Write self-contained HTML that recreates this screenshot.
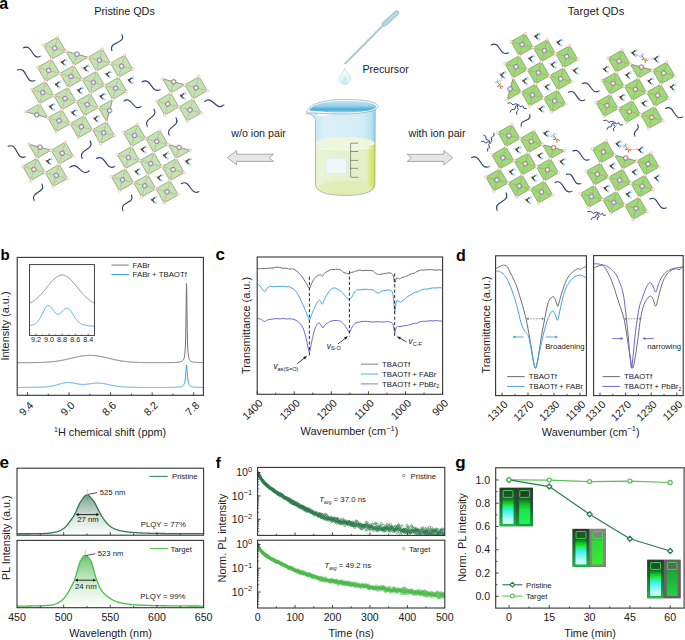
<!DOCTYPE html>
<html><head><meta charset="utf-8"><title>Figure</title><style>html,body{margin:0;padding:0;background:#fff;width:685px;height:640px;overflow:hidden}svg{display:block}text{font-family:"Liberation Sans",sans-serif}</style></head><body>
<svg width="685" height="640" viewBox="0 0 685 640">
<rect width="685" height="640" fill="#fff"/>
<g id="panel-a">
<path d="M23.4,47.8 C32.65,43.38 31.35,60.72 40.6,56.3" fill="none" stroke="#2d3f70" stroke-width="1.15" stroke-linecap="round"/>
<circle cx="40.6" cy="56.3" r="0.8" fill="#8fb8e8"/>
<path d="M111.9,50.6 C108.62,41.03 125.48,44.27 122.2,34.7" fill="none" stroke="#2d3f70" stroke-width="1.15" stroke-linecap="round"/>
<circle cx="122.2" cy="34.7" r="0.8" fill="#8fb8e8"/>
<path d="M17.5,70 C27.68,66.12 24.82,84.38 35,80.5" fill="none" stroke="#2d3f70" stroke-width="1.15" stroke-linecap="round"/>
<circle cx="35" cy="80.5" r="0.8" fill="#8fb8e8"/>
<path d="M124,101 C131.92,95.67 133.08,111.83 141,106.5" fill="none" stroke="#2d3f70" stroke-width="1.15" stroke-linecap="round"/>
<circle cx="141" cy="106.5" r="0.8" fill="#8fb8e8"/>
<path d="M142.1,81.8 C151.37,76.65 151.13,94.65 160.4,89.5" fill="none" stroke="#2d3f70" stroke-width="1.15" stroke-linecap="round"/>
<circle cx="160.4" cy="89.5" r="0.8" fill="#8fb8e8"/>
<path d="M204.7,101.5 C212.44,94.67 215.96,111.83 223.7,105" fill="none" stroke="#2d3f70" stroke-width="1.15" stroke-linecap="round"/>
<circle cx="223.7" cy="105" r="0.8" fill="#8fb8e8"/>
<path d="M154,109.2 C159.16,117.67 142.34,118.13 147.5,126.6" fill="none" stroke="#2d3f70" stroke-width="1.15" stroke-linecap="round"/>
<circle cx="147.5" cy="126.6" r="0.8" fill="#8fb8e8"/>
<path d="M176,117.8 C181.29,126.37 164.21,126.93 169.5,135.5" fill="none" stroke="#2d3f70" stroke-width="1.15" stroke-linecap="round"/>
<circle cx="169.5" cy="135.5" r="0.8" fill="#8fb8e8"/>
<path d="M8.2,146.3 C18.29,142.54 15.31,160.56 25.4,156.8" fill="none" stroke="#2d3f70" stroke-width="1.15" stroke-linecap="round"/>
<circle cx="25.4" cy="156.8" r="0.8" fill="#8fb8e8"/>
<path d="M89.3,170.8 C81.46,177.75 77.84,160.35 70,167.3" fill="none" stroke="#2d3f70" stroke-width="1.15" stroke-linecap="round"/>
<circle cx="70" cy="167.3" r="0.8" fill="#8fb8e8"/>
<path d="M90.2,141 C94.94,150.09 77.56,149.41 82.3,158.5" fill="none" stroke="#2d3f70" stroke-width="1.15" stroke-linecap="round"/>
<circle cx="82.3" cy="158.5" r="0.8" fill="#8fb8e8"/>
<path d="M42,184 C46.4,192.75 29.8,191.85 34.2,200.6" fill="none" stroke="#2d3f70" stroke-width="1.15" stroke-linecap="round"/>
<circle cx="34.2" cy="200.6" r="0.8" fill="#8fb8e8"/>
<path d="M96.4,158.5 C105.79,153.38 105.41,171.52 114.8,166.4" fill="none" stroke="#2d3f70" stroke-width="1.15" stroke-linecap="round"/>
<circle cx="114.8" cy="166.4" r="0.8" fill="#8fb8e8"/>
<path d="M181.5,183.6 C190.59,178.86 189.91,196.24 199,191.5" fill="none" stroke="#2d3f70" stroke-width="1.15" stroke-linecap="round"/>
<circle cx="199" cy="191.5" r="0.8" fill="#8fb8e8"/>
<path d="M131.5,195 C135.22,203.83 119.08,201.87 122.8,210.7" fill="none" stroke="#2d3f70" stroke-width="1.15" stroke-linecap="round"/>
<circle cx="122.8" cy="210.7" r="0.8" fill="#8fb8e8"/>
<path d="M491.2,44.9 C500.15,40.25 499.45,57.35 508.4,52.7" fill="none" stroke="#2d3f70" stroke-width="1.15" stroke-linecap="round"/>
<circle cx="508.4" cy="52.7" r="0.8" fill="#8fb8e8"/>
<path d="M582.3,83.6 C590.92,79.03 590.38,95.57 599,91" fill="none" stroke="#2d3f70" stroke-width="1.15" stroke-linecap="round"/>
<circle cx="599" cy="91" r="0.8" fill="#8fb8e8"/>
<path d="M568.5,92.2 C577.15,87.93 576.14,104.27 584.8,100" fill="none" stroke="#2d3f70" stroke-width="1.15" stroke-linecap="round"/>
<circle cx="584.8" cy="100" r="0.8" fill="#8fb8e8"/>
<path d="M529.8,114.5 C532.08,122.06 519.02,119.04 521.3,126.6" fill="none" stroke="#2d3f70" stroke-width="1.15" stroke-linecap="round"/>
<circle cx="521.3" cy="126.6" r="0.8" fill="#8fb8e8"/>
<path d="M665.5,108.4 C674.79,104.01 673.41,121.39 682.7,117" fill="none" stroke="#2d3f70" stroke-width="1.15" stroke-linecap="round"/>
<circle cx="682.7" cy="117" r="0.8" fill="#8fb8e8"/>
<path d="M637.6,124.8 C641.45,129.59 631.15,131.21 635,136" fill="none" stroke="#2d3f70" stroke-width="1.15" stroke-linecap="round"/>
<circle cx="635" cy="136" r="0.8" fill="#8fb8e8"/>
<path d="M471.6,157.6 C481.14,153.07 479.76,170.93 489.3,166.4" fill="none" stroke="#2d3f70" stroke-width="1.15" stroke-linecap="round"/>
<circle cx="489.3" cy="166.4" r="0.8" fill="#8fb8e8"/>
<path d="M572.8,151 C581.88,146.79 580.42,163.71 589.5,159.5" fill="none" stroke="#2d3f70" stroke-width="1.15" stroke-linecap="round"/>
<circle cx="589.5" cy="159.5" r="0.8" fill="#8fb8e8"/>
<path d="M566.4,174.4 C575.04,171.27 572.36,186.63 581,183.5" fill="none" stroke="#2d3f70" stroke-width="1.15" stroke-linecap="round"/>
<circle cx="581" cy="183.5" r="0.8" fill="#8fb8e8"/>
<path d="M555.1,182.4 C564.42,178.24 562.68,195.46 572,191.3" fill="none" stroke="#2d3f70" stroke-width="1.15" stroke-linecap="round"/>
<circle cx="572" cy="191.3" r="0.8" fill="#8fb8e8"/>
<path d="M506.1,192.9 C510.63,202.44 492.77,201.06 497.3,210.6" fill="none" stroke="#2d3f70" stroke-width="1.15" stroke-linecap="round"/>
<circle cx="497.3" cy="210.6" r="0.8" fill="#8fb8e8"/>
<path d="M649.7,198.9 C658.94,194.75 657.26,211.85 666.5,207.7" fill="none" stroke="#2d3f70" stroke-width="1.15" stroke-linecap="round"/>
<circle cx="666.5" cy="207.7" r="0.8" fill="#8fb8e8"/>
<polyline points="518.4,105 515.93,103.66 513,104.99 510.68,102.76 507.9,103.2" fill="none" stroke="#2d3f70" stroke-width="0.95" stroke-linejoin="round" stroke-linecap="round"/>
<polyline points="518.4,105 515.76,106.09 514.89,109.23 511.66,109.64 510.2,112.1" fill="none" stroke="#2d3f70" stroke-width="0.95" stroke-linejoin="round" stroke-linecap="round"/>
<polyline points="518.4,105 517.14,107.21 518.54,109.84 516.39,111.91 516.9,114.4" fill="none" stroke="#2d3f70" stroke-width="0.95" stroke-linejoin="round" stroke-linecap="round"/>
<polyline points="518.4,105 520.01,106.7 522.71,105.93 523.96,108.45 526.3,108.5" fill="none" stroke="#2d3f70" stroke-width="0.95" stroke-linejoin="round" stroke-linecap="round"/>
<circle cx="518.4" cy="105" r="0.9" fill="#7d8fd0"/>
<polyline points="614.7,122.5 612.1,121.14 609.05,122.44 606.6,120.19 603.7,120.6" fill="none" stroke="#2d3f70" stroke-width="0.95" stroke-linejoin="round" stroke-linecap="round"/>
<polyline points="614.7,122.5 612.15,123.58 611.4,126.67 608.25,127.08 606.9,129.5" fill="none" stroke="#2d3f70" stroke-width="0.95" stroke-linejoin="round" stroke-linecap="round"/>
<polyline points="614.7,122.5 613.6,124.54 615.2,126.83 613.2,128.79 613.9,131" fill="none" stroke="#2d3f70" stroke-width="0.95" stroke-linejoin="round" stroke-linecap="round"/>
<polyline points="614.7,122.5 616.4,123.94 618.85,122.79 620.3,125.09 622.5,124.8" fill="none" stroke="#2d3f70" stroke-width="0.95" stroke-linejoin="round" stroke-linecap="round"/>
<circle cx="614.7" cy="122.5" r="0.9" fill="#7d8fd0"/>
<polyline points="490,143 489.1,140.44 486.1,139.56 485.9,136.44 483.6,135" fill="none" stroke="#2d3f70" stroke-width="0.95" stroke-linejoin="round" stroke-linecap="round"/>
<polyline points="490,143 491.84,140.83 491.16,137.67 493.84,135.83 494,133" fill="none" stroke="#2d3f70" stroke-width="0.95" stroke-linejoin="round" stroke-linecap="round"/>
<polyline points="490,143 487.95,141.74 485.45,143.14 483.55,140.99 481.2,141.5" fill="none" stroke="#2d3f70" stroke-width="0.95" stroke-linejoin="round" stroke-linecap="round"/>
<polyline points="490,143 488.56,144.75 489.71,147.25 487.41,148.75 487.7,151" fill="none" stroke="#2d3f70" stroke-width="0.95" stroke-linejoin="round" stroke-linecap="round"/>
<circle cx="490" cy="143" r="0.9" fill="#7d8fd0"/>
<polyline points="599,213.3 596.33,212.01 593.27,213.39 590.73,211.21 587.8,211.7" fill="none" stroke="#2d3f70" stroke-width="0.95" stroke-linejoin="round" stroke-linecap="round"/>
<polyline points="599,213.3 596.44,214.2 595.56,217.2 592.44,217.4 591,219.7" fill="none" stroke="#2d3f70" stroke-width="0.95" stroke-linejoin="round" stroke-linecap="round"/>
<polyline points="599,213.3 597.75,214.69 599.13,216.71 597,217.89 597.5,219.7" fill="none" stroke="#2d3f70" stroke-width="0.95" stroke-linejoin="round" stroke-linecap="round"/>
<polyline points="599,213.3 600.4,214.6 602.48,213.28 603.65,215.45 605.5,215" fill="none" stroke="#2d3f70" stroke-width="0.95" stroke-linejoin="round" stroke-linecap="round"/>
<circle cx="599" cy="213.3" r="0.9" fill="#7d8fd0"/>
<polygon points="57.7,37.1 65.85,51.2 51.7,59.3 43.55,45.2" fill="#c6e2b0" stroke="#5a6a50" stroke-width="0.5" stroke-linejoin="round"/>
<path d="M54.7,48.2L57.7,37.1M54.7,48.2L65.85,51.2M54.7,48.2L51.7,59.3M54.7,48.2L43.55,45.2" stroke="#55654a" stroke-width="0.4" stroke-dasharray="0.9,0.8" fill="none"/>
<polygon points="88.15,57.2 74,65.3 65.85,51.2" fill="#c6e2b0" stroke="#5a6a50" stroke-width="0.5" stroke-linejoin="round"/>
<path d="M77,54.2L88.15,57.2M77,54.2L74,65.3M77,54.2L65.85,51.2" stroke="#55654a" stroke-width="0.4" stroke-dasharray="0.9,0.8" fill="none"/>
<polygon points="102.3,49.1 110.45,63.2 96.3,71.3 88.15,57.2" fill="#c6e2b0" stroke="#5a6a50" stroke-width="0.5" stroke-linejoin="round"/>
<path d="M99.3,60.2L102.3,49.1M99.3,60.2L110.45,63.2M99.3,60.2L96.3,71.3M99.3,60.2L88.15,57.2" stroke="#55654a" stroke-width="0.4" stroke-dasharray="0.9,0.8" fill="none"/>
<polygon points="124.6,55.1 132.75,69.2 118.6,77.3 110.45,63.2" fill="#c6e2b0" stroke="#5a6a50" stroke-width="0.5" stroke-linejoin="round"/>
<path d="M121.6,66.2L124.6,55.1M121.6,66.2L132.75,69.2M121.6,66.2L118.6,77.3M121.6,66.2L110.45,63.2" stroke="#55654a" stroke-width="0.4" stroke-dasharray="0.9,0.8" fill="none"/>
<polygon points="51.7,59.3 59.85,73.4 45.7,81.5 37.55,67.4" fill="#c6e2b0" stroke="#5a6a50" stroke-width="0.5" stroke-linejoin="round"/>
<path d="M48.7,70.4L51.7,59.3M48.7,70.4L59.85,73.4M48.7,70.4L45.7,81.5M48.7,70.4L37.55,67.4" stroke="#55654a" stroke-width="0.4" stroke-dasharray="0.9,0.8" fill="none"/>
<polygon points="74,65.3 82.15,79.4 68,87.5 59.85,73.4" fill="#c6e2b0" stroke="#5a6a50" stroke-width="0.5" stroke-linejoin="round"/>
<path d="M71,76.4L74,65.3M71,76.4L82.15,79.4M71,76.4L68,87.5M71,76.4L59.85,73.4" stroke="#55654a" stroke-width="0.4" stroke-dasharray="0.9,0.8" fill="none"/>
<polygon points="96.3,71.3 104.45,85.4 90.3,93.5 82.15,79.4" fill="#c6e2b0" stroke="#5a6a50" stroke-width="0.5" stroke-linejoin="round"/>
<path d="M93.3,82.4L96.3,71.3M93.3,82.4L104.45,85.4M93.3,82.4L90.3,93.5M93.3,82.4L82.15,79.4" stroke="#55654a" stroke-width="0.4" stroke-dasharray="0.9,0.8" fill="none"/>
<polygon points="118.6,77.3 126.75,91.4 112.6,99.5 104.45,85.4" fill="#c6e2b0" stroke="#5a6a50" stroke-width="0.5" stroke-linejoin="round"/>
<path d="M115.6,88.4L118.6,77.3M115.6,88.4L126.75,91.4M115.6,88.4L112.6,99.5M115.6,88.4L104.45,85.4" stroke="#55654a" stroke-width="0.4" stroke-dasharray="0.9,0.8" fill="none"/>
<polygon points="45.7,81.5 53.85,95.6 39.7,103.7 31.55,89.6" fill="#c6e2b0" stroke="#5a6a50" stroke-width="0.5" stroke-linejoin="round"/>
<path d="M42.7,92.6L45.7,81.5M42.7,92.6L53.85,95.6M42.7,92.6L39.7,103.7M42.7,92.6L31.55,89.6" stroke="#55654a" stroke-width="0.4" stroke-dasharray="0.9,0.8" fill="none"/>
<polygon points="68,87.5 76.15,101.6 62,109.7 53.85,95.6" fill="#c6e2b0" stroke="#5a6a50" stroke-width="0.5" stroke-linejoin="round"/>
<path d="M65,98.6L68,87.5M65,98.6L76.15,101.6M65,98.6L62,109.7M65,98.6L53.85,95.6" stroke="#55654a" stroke-width="0.4" stroke-dasharray="0.9,0.8" fill="none"/>
<polygon points="90.3,93.5 98.45,107.6 84.3,115.7 76.15,101.6" fill="#c6e2b0" stroke="#5a6a50" stroke-width="0.5" stroke-linejoin="round"/>
<path d="M87.3,104.6L90.3,93.5M87.3,104.6L98.45,107.6M87.3,104.6L84.3,115.7M87.3,104.6L76.15,101.6" stroke="#55654a" stroke-width="0.4" stroke-dasharray="0.9,0.8" fill="none"/>
<polygon points="112.6,99.5 106.6,121.7 98.45,107.6" fill="#c6e2b0" stroke="#5a6a50" stroke-width="0.5" stroke-linejoin="round"/>
<path d="M109.6,110.6L112.6,99.5M109.6,110.6L106.6,121.7M109.6,110.6L98.45,107.6" stroke="#55654a" stroke-width="0.4" stroke-dasharray="0.9,0.8" fill="none"/>
<polygon points="39.7,103.7 47.85,117.8 25.55,111.8" fill="#c6e2b0" stroke="#5a6a50" stroke-width="0.5" stroke-linejoin="round"/>
<path d="M36.7,114.8L39.7,103.7M36.7,114.8L47.85,117.8M36.7,114.8L25.55,111.8" stroke="#55654a" stroke-width="0.4" stroke-dasharray="0.9,0.8" fill="none"/>
<polygon points="62,109.7 70.15,123.8 56,131.9 47.85,117.8" fill="#c6e2b0" stroke="#5a6a50" stroke-width="0.5" stroke-linejoin="round"/>
<path d="M59,120.8L62,109.7M59,120.8L70.15,123.8M59,120.8L56,131.9M59,120.8L47.85,117.8" stroke="#55654a" stroke-width="0.4" stroke-dasharray="0.9,0.8" fill="none"/>
<polygon points="84.3,115.7 92.45,129.8 78.3,137.9 70.15,123.8" fill="#c6e2b0" stroke="#5a6a50" stroke-width="0.5" stroke-linejoin="round"/>
<path d="M81.3,126.8L84.3,115.7M81.3,126.8L92.45,129.8M81.3,126.8L78.3,137.9M81.3,126.8L70.15,123.8" stroke="#55654a" stroke-width="0.4" stroke-dasharray="0.9,0.8" fill="none"/>
<polygon points="106.6,121.7 114.75,135.8 100.6,143.9 92.45,129.8" fill="#c6e2b0" stroke="#5a6a50" stroke-width="0.5" stroke-linejoin="round"/>
<path d="M103.6,132.8L106.6,121.7M103.6,132.8L114.75,135.8M103.6,132.8L100.6,143.9M103.6,132.8L92.45,129.8" stroke="#55654a" stroke-width="0.4" stroke-dasharray="0.9,0.8" fill="none"/>
<polygon points="184.9,84.8 170.75,92.9 162.6,78.8" fill="#c6e2b0" stroke="#5a6a50" stroke-width="0.5" stroke-linejoin="round"/>
<path d="M173.75,81.8L184.9,84.8M173.75,81.8L170.75,92.9M173.75,81.8L162.6,78.8" stroke="#55654a" stroke-width="0.4" stroke-dasharray="0.9,0.8" fill="none"/>
<polygon points="199.05,76.7 207.2,90.8 193.05,98.9 184.9,84.8" fill="#c6e2b0" stroke="#5a6a50" stroke-width="0.5" stroke-linejoin="round"/>
<path d="M196.05,87.8L199.05,76.7M196.05,87.8L207.2,90.8M196.05,87.8L193.05,98.9M196.05,87.8L184.9,84.8" stroke="#55654a" stroke-width="0.4" stroke-dasharray="0.9,0.8" fill="none"/>
<polygon points="170.75,92.9 178.9,107 164.75,115.1 156.6,101" fill="#c6e2b0" stroke="#5a6a50" stroke-width="0.5" stroke-linejoin="round"/>
<path d="M167.75,104L170.75,92.9M167.75,104L178.9,107M167.75,104L164.75,115.1M167.75,104L156.6,101" stroke="#55654a" stroke-width="0.4" stroke-dasharray="0.9,0.8" fill="none"/>
<polygon points="193.05,98.9 201.2,113 187.05,121.1 178.9,107" fill="#c6e2b0" stroke="#5a6a50" stroke-width="0.5" stroke-linejoin="round"/>
<path d="M190.05,110L193.05,98.9M190.05,110L201.2,113M190.05,110L187.05,121.1M190.05,110L178.9,107" stroke="#55654a" stroke-width="0.4" stroke-dasharray="0.9,0.8" fill="none"/>
<polygon points="51.05,150.2 36.9,158.3 28.75,144.2" fill="#c6e2b0" stroke="#5a6a50" stroke-width="0.5" stroke-linejoin="round"/>
<path d="M39.9,147.2L51.05,150.2M39.9,147.2L36.9,158.3M39.9,147.2L28.75,144.2" stroke="#55654a" stroke-width="0.4" stroke-dasharray="0.9,0.8" fill="none"/>
<polygon points="65.2,142.1 73.35,156.2 59.2,164.3 51.05,150.2" fill="#c6e2b0" stroke="#5a6a50" stroke-width="0.5" stroke-linejoin="round"/>
<path d="M62.2,153.2L65.2,142.1M62.2,153.2L73.35,156.2M62.2,153.2L59.2,164.3M62.2,153.2L51.05,150.2" stroke="#55654a" stroke-width="0.4" stroke-dasharray="0.9,0.8" fill="none"/>
<polygon points="36.9,158.3 45.05,172.4 30.9,180.5 22.75,166.4" fill="#c6e2b0" stroke="#5a6a50" stroke-width="0.5" stroke-linejoin="round"/>
<path d="M33.9,169.4L36.9,158.3M33.9,169.4L45.05,172.4M33.9,169.4L30.9,180.5M33.9,169.4L22.75,166.4" stroke="#55654a" stroke-width="0.4" stroke-dasharray="0.9,0.8" fill="none"/>
<polygon points="59.2,164.3 67.35,178.4 53.2,186.5 45.05,172.4" fill="#c6e2b0" stroke="#5a6a50" stroke-width="0.5" stroke-linejoin="round"/>
<path d="M56.2,175.4L59.2,164.3M56.2,175.4L67.35,178.4M56.2,175.4L53.2,186.5M56.2,175.4L45.05,172.4" stroke="#55654a" stroke-width="0.4" stroke-dasharray="0.9,0.8" fill="none"/>
<polygon points="137.5,124.3 145.65,138.4 131.5,146.5 123.35,132.4" fill="#c6e2b0" stroke="#5a6a50" stroke-width="0.5" stroke-linejoin="round"/>
<path d="M134.5,135.4L137.5,124.3M134.5,135.4L145.65,138.4M134.5,135.4L131.5,146.5M134.5,135.4L123.35,132.4" stroke="#55654a" stroke-width="0.4" stroke-dasharray="0.9,0.8" fill="none"/>
<polygon points="159.8,130.3 167.95,144.4 153.8,152.5 145.65,138.4" fill="#c6e2b0" stroke="#5a6a50" stroke-width="0.5" stroke-linejoin="round"/>
<path d="M156.8,141.4L159.8,130.3M156.8,141.4L167.95,144.4M156.8,141.4L153.8,152.5M156.8,141.4L145.65,138.4" stroke="#55654a" stroke-width="0.4" stroke-dasharray="0.9,0.8" fill="none"/>
<polygon points="190.25,150.4 176.1,158.5 167.95,144.4" fill="#c6e2b0" stroke="#5a6a50" stroke-width="0.5" stroke-linejoin="round"/>
<path d="M179.1,147.4L190.25,150.4M179.1,147.4L176.1,158.5M179.1,147.4L167.95,144.4" stroke="#55654a" stroke-width="0.4" stroke-dasharray="0.9,0.8" fill="none"/>
<polygon points="131.5,146.5 139.65,160.6 125.5,168.7 117.35,154.6" fill="#c6e2b0" stroke="#5a6a50" stroke-width="0.5" stroke-linejoin="round"/>
<path d="M128.5,157.6L131.5,146.5M128.5,157.6L139.65,160.6M128.5,157.6L125.5,168.7M128.5,157.6L117.35,154.6" stroke="#55654a" stroke-width="0.4" stroke-dasharray="0.9,0.8" fill="none"/>
<polygon points="153.8,152.5 161.95,166.6 147.8,174.7 139.65,160.6" fill="#c6e2b0" stroke="#5a6a50" stroke-width="0.5" stroke-linejoin="round"/>
<path d="M150.8,163.6L153.8,152.5M150.8,163.6L161.95,166.6M150.8,163.6L147.8,174.7M150.8,163.6L139.65,160.6" stroke="#55654a" stroke-width="0.4" stroke-dasharray="0.9,0.8" fill="none"/>
<polygon points="176.1,158.5 184.25,172.6 170.1,180.7 161.95,166.6" fill="#c6e2b0" stroke="#5a6a50" stroke-width="0.5" stroke-linejoin="round"/>
<path d="M173.1,169.6L176.1,158.5M173.1,169.6L184.25,172.6M173.1,169.6L170.1,180.7M173.1,169.6L161.95,166.6" stroke="#55654a" stroke-width="0.4" stroke-dasharray="0.9,0.8" fill="none"/>
<polygon points="125.5,168.7 133.65,182.8 119.5,190.9 111.35,176.8" fill="#c6e2b0" stroke="#5a6a50" stroke-width="0.5" stroke-linejoin="round"/>
<path d="M122.5,179.8L125.5,168.7M122.5,179.8L133.65,182.8M122.5,179.8L119.5,190.9M122.5,179.8L111.35,176.8" stroke="#55654a" stroke-width="0.4" stroke-dasharray="0.9,0.8" fill="none"/>
<polygon points="147.8,174.7 155.95,188.8 141.8,196.9 133.65,182.8" fill="#c6e2b0" stroke="#5a6a50" stroke-width="0.5" stroke-linejoin="round"/>
<path d="M144.8,185.8L147.8,174.7M144.8,185.8L155.95,188.8M144.8,185.8L141.8,196.9M144.8,185.8L133.65,182.8" stroke="#55654a" stroke-width="0.4" stroke-dasharray="0.9,0.8" fill="none"/>
<polygon points="170.1,180.7 178.25,194.8 164.1,202.9 155.95,188.8" fill="#c6e2b0" stroke="#5a6a50" stroke-width="0.5" stroke-linejoin="round"/>
<path d="M167.1,191.8L170.1,180.7M167.1,191.8L178.25,194.8M167.1,191.8L164.1,202.9M167.1,191.8L155.95,188.8" stroke="#55654a" stroke-width="0.4" stroke-dasharray="0.9,0.8" fill="none"/>
<polygon points="525.1,33.5 533.25,47.6 519.1,55.7 510.95,41.6" fill="#a2d878" stroke="#5a6a50" stroke-width="0.5" stroke-linejoin="round"/>
<path d="M522.1,44.6L525.1,33.5M522.1,44.6L533.25,47.6M522.1,44.6L519.1,55.7M522.1,44.6L510.95,41.6" stroke="#55654a" stroke-width="0.4" stroke-dasharray="0.9,0.8" fill="none"/>
<polygon points="547.4,39.5 555.55,53.6 541.4,61.7 533.25,47.6" fill="#a2d878" stroke="#5a6a50" stroke-width="0.5" stroke-linejoin="round"/>
<path d="M544.4,50.6L547.4,39.5M544.4,50.6L555.55,53.6M544.4,50.6L541.4,61.7M544.4,50.6L533.25,47.6" stroke="#55654a" stroke-width="0.4" stroke-dasharray="0.9,0.8" fill="none"/>
<polygon points="569.7,45.5 577.85,59.6 563.7,67.7 555.55,53.6" fill="#a2d878" stroke="#5a6a50" stroke-width="0.5" stroke-linejoin="round"/>
<path d="M566.7,56.6L569.7,45.5M566.7,56.6L577.85,59.6M566.7,56.6L563.7,67.7M566.7,56.6L555.55,53.6" stroke="#55654a" stroke-width="0.4" stroke-dasharray="0.9,0.8" fill="none"/>
<polygon points="519.1,55.7 527.25,69.8 513.1,77.9 504.95,63.8" fill="#a2d878" stroke="#5a6a50" stroke-width="0.5" stroke-linejoin="round"/>
<path d="M516.1,66.8L519.1,55.7M516.1,66.8L527.25,69.8M516.1,66.8L513.1,77.9M516.1,66.8L504.95,63.8" stroke="#55654a" stroke-width="0.4" stroke-dasharray="0.9,0.8" fill="none"/>
<polygon points="541.4,61.7 549.55,75.8 535.4,83.9 527.25,69.8" fill="#a2d878" stroke="#5a6a50" stroke-width="0.5" stroke-linejoin="round"/>
<path d="M538.4,72.8L541.4,61.7M538.4,72.8L549.55,75.8M538.4,72.8L535.4,83.9M538.4,72.8L527.25,69.8" stroke="#55654a" stroke-width="0.4" stroke-dasharray="0.9,0.8" fill="none"/>
<polygon points="563.7,67.7 571.85,81.8 557.7,89.9 549.55,75.8" fill="#a2d878" stroke="#5a6a50" stroke-width="0.5" stroke-linejoin="round"/>
<path d="M560.7,78.8L563.7,67.7M560.7,78.8L571.85,81.8M560.7,78.8L557.7,89.9M560.7,78.8L549.55,75.8" stroke="#55654a" stroke-width="0.4" stroke-dasharray="0.9,0.8" fill="none"/>
<polygon points="513.1,77.9 521.25,92 507.1,100.1" fill="#a2d878" stroke="#5a6a50" stroke-width="0.5" stroke-linejoin="round"/>
<path d="M510.1,89L513.1,77.9M510.1,89L521.25,92M510.1,89L507.1,100.1" stroke="#55654a" stroke-width="0.4" stroke-dasharray="0.9,0.8" fill="none"/>
<polygon points="535.4,83.9 543.55,98 529.4,106.1 521.25,92" fill="#a2d878" stroke="#5a6a50" stroke-width="0.5" stroke-linejoin="round"/>
<path d="M532.4,95L535.4,83.9M532.4,95L543.55,98M532.4,95L529.4,106.1M532.4,95L521.25,92" stroke="#55654a" stroke-width="0.4" stroke-dasharray="0.9,0.8" fill="none"/>
<polygon points="557.7,89.9 565.85,104 551.7,112.1 543.55,98" fill="#a2d878" stroke="#5a6a50" stroke-width="0.5" stroke-linejoin="round"/>
<path d="M554.7,101L557.7,89.9M554.7,101L565.85,104M554.7,101L551.7,112.1M554.7,101L543.55,98" stroke="#55654a" stroke-width="0.4" stroke-dasharray="0.9,0.8" fill="none"/>
<polygon points="622.1,50 630.25,64.1 616.1,72.2 607.95,58.1" fill="#a2d878" stroke="#5a6a50" stroke-width="0.5" stroke-linejoin="round"/>
<path d="M619.1,61.1L622.1,50M619.1,61.1L630.25,64.1M619.1,61.1L616.1,72.2M619.1,61.1L607.95,58.1" stroke="#55654a" stroke-width="0.4" stroke-dasharray="0.9,0.8" fill="none"/>
<polygon points="652.55,70.1 638.4,78.2 630.25,64.1" fill="#a2d878" stroke="#5a6a50" stroke-width="0.5" stroke-linejoin="round"/>
<path d="M641.4,67.1L652.55,70.1M641.4,67.1L638.4,78.2M641.4,67.1L630.25,64.1" stroke="#55654a" stroke-width="0.4" stroke-dasharray="0.9,0.8" fill="none"/>
<polygon points="666.7,62 674.85,76.1 660.7,84.2 652.55,70.1" fill="#a2d878" stroke="#5a6a50" stroke-width="0.5" stroke-linejoin="round"/>
<path d="M663.7,73.1L666.7,62M663.7,73.1L674.85,76.1M663.7,73.1L660.7,84.2M663.7,73.1L652.55,70.1" stroke="#55654a" stroke-width="0.4" stroke-dasharray="0.9,0.8" fill="none"/>
<polygon points="616.1,72.2 624.25,86.3 610.1,94.4 601.95,80.3" fill="#a2d878" stroke="#5a6a50" stroke-width="0.5" stroke-linejoin="round"/>
<path d="M613.1,83.3L616.1,72.2M613.1,83.3L624.25,86.3M613.1,83.3L610.1,94.4M613.1,83.3L601.95,80.3" stroke="#55654a" stroke-width="0.4" stroke-dasharray="0.9,0.8" fill="none"/>
<polygon points="638.4,78.2 646.55,92.3 632.4,100.4 624.25,86.3" fill="#a2d878" stroke="#5a6a50" stroke-width="0.5" stroke-linejoin="round"/>
<path d="M635.4,89.3L638.4,78.2M635.4,89.3L646.55,92.3M635.4,89.3L632.4,100.4M635.4,89.3L624.25,86.3" stroke="#55654a" stroke-width="0.4" stroke-dasharray="0.9,0.8" fill="none"/>
<polygon points="660.7,84.2 668.85,98.3 654.7,106.4 646.55,92.3" fill="#a2d878" stroke="#5a6a50" stroke-width="0.5" stroke-linejoin="round"/>
<path d="M657.7,95.3L660.7,84.2M657.7,95.3L668.85,98.3M657.7,95.3L654.7,106.4M657.7,95.3L646.55,92.3" stroke="#55654a" stroke-width="0.4" stroke-dasharray="0.9,0.8" fill="none"/>
<polygon points="610.1,94.4 618.25,108.5 604.1,116.6 595.95,102.5" fill="#a2d878" stroke="#5a6a50" stroke-width="0.5" stroke-linejoin="round"/>
<path d="M607.1,105.5L610.1,94.4M607.1,105.5L618.25,108.5M607.1,105.5L604.1,116.6M607.1,105.5L595.95,102.5" stroke="#55654a" stroke-width="0.4" stroke-dasharray="0.9,0.8" fill="none"/>
<polygon points="632.4,100.4 640.55,114.5 626.4,122.6 618.25,108.5" fill="#a2d878" stroke="#5a6a50" stroke-width="0.5" stroke-linejoin="round"/>
<path d="M629.4,111.5L632.4,100.4M629.4,111.5L640.55,114.5M629.4,111.5L626.4,122.6M629.4,111.5L618.25,108.5" stroke="#55654a" stroke-width="0.4" stroke-dasharray="0.9,0.8" fill="none"/>
<polygon points="654.7,106.4 662.85,120.5 648.7,128.6 640.55,114.5" fill="#a2d878" stroke="#5a6a50" stroke-width="0.5" stroke-linejoin="round"/>
<path d="M651.7,117.5L654.7,106.4M651.7,117.5L662.85,120.5M651.7,117.5L648.7,128.6M651.7,117.5L640.55,114.5" stroke="#55654a" stroke-width="0.4" stroke-dasharray="0.9,0.8" fill="none"/>
<polygon points="511.9,124.5 520.05,138.6 505.9,146.7 497.75,132.6" fill="#a2d878" stroke="#5a6a50" stroke-width="0.5" stroke-linejoin="round"/>
<path d="M508.9,135.6L511.9,124.5M508.9,135.6L520.05,138.6M508.9,135.6L505.9,146.7M508.9,135.6L497.75,132.6" stroke="#55654a" stroke-width="0.4" stroke-dasharray="0.9,0.8" fill="none"/>
<polygon points="534.2,130.5 542.35,144.6 528.2,152.7 520.05,138.6" fill="#a2d878" stroke="#5a6a50" stroke-width="0.5" stroke-linejoin="round"/>
<path d="M531.2,141.6L534.2,130.5M531.2,141.6L542.35,144.6M531.2,141.6L528.2,152.7M531.2,141.6L520.05,138.6" stroke="#55654a" stroke-width="0.4" stroke-dasharray="0.9,0.8" fill="none"/>
<polygon points="564.65,150.6 550.5,158.7 542.35,144.6" fill="#a2d878" stroke="#5a6a50" stroke-width="0.5" stroke-linejoin="round"/>
<path d="M553.5,147.6L564.65,150.6M553.5,147.6L550.5,158.7M553.5,147.6L542.35,144.6" stroke="#55654a" stroke-width="0.4" stroke-dasharray="0.9,0.8" fill="none"/>
<polygon points="505.9,146.7 514.05,160.8 499.9,168.9 491.75,154.8" fill="#a2d878" stroke="#5a6a50" stroke-width="0.5" stroke-linejoin="round"/>
<path d="M502.9,157.8L505.9,146.7M502.9,157.8L514.05,160.8M502.9,157.8L499.9,168.9M502.9,157.8L491.75,154.8" stroke="#55654a" stroke-width="0.4" stroke-dasharray="0.9,0.8" fill="none"/>
<polygon points="528.2,152.7 536.35,166.8 522.2,174.9 514.05,160.8" fill="#a2d878" stroke="#5a6a50" stroke-width="0.5" stroke-linejoin="round"/>
<path d="M525.2,163.8L528.2,152.7M525.2,163.8L536.35,166.8M525.2,163.8L522.2,174.9M525.2,163.8L514.05,160.8" stroke="#55654a" stroke-width="0.4" stroke-dasharray="0.9,0.8" fill="none"/>
<polygon points="550.5,158.7 558.65,172.8 544.5,180.9 536.35,166.8" fill="#a2d878" stroke="#5a6a50" stroke-width="0.5" stroke-linejoin="round"/>
<path d="M547.5,169.8L550.5,158.7M547.5,169.8L558.65,172.8M547.5,169.8L544.5,180.9M547.5,169.8L536.35,166.8" stroke="#55654a" stroke-width="0.4" stroke-dasharray="0.9,0.8" fill="none"/>
<polygon points="499.9,168.9 508.05,183 493.9,191.1 485.75,177" fill="#a2d878" stroke="#5a6a50" stroke-width="0.5" stroke-linejoin="round"/>
<path d="M496.9,180L499.9,168.9M496.9,180L508.05,183M496.9,180L493.9,191.1M496.9,180L485.75,177" stroke="#55654a" stroke-width="0.4" stroke-dasharray="0.9,0.8" fill="none"/>
<polygon points="522.2,174.9 530.35,189 516.2,197.1 508.05,183" fill="#a2d878" stroke="#5a6a50" stroke-width="0.5" stroke-linejoin="round"/>
<path d="M519.2,186L522.2,174.9M519.2,186L530.35,189M519.2,186L516.2,197.1M519.2,186L508.05,183" stroke="#55654a" stroke-width="0.4" stroke-dasharray="0.9,0.8" fill="none"/>
<polygon points="544.5,180.9 552.65,195 538.5,203.1 530.35,189" fill="#a2d878" stroke="#5a6a50" stroke-width="0.5" stroke-linejoin="round"/>
<path d="M541.5,192L544.5,180.9M541.5,192L552.65,195M541.5,192L538.5,203.1M541.5,192L530.35,189" stroke="#55654a" stroke-width="0.4" stroke-dasharray="0.9,0.8" fill="none"/>
<polygon points="606.4,140.9 614.55,155 600.4,163.1 592.25,149" fill="#a2d878" stroke="#5a6a50" stroke-width="0.5" stroke-linejoin="round"/>
<path d="M603.4,152L606.4,140.9M603.4,152L614.55,155M603.4,152L600.4,163.1M603.4,152L592.25,149" stroke="#55654a" stroke-width="0.4" stroke-dasharray="0.9,0.8" fill="none"/>
<polygon points="636.85,161 622.7,169.1 614.55,155" fill="#a2d878" stroke="#5a6a50" stroke-width="0.5" stroke-linejoin="round"/>
<path d="M625.7,158L636.85,161M625.7,158L622.7,169.1M625.7,158L614.55,155" stroke="#55654a" stroke-width="0.4" stroke-dasharray="0.9,0.8" fill="none"/>
<polygon points="651,152.9 659.15,167 645,175.1 636.85,161" fill="#a2d878" stroke="#5a6a50" stroke-width="0.5" stroke-linejoin="round"/>
<path d="M648,164L651,152.9M648,164L659.15,167M648,164L645,175.1M648,164L636.85,161" stroke="#55654a" stroke-width="0.4" stroke-dasharray="0.9,0.8" fill="none"/>
<polygon points="600.4,163.1 608.55,177.2 594.4,185.3 586.25,171.2" fill="#a2d878" stroke="#5a6a50" stroke-width="0.5" stroke-linejoin="round"/>
<path d="M597.4,174.2L600.4,163.1M597.4,174.2L608.55,177.2M597.4,174.2L594.4,185.3M597.4,174.2L586.25,171.2" stroke="#55654a" stroke-width="0.4" stroke-dasharray="0.9,0.8" fill="none"/>
<polygon points="622.7,169.1 630.85,183.2 616.7,191.3 608.55,177.2" fill="#a2d878" stroke="#5a6a50" stroke-width="0.5" stroke-linejoin="round"/>
<path d="M619.7,180.2L622.7,169.1M619.7,180.2L630.85,183.2M619.7,180.2L616.7,191.3M619.7,180.2L608.55,177.2" stroke="#55654a" stroke-width="0.4" stroke-dasharray="0.9,0.8" fill="none"/>
<polygon points="645,175.1 653.15,189.2 639,197.3 630.85,183.2" fill="#a2d878" stroke="#5a6a50" stroke-width="0.5" stroke-linejoin="round"/>
<path d="M642,186.2L645,175.1M642,186.2L653.15,189.2M642,186.2L639,197.3M642,186.2L630.85,183.2" stroke="#55654a" stroke-width="0.4" stroke-dasharray="0.9,0.8" fill="none"/>
<polygon points="594.4,185.3 602.55,199.4 588.4,207.5 580.25,193.4" fill="#a2d878" stroke="#5a6a50" stroke-width="0.5" stroke-linejoin="round"/>
<path d="M591.4,196.4L594.4,185.3M591.4,196.4L602.55,199.4M591.4,196.4L588.4,207.5M591.4,196.4L580.25,193.4" stroke="#55654a" stroke-width="0.4" stroke-dasharray="0.9,0.8" fill="none"/>
<polygon points="616.7,191.3 624.85,205.4 610.7,213.5 602.55,199.4" fill="#a2d878" stroke="#5a6a50" stroke-width="0.5" stroke-linejoin="round"/>
<path d="M613.7,202.4L616.7,191.3M613.7,202.4L624.85,205.4M613.7,202.4L610.7,213.5M613.7,202.4L602.55,199.4" stroke="#55654a" stroke-width="0.4" stroke-dasharray="0.9,0.8" fill="none"/>
<polygon points="639,197.3 647.15,211.4 633,219.5 624.85,205.4" fill="#a2d878" stroke="#5a6a50" stroke-width="0.5" stroke-linejoin="round"/>
<path d="M636,208.4L639,197.3M636,208.4L647.15,211.4M636,208.4L633,219.5M636,208.4L624.85,205.4" stroke="#55654a" stroke-width="0.4" stroke-dasharray="0.9,0.8" fill="none"/>
<circle cx="57.7" cy="37.1" r="1.25" fill="#fff" stroke="#eab398" stroke-width="0.7"/>
<circle cx="65.85" cy="51.2" r="1.25" fill="#fff" stroke="#eab398" stroke-width="0.7"/>
<circle cx="51.7" cy="59.3" r="1.25" fill="#fff" stroke="#eab398" stroke-width="0.7"/>
<circle cx="43.55" cy="45.2" r="1.25" fill="#fff" stroke="#eab398" stroke-width="0.7"/>
<circle cx="88.15" cy="57.2" r="1.25" fill="#fff" stroke="#eab398" stroke-width="0.7"/>
<circle cx="74" cy="65.3" r="1.25" fill="#fff" stroke="#eab398" stroke-width="0.7"/>
<circle cx="65.85" cy="51.2" r="1.25" fill="#fff" stroke="#eab398" stroke-width="0.7"/>
<circle cx="102.3" cy="49.1" r="1.25" fill="#fff" stroke="#eab398" stroke-width="0.7"/>
<circle cx="110.45" cy="63.2" r="1.25" fill="#fff" stroke="#eab398" stroke-width="0.7"/>
<circle cx="96.3" cy="71.3" r="1.25" fill="#fff" stroke="#eab398" stroke-width="0.7"/>
<circle cx="124.6" cy="55.1" r="1.25" fill="#fff" stroke="#eab398" stroke-width="0.7"/>
<circle cx="132.75" cy="69.2" r="1.25" fill="#fff" stroke="#eab398" stroke-width="0.7"/>
<circle cx="118.6" cy="77.3" r="1.25" fill="#fff" stroke="#eab398" stroke-width="0.7"/>
<circle cx="59.85" cy="73.4" r="1.25" fill="#fff" stroke="#eab398" stroke-width="0.7"/>
<circle cx="45.7" cy="81.5" r="1.25" fill="#fff" stroke="#eab398" stroke-width="0.7"/>
<circle cx="37.55" cy="67.4" r="1.25" fill="#fff" stroke="#eab398" stroke-width="0.7"/>
<circle cx="82.15" cy="79.4" r="1.25" fill="#fff" stroke="#eab398" stroke-width="0.7"/>
<circle cx="68" cy="87.5" r="1.25" fill="#fff" stroke="#eab398" stroke-width="0.7"/>
<circle cx="104.45" cy="85.4" r="1.25" fill="#fff" stroke="#eab398" stroke-width="0.7"/>
<circle cx="90.3" cy="93.5" r="1.25" fill="#fff" stroke="#eab398" stroke-width="0.7"/>
<circle cx="126.75" cy="91.4" r="1.25" fill="#fff" stroke="#eab398" stroke-width="0.7"/>
<circle cx="112.6" cy="99.5" r="1.25" fill="#fff" stroke="#eab398" stroke-width="0.7"/>
<circle cx="53.85" cy="95.6" r="1.25" fill="#fff" stroke="#eab398" stroke-width="0.7"/>
<circle cx="39.7" cy="103.7" r="1.25" fill="#fff" stroke="#eab398" stroke-width="0.7"/>
<circle cx="31.55" cy="89.6" r="1.25" fill="#fff" stroke="#eab398" stroke-width="0.7"/>
<circle cx="76.15" cy="101.6" r="1.25" fill="#fff" stroke="#eab398" stroke-width="0.7"/>
<circle cx="62" cy="109.7" r="1.25" fill="#fff" stroke="#eab398" stroke-width="0.7"/>
<circle cx="98.45" cy="107.6" r="1.25" fill="#fff" stroke="#eab398" stroke-width="0.7"/>
<circle cx="84.3" cy="115.7" r="1.25" fill="#fff" stroke="#eab398" stroke-width="0.7"/>
<circle cx="106.6" cy="121.7" r="1.25" fill="#fff" stroke="#eab398" stroke-width="0.7"/>
<circle cx="47.85" cy="117.8" r="1.25" fill="#fff" stroke="#eab398" stroke-width="0.7"/>
<circle cx="25.55" cy="111.8" r="1.25" fill="#fff" stroke="#eab398" stroke-width="0.7"/>
<circle cx="70.15" cy="123.8" r="1.25" fill="#fff" stroke="#eab398" stroke-width="0.7"/>
<circle cx="56" cy="131.9" r="1.25" fill="#fff" stroke="#eab398" stroke-width="0.7"/>
<circle cx="92.45" cy="129.8" r="1.25" fill="#fff" stroke="#eab398" stroke-width="0.7"/>
<circle cx="78.3" cy="137.9" r="1.25" fill="#fff" stroke="#eab398" stroke-width="0.7"/>
<circle cx="114.75" cy="135.8" r="1.25" fill="#fff" stroke="#eab398" stroke-width="0.7"/>
<circle cx="100.6" cy="143.9" r="1.25" fill="#fff" stroke="#eab398" stroke-width="0.7"/>
<circle cx="184.9" cy="84.8" r="1.25" fill="#fff" stroke="#eab398" stroke-width="0.7"/>
<circle cx="170.75" cy="92.9" r="1.25" fill="#fff" stroke="#eab398" stroke-width="0.7"/>
<circle cx="162.6" cy="78.8" r="1.25" fill="#fff" stroke="#eab398" stroke-width="0.7"/>
<circle cx="199.05" cy="76.7" r="1.25" fill="#fff" stroke="#eab398" stroke-width="0.7"/>
<circle cx="207.2" cy="90.8" r="1.25" fill="#fff" stroke="#eab398" stroke-width="0.7"/>
<circle cx="193.05" cy="98.9" r="1.25" fill="#fff" stroke="#eab398" stroke-width="0.7"/>
<circle cx="178.9" cy="107" r="1.25" fill="#fff" stroke="#eab398" stroke-width="0.7"/>
<circle cx="164.75" cy="115.1" r="1.25" fill="#fff" stroke="#eab398" stroke-width="0.7"/>
<circle cx="156.6" cy="101" r="1.25" fill="#fff" stroke="#eab398" stroke-width="0.7"/>
<circle cx="201.2" cy="113" r="1.25" fill="#fff" stroke="#eab398" stroke-width="0.7"/>
<circle cx="187.05" cy="121.1" r="1.25" fill="#fff" stroke="#eab398" stroke-width="0.7"/>
<circle cx="51.05" cy="150.2" r="1.25" fill="#fff" stroke="#eab398" stroke-width="0.7"/>
<circle cx="36.9" cy="158.3" r="1.25" fill="#fff" stroke="#eab398" stroke-width="0.7"/>
<circle cx="28.75" cy="144.2" r="1.25" fill="#fff" stroke="#eab398" stroke-width="0.7"/>
<circle cx="65.2" cy="142.1" r="1.25" fill="#fff" stroke="#eab398" stroke-width="0.7"/>
<circle cx="73.35" cy="156.2" r="1.25" fill="#fff" stroke="#eab398" stroke-width="0.7"/>
<circle cx="59.2" cy="164.3" r="1.25" fill="#fff" stroke="#eab398" stroke-width="0.7"/>
<circle cx="51.05" cy="150.2" r="1.25" fill="#fff" stroke="#eab398" stroke-width="0.7"/>
<circle cx="45.05" cy="172.4" r="1.25" fill="#fff" stroke="#eab398" stroke-width="0.7"/>
<circle cx="30.9" cy="180.5" r="1.25" fill="#fff" stroke="#eab398" stroke-width="0.7"/>
<circle cx="22.75" cy="166.4" r="1.25" fill="#fff" stroke="#eab398" stroke-width="0.7"/>
<circle cx="67.35" cy="178.4" r="1.25" fill="#fff" stroke="#eab398" stroke-width="0.7"/>
<circle cx="53.2" cy="186.5" r="1.25" fill="#fff" stroke="#eab398" stroke-width="0.7"/>
<circle cx="45.05" cy="172.4" r="1.25" fill="#fff" stroke="#eab398" stroke-width="0.7"/>
<circle cx="137.5" cy="124.3" r="1.25" fill="#fff" stroke="#eab398" stroke-width="0.7"/>
<circle cx="145.65" cy="138.4" r="1.25" fill="#fff" stroke="#eab398" stroke-width="0.7"/>
<circle cx="131.5" cy="146.5" r="1.25" fill="#fff" stroke="#eab398" stroke-width="0.7"/>
<circle cx="123.35" cy="132.4" r="1.25" fill="#fff" stroke="#eab398" stroke-width="0.7"/>
<circle cx="159.8" cy="130.3" r="1.25" fill="#fff" stroke="#eab398" stroke-width="0.7"/>
<circle cx="167.95" cy="144.4" r="1.25" fill="#fff" stroke="#eab398" stroke-width="0.7"/>
<circle cx="153.8" cy="152.5" r="1.25" fill="#fff" stroke="#eab398" stroke-width="0.7"/>
<circle cx="190.25" cy="150.4" r="1.25" fill="#fff" stroke="#eab398" stroke-width="0.7"/>
<circle cx="176.1" cy="158.5" r="1.25" fill="#fff" stroke="#eab398" stroke-width="0.7"/>
<circle cx="167.95" cy="144.4" r="1.25" fill="#fff" stroke="#eab398" stroke-width="0.7"/>
<circle cx="139.65" cy="160.6" r="1.25" fill="#fff" stroke="#eab398" stroke-width="0.7"/>
<circle cx="125.5" cy="168.7" r="1.25" fill="#fff" stroke="#eab398" stroke-width="0.7"/>
<circle cx="117.35" cy="154.6" r="1.25" fill="#fff" stroke="#eab398" stroke-width="0.7"/>
<circle cx="161.95" cy="166.6" r="1.25" fill="#fff" stroke="#eab398" stroke-width="0.7"/>
<circle cx="147.8" cy="174.7" r="1.25" fill="#fff" stroke="#eab398" stroke-width="0.7"/>
<circle cx="184.25" cy="172.6" r="1.25" fill="#fff" stroke="#eab398" stroke-width="0.7"/>
<circle cx="170.1" cy="180.7" r="1.25" fill="#fff" stroke="#eab398" stroke-width="0.7"/>
<circle cx="161.95" cy="166.6" r="1.25" fill="#fff" stroke="#eab398" stroke-width="0.7"/>
<circle cx="133.65" cy="182.8" r="1.25" fill="#fff" stroke="#eab398" stroke-width="0.7"/>
<circle cx="119.5" cy="190.9" r="1.25" fill="#fff" stroke="#eab398" stroke-width="0.7"/>
<circle cx="111.35" cy="176.8" r="1.25" fill="#fff" stroke="#eab398" stroke-width="0.7"/>
<circle cx="155.95" cy="188.8" r="1.25" fill="#fff" stroke="#eab398" stroke-width="0.7"/>
<circle cx="141.8" cy="196.9" r="1.25" fill="#fff" stroke="#eab398" stroke-width="0.7"/>
<circle cx="178.25" cy="194.8" r="1.25" fill="#fff" stroke="#eab398" stroke-width="0.7"/>
<circle cx="164.1" cy="202.9" r="1.25" fill="#fff" stroke="#eab398" stroke-width="0.7"/>
<circle cx="155.95" cy="188.8" r="1.25" fill="#fff" stroke="#eab398" stroke-width="0.7"/>
<circle cx="525.1" cy="33.5" r="1.25" fill="#fff" stroke="#eab398" stroke-width="0.7"/>
<circle cx="533.25" cy="47.6" r="1.25" fill="#fff" stroke="#eab398" stroke-width="0.7"/>
<circle cx="519.1" cy="55.7" r="1.25" fill="#fff" stroke="#eab398" stroke-width="0.7"/>
<circle cx="510.95" cy="41.6" r="1.25" fill="#fff" stroke="#eab398" stroke-width="0.7"/>
<circle cx="547.4" cy="39.5" r="1.25" fill="#fff" stroke="#eab398" stroke-width="0.7"/>
<circle cx="555.55" cy="53.6" r="1.25" fill="#fff" stroke="#eab398" stroke-width="0.7"/>
<circle cx="541.4" cy="61.7" r="1.25" fill="#fff" stroke="#eab398" stroke-width="0.7"/>
<circle cx="569.7" cy="45.5" r="1.25" fill="#fff" stroke="#eab398" stroke-width="0.7"/>
<circle cx="577.85" cy="59.6" r="1.25" fill="#fff" stroke="#eab398" stroke-width="0.7"/>
<circle cx="563.7" cy="67.7" r="1.25" fill="#fff" stroke="#eab398" stroke-width="0.7"/>
<circle cx="555.55" cy="53.6" r="1.25" fill="#fff" stroke="#eab398" stroke-width="0.7"/>
<circle cx="527.25" cy="69.8" r="1.25" fill="#fff" stroke="#eab398" stroke-width="0.7"/>
<circle cx="513.1" cy="77.9" r="1.25" fill="#fff" stroke="#eab398" stroke-width="0.7"/>
<circle cx="504.95" cy="63.8" r="1.25" fill="#fff" stroke="#eab398" stroke-width="0.7"/>
<circle cx="549.55" cy="75.8" r="1.25" fill="#fff" stroke="#eab398" stroke-width="0.7"/>
<circle cx="535.4" cy="83.9" r="1.25" fill="#fff" stroke="#eab398" stroke-width="0.7"/>
<circle cx="571.85" cy="81.8" r="1.25" fill="#fff" stroke="#eab398" stroke-width="0.7"/>
<circle cx="557.7" cy="89.9" r="1.25" fill="#fff" stroke="#eab398" stroke-width="0.7"/>
<circle cx="549.55" cy="75.8" r="1.25" fill="#fff" stroke="#eab398" stroke-width="0.7"/>
<circle cx="521.25" cy="92" r="1.25" fill="#fff" stroke="#eab398" stroke-width="0.7"/>
<circle cx="507.1" cy="100.1" r="1.25" fill="#fff" stroke="#eab398" stroke-width="0.7"/>
<circle cx="543.55" cy="98" r="1.25" fill="#fff" stroke="#eab398" stroke-width="0.7"/>
<circle cx="529.4" cy="106.1" r="1.25" fill="#fff" stroke="#eab398" stroke-width="0.7"/>
<circle cx="565.85" cy="104" r="1.25" fill="#fff" stroke="#eab398" stroke-width="0.7"/>
<circle cx="551.7" cy="112.1" r="1.25" fill="#fff" stroke="#eab398" stroke-width="0.7"/>
<circle cx="543.55" cy="98" r="1.25" fill="#fff" stroke="#eab398" stroke-width="0.7"/>
<circle cx="622.1" cy="50" r="1.25" fill="#fff" stroke="#eab398" stroke-width="0.7"/>
<circle cx="630.25" cy="64.1" r="1.25" fill="#fff" stroke="#eab398" stroke-width="0.7"/>
<circle cx="616.1" cy="72.2" r="1.25" fill="#fff" stroke="#eab398" stroke-width="0.7"/>
<circle cx="607.95" cy="58.1" r="1.25" fill="#fff" stroke="#eab398" stroke-width="0.7"/>
<circle cx="652.55" cy="70.1" r="1.25" fill="#fff" stroke="#eab398" stroke-width="0.7"/>
<circle cx="638.4" cy="78.2" r="1.25" fill="#fff" stroke="#eab398" stroke-width="0.7"/>
<circle cx="666.7" cy="62" r="1.25" fill="#fff" stroke="#eab398" stroke-width="0.7"/>
<circle cx="674.85" cy="76.1" r="1.25" fill="#fff" stroke="#eab398" stroke-width="0.7"/>
<circle cx="660.7" cy="84.2" r="1.25" fill="#fff" stroke="#eab398" stroke-width="0.7"/>
<circle cx="652.55" cy="70.1" r="1.25" fill="#fff" stroke="#eab398" stroke-width="0.7"/>
<circle cx="624.25" cy="86.3" r="1.25" fill="#fff" stroke="#eab398" stroke-width="0.7"/>
<circle cx="610.1" cy="94.4" r="1.25" fill="#fff" stroke="#eab398" stroke-width="0.7"/>
<circle cx="601.95" cy="80.3" r="1.25" fill="#fff" stroke="#eab398" stroke-width="0.7"/>
<circle cx="646.55" cy="92.3" r="1.25" fill="#fff" stroke="#eab398" stroke-width="0.7"/>
<circle cx="632.4" cy="100.4" r="1.25" fill="#fff" stroke="#eab398" stroke-width="0.7"/>
<circle cx="668.85" cy="98.3" r="1.25" fill="#fff" stroke="#eab398" stroke-width="0.7"/>
<circle cx="654.7" cy="106.4" r="1.25" fill="#fff" stroke="#eab398" stroke-width="0.7"/>
<circle cx="646.55" cy="92.3" r="1.25" fill="#fff" stroke="#eab398" stroke-width="0.7"/>
<circle cx="618.25" cy="108.5" r="1.25" fill="#fff" stroke="#eab398" stroke-width="0.7"/>
<circle cx="604.1" cy="116.6" r="1.25" fill="#fff" stroke="#eab398" stroke-width="0.7"/>
<circle cx="595.95" cy="102.5" r="1.25" fill="#fff" stroke="#eab398" stroke-width="0.7"/>
<circle cx="640.55" cy="114.5" r="1.25" fill="#fff" stroke="#eab398" stroke-width="0.7"/>
<circle cx="626.4" cy="122.6" r="1.25" fill="#fff" stroke="#eab398" stroke-width="0.7"/>
<circle cx="662.85" cy="120.5" r="1.25" fill="#fff" stroke="#eab398" stroke-width="0.7"/>
<circle cx="648.7" cy="128.6" r="1.25" fill="#fff" stroke="#eab398" stroke-width="0.7"/>
<circle cx="640.55" cy="114.5" r="1.25" fill="#fff" stroke="#eab398" stroke-width="0.7"/>
<circle cx="511.9" cy="124.5" r="1.25" fill="#fff" stroke="#eab398" stroke-width="0.7"/>
<circle cx="520.05" cy="138.6" r="1.25" fill="#fff" stroke="#eab398" stroke-width="0.7"/>
<circle cx="505.9" cy="146.7" r="1.25" fill="#fff" stroke="#eab398" stroke-width="0.7"/>
<circle cx="497.75" cy="132.6" r="1.25" fill="#fff" stroke="#eab398" stroke-width="0.7"/>
<circle cx="534.2" cy="130.5" r="1.25" fill="#fff" stroke="#eab398" stroke-width="0.7"/>
<circle cx="542.35" cy="144.6" r="1.25" fill="#fff" stroke="#eab398" stroke-width="0.7"/>
<circle cx="528.2" cy="152.7" r="1.25" fill="#fff" stroke="#eab398" stroke-width="0.7"/>
<circle cx="564.65" cy="150.6" r="1.25" fill="#fff" stroke="#eab398" stroke-width="0.7"/>
<circle cx="550.5" cy="158.7" r="1.25" fill="#fff" stroke="#eab398" stroke-width="0.7"/>
<circle cx="542.35" cy="144.6" r="1.25" fill="#fff" stroke="#eab398" stroke-width="0.7"/>
<circle cx="514.05" cy="160.8" r="1.25" fill="#fff" stroke="#eab398" stroke-width="0.7"/>
<circle cx="499.9" cy="168.9" r="1.25" fill="#fff" stroke="#eab398" stroke-width="0.7"/>
<circle cx="491.75" cy="154.8" r="1.25" fill="#fff" stroke="#eab398" stroke-width="0.7"/>
<circle cx="536.35" cy="166.8" r="1.25" fill="#fff" stroke="#eab398" stroke-width="0.7"/>
<circle cx="522.2" cy="174.9" r="1.25" fill="#fff" stroke="#eab398" stroke-width="0.7"/>
<circle cx="558.65" cy="172.8" r="1.25" fill="#fff" stroke="#eab398" stroke-width="0.7"/>
<circle cx="544.5" cy="180.9" r="1.25" fill="#fff" stroke="#eab398" stroke-width="0.7"/>
<circle cx="536.35" cy="166.8" r="1.25" fill="#fff" stroke="#eab398" stroke-width="0.7"/>
<circle cx="508.05" cy="183" r="1.25" fill="#fff" stroke="#eab398" stroke-width="0.7"/>
<circle cx="493.9" cy="191.1" r="1.25" fill="#fff" stroke="#eab398" stroke-width="0.7"/>
<circle cx="485.75" cy="177" r="1.25" fill="#fff" stroke="#eab398" stroke-width="0.7"/>
<circle cx="530.35" cy="189" r="1.25" fill="#fff" stroke="#eab398" stroke-width="0.7"/>
<circle cx="516.2" cy="197.1" r="1.25" fill="#fff" stroke="#eab398" stroke-width="0.7"/>
<circle cx="552.65" cy="195" r="1.25" fill="#fff" stroke="#eab398" stroke-width="0.7"/>
<circle cx="538.5" cy="203.1" r="1.25" fill="#fff" stroke="#eab398" stroke-width="0.7"/>
<circle cx="530.35" cy="189" r="1.25" fill="#fff" stroke="#eab398" stroke-width="0.7"/>
<circle cx="606.4" cy="140.9" r="1.25" fill="#fff" stroke="#eab398" stroke-width="0.7"/>
<circle cx="614.55" cy="155" r="1.25" fill="#fff" stroke="#eab398" stroke-width="0.7"/>
<circle cx="600.4" cy="163.1" r="1.25" fill="#fff" stroke="#eab398" stroke-width="0.7"/>
<circle cx="592.25" cy="149" r="1.25" fill="#fff" stroke="#eab398" stroke-width="0.7"/>
<circle cx="636.85" cy="161" r="1.25" fill="#fff" stroke="#eab398" stroke-width="0.7"/>
<circle cx="622.7" cy="169.1" r="1.25" fill="#fff" stroke="#eab398" stroke-width="0.7"/>
<circle cx="651" cy="152.9" r="1.25" fill="#fff" stroke="#eab398" stroke-width="0.7"/>
<circle cx="659.15" cy="167" r="1.25" fill="#fff" stroke="#eab398" stroke-width="0.7"/>
<circle cx="645" cy="175.1" r="1.25" fill="#fff" stroke="#eab398" stroke-width="0.7"/>
<circle cx="636.85" cy="161" r="1.25" fill="#fff" stroke="#eab398" stroke-width="0.7"/>
<circle cx="608.55" cy="177.2" r="1.25" fill="#fff" stroke="#eab398" stroke-width="0.7"/>
<circle cx="594.4" cy="185.3" r="1.25" fill="#fff" stroke="#eab398" stroke-width="0.7"/>
<circle cx="586.25" cy="171.2" r="1.25" fill="#fff" stroke="#eab398" stroke-width="0.7"/>
<circle cx="630.85" cy="183.2" r="1.25" fill="#fff" stroke="#eab398" stroke-width="0.7"/>
<circle cx="616.7" cy="191.3" r="1.25" fill="#fff" stroke="#eab398" stroke-width="0.7"/>
<circle cx="653.15" cy="189.2" r="1.25" fill="#fff" stroke="#eab398" stroke-width="0.7"/>
<circle cx="639" cy="197.3" r="1.25" fill="#fff" stroke="#eab398" stroke-width="0.7"/>
<circle cx="630.85" cy="183.2" r="1.25" fill="#fff" stroke="#eab398" stroke-width="0.7"/>
<circle cx="602.55" cy="199.4" r="1.25" fill="#fff" stroke="#eab398" stroke-width="0.7"/>
<circle cx="588.4" cy="207.5" r="1.25" fill="#fff" stroke="#eab398" stroke-width="0.7"/>
<circle cx="580.25" cy="193.4" r="1.25" fill="#fff" stroke="#eab398" stroke-width="0.7"/>
<circle cx="624.85" cy="205.4" r="1.25" fill="#fff" stroke="#eab398" stroke-width="0.7"/>
<circle cx="610.7" cy="213.5" r="1.25" fill="#fff" stroke="#eab398" stroke-width="0.7"/>
<circle cx="647.15" cy="211.4" r="1.25" fill="#fff" stroke="#eab398" stroke-width="0.7"/>
<circle cx="633" cy="219.5" r="1.25" fill="#fff" stroke="#eab398" stroke-width="0.7"/>
<circle cx="624.85" cy="205.4" r="1.25" fill="#fff" stroke="#eab398" stroke-width="0.7"/>
<circle cx="54.7" cy="48.2" r="2.35" fill="#f1c6ad" stroke="#7f7cc9" stroke-width="0.9"/>
<circle cx="54.7" cy="48.2" r="1.0" fill="#fff"/>
<circle cx="77" cy="54.2" r="2.35" fill="#f1c6ad" stroke="#7f7cc9" stroke-width="0.9"/>
<circle cx="77" cy="54.2" r="1.0" fill="#fff"/>
<circle cx="99.3" cy="60.2" r="2.35" fill="#f1c6ad" stroke="#7f7cc9" stroke-width="0.9"/>
<circle cx="99.3" cy="60.2" r="1.0" fill="#fff"/>
<circle cx="121.6" cy="66.2" r="2.35" fill="#f1c6ad" stroke="#7f7cc9" stroke-width="0.9"/>
<circle cx="121.6" cy="66.2" r="1.0" fill="#fff"/>
<circle cx="48.7" cy="70.4" r="2.35" fill="#f1c6ad" stroke="#7f7cc9" stroke-width="0.9"/>
<circle cx="48.7" cy="70.4" r="1.0" fill="#fff"/>
<circle cx="71" cy="76.4" r="2.35" fill="#f1c6ad" stroke="#7f7cc9" stroke-width="0.9"/>
<circle cx="71" cy="76.4" r="1.0" fill="#fff"/>
<circle cx="93.3" cy="82.4" r="2.35" fill="#f1c6ad" stroke="#7f7cc9" stroke-width="0.9"/>
<circle cx="93.3" cy="82.4" r="1.0" fill="#fff"/>
<circle cx="115.6" cy="88.4" r="2.35" fill="#f1c6ad" stroke="#7f7cc9" stroke-width="0.9"/>
<circle cx="115.6" cy="88.4" r="1.0" fill="#fff"/>
<circle cx="42.7" cy="92.6" r="2.35" fill="#f1c6ad" stroke="#7f7cc9" stroke-width="0.9"/>
<circle cx="42.7" cy="92.6" r="1.0" fill="#fff"/>
<circle cx="65" cy="98.6" r="2.35" fill="#f1c6ad" stroke="#7f7cc9" stroke-width="0.9"/>
<circle cx="65" cy="98.6" r="1.0" fill="#fff"/>
<circle cx="87.3" cy="104.6" r="2.35" fill="#f1c6ad" stroke="#7f7cc9" stroke-width="0.9"/>
<circle cx="87.3" cy="104.6" r="1.0" fill="#fff"/>
<circle cx="109.6" cy="110.6" r="2.35" fill="#f1c6ad" stroke="#7f7cc9" stroke-width="0.9"/>
<circle cx="109.6" cy="110.6" r="1.0" fill="#fff"/>
<circle cx="36.7" cy="114.8" r="2.35" fill="#f1c6ad" stroke="#7f7cc9" stroke-width="0.9"/>
<circle cx="36.7" cy="114.8" r="1.0" fill="#fff"/>
<circle cx="59" cy="120.8" r="2.35" fill="#f1c6ad" stroke="#7f7cc9" stroke-width="0.9"/>
<circle cx="59" cy="120.8" r="1.0" fill="#fff"/>
<circle cx="81.3" cy="126.8" r="2.35" fill="#f1c6ad" stroke="#7f7cc9" stroke-width="0.9"/>
<circle cx="81.3" cy="126.8" r="1.0" fill="#fff"/>
<circle cx="103.6" cy="132.8" r="2.35" fill="#f1c6ad" stroke="#7f7cc9" stroke-width="0.9"/>
<circle cx="103.6" cy="132.8" r="1.0" fill="#fff"/>
<circle cx="173.75" cy="81.8" r="2.35" fill="#f1c6ad" stroke="#7f7cc9" stroke-width="0.9"/>
<circle cx="173.75" cy="81.8" r="1.0" fill="#fff"/>
<circle cx="196.05" cy="87.8" r="2.35" fill="#f1c6ad" stroke="#7f7cc9" stroke-width="0.9"/>
<circle cx="196.05" cy="87.8" r="1.0" fill="#fff"/>
<circle cx="167.75" cy="104" r="2.35" fill="#f1c6ad" stroke="#7f7cc9" stroke-width="0.9"/>
<circle cx="167.75" cy="104" r="1.0" fill="#fff"/>
<circle cx="190.05" cy="110" r="2.35" fill="#f1c6ad" stroke="#7f7cc9" stroke-width="0.9"/>
<circle cx="190.05" cy="110" r="1.0" fill="#fff"/>
<circle cx="39.9" cy="147.2" r="2.35" fill="#f1c6ad" stroke="#7f7cc9" stroke-width="0.9"/>
<circle cx="39.9" cy="147.2" r="1.0" fill="#fff"/>
<circle cx="62.2" cy="153.2" r="2.35" fill="#f1c6ad" stroke="#7f7cc9" stroke-width="0.9"/>
<circle cx="62.2" cy="153.2" r="1.0" fill="#fff"/>
<circle cx="33.9" cy="169.4" r="2.35" fill="#f1c6ad" stroke="#7f7cc9" stroke-width="0.9"/>
<circle cx="33.9" cy="169.4" r="1.0" fill="#fff"/>
<circle cx="56.2" cy="175.4" r="2.35" fill="#f1c6ad" stroke="#7f7cc9" stroke-width="0.9"/>
<circle cx="56.2" cy="175.4" r="1.0" fill="#fff"/>
<circle cx="134.5" cy="135.4" r="2.35" fill="#f1c6ad" stroke="#7f7cc9" stroke-width="0.9"/>
<circle cx="134.5" cy="135.4" r="1.0" fill="#fff"/>
<circle cx="156.8" cy="141.4" r="2.35" fill="#f1c6ad" stroke="#7f7cc9" stroke-width="0.9"/>
<circle cx="156.8" cy="141.4" r="1.0" fill="#fff"/>
<circle cx="179.1" cy="147.4" r="2.35" fill="#f1c6ad" stroke="#7f7cc9" stroke-width="0.9"/>
<circle cx="179.1" cy="147.4" r="1.0" fill="#fff"/>
<circle cx="128.5" cy="157.6" r="2.35" fill="#f1c6ad" stroke="#7f7cc9" stroke-width="0.9"/>
<circle cx="128.5" cy="157.6" r="1.0" fill="#fff"/>
<circle cx="150.8" cy="163.6" r="2.35" fill="#f1c6ad" stroke="#7f7cc9" stroke-width="0.9"/>
<circle cx="150.8" cy="163.6" r="1.0" fill="#fff"/>
<circle cx="173.1" cy="169.6" r="2.35" fill="#f1c6ad" stroke="#7f7cc9" stroke-width="0.9"/>
<circle cx="173.1" cy="169.6" r="1.0" fill="#fff"/>
<circle cx="122.5" cy="179.8" r="2.35" fill="#f1c6ad" stroke="#7f7cc9" stroke-width="0.9"/>
<circle cx="122.5" cy="179.8" r="1.0" fill="#fff"/>
<circle cx="144.8" cy="185.8" r="2.35" fill="#f1c6ad" stroke="#7f7cc9" stroke-width="0.9"/>
<circle cx="144.8" cy="185.8" r="1.0" fill="#fff"/>
<circle cx="167.1" cy="191.8" r="2.35" fill="#f1c6ad" stroke="#7f7cc9" stroke-width="0.9"/>
<circle cx="167.1" cy="191.8" r="1.0" fill="#fff"/>
<circle cx="522.1" cy="44.6" r="2.35" fill="#f1c6ad" stroke="#7f7cc9" stroke-width="0.9"/>
<circle cx="522.1" cy="44.6" r="1.0" fill="#fff"/>
<circle cx="544.4" cy="50.6" r="2.35" fill="#f1c6ad" stroke="#7f7cc9" stroke-width="0.9"/>
<circle cx="544.4" cy="50.6" r="1.0" fill="#fff"/>
<circle cx="566.7" cy="56.6" r="2.35" fill="#f1c6ad" stroke="#7f7cc9" stroke-width="0.9"/>
<circle cx="566.7" cy="56.6" r="1.0" fill="#fff"/>
<circle cx="516.1" cy="66.8" r="2.35" fill="#f1c6ad" stroke="#7f7cc9" stroke-width="0.9"/>
<circle cx="516.1" cy="66.8" r="1.0" fill="#fff"/>
<circle cx="538.4" cy="72.8" r="2.35" fill="#f1c6ad" stroke="#7f7cc9" stroke-width="0.9"/>
<circle cx="538.4" cy="72.8" r="1.0" fill="#fff"/>
<circle cx="560.7" cy="78.8" r="2.35" fill="#f1c6ad" stroke="#7f7cc9" stroke-width="0.9"/>
<circle cx="560.7" cy="78.8" r="1.0" fill="#fff"/>
<circle cx="510.1" cy="89" r="2.35" fill="#f1c6ad" stroke="#7f7cc9" stroke-width="0.9"/>
<circle cx="510.1" cy="89" r="1.0" fill="#fff"/>
<circle cx="532.4" cy="95" r="2.35" fill="#f1c6ad" stroke="#7f7cc9" stroke-width="0.9"/>
<circle cx="532.4" cy="95" r="1.0" fill="#fff"/>
<circle cx="554.7" cy="101" r="2.35" fill="#f1c6ad" stroke="#7f7cc9" stroke-width="0.9"/>
<circle cx="554.7" cy="101" r="1.0" fill="#fff"/>
<circle cx="619.1" cy="61.1" r="2.35" fill="#f1c6ad" stroke="#7f7cc9" stroke-width="0.9"/>
<circle cx="619.1" cy="61.1" r="1.0" fill="#fff"/>
<circle cx="641.4" cy="67.1" r="2.35" fill="#f1c6ad" stroke="#7f7cc9" stroke-width="0.9"/>
<circle cx="641.4" cy="67.1" r="1.0" fill="#fff"/>
<circle cx="663.7" cy="73.1" r="2.35" fill="#f1c6ad" stroke="#7f7cc9" stroke-width="0.9"/>
<circle cx="663.7" cy="73.1" r="1.0" fill="#fff"/>
<circle cx="613.1" cy="83.3" r="2.35" fill="#f1c6ad" stroke="#7f7cc9" stroke-width="0.9"/>
<circle cx="613.1" cy="83.3" r="1.0" fill="#fff"/>
<circle cx="635.4" cy="89.3" r="2.35" fill="#f1c6ad" stroke="#7f7cc9" stroke-width="0.9"/>
<circle cx="635.4" cy="89.3" r="1.0" fill="#fff"/>
<circle cx="657.7" cy="95.3" r="2.35" fill="#f1c6ad" stroke="#7f7cc9" stroke-width="0.9"/>
<circle cx="657.7" cy="95.3" r="1.0" fill="#fff"/>
<circle cx="607.1" cy="105.5" r="2.35" fill="#f1c6ad" stroke="#7f7cc9" stroke-width="0.9"/>
<circle cx="607.1" cy="105.5" r="1.0" fill="#fff"/>
<circle cx="629.4" cy="111.5" r="2.35" fill="#f1c6ad" stroke="#7f7cc9" stroke-width="0.9"/>
<circle cx="629.4" cy="111.5" r="1.0" fill="#fff"/>
<circle cx="651.7" cy="117.5" r="2.35" fill="#f1c6ad" stroke="#7f7cc9" stroke-width="0.9"/>
<circle cx="651.7" cy="117.5" r="1.0" fill="#fff"/>
<circle cx="508.9" cy="135.6" r="2.35" fill="#f1c6ad" stroke="#7f7cc9" stroke-width="0.9"/>
<circle cx="508.9" cy="135.6" r="1.0" fill="#fff"/>
<circle cx="531.2" cy="141.6" r="2.35" fill="#f1c6ad" stroke="#7f7cc9" stroke-width="0.9"/>
<circle cx="531.2" cy="141.6" r="1.0" fill="#fff"/>
<circle cx="553.5" cy="147.6" r="2.35" fill="#f1c6ad" stroke="#7f7cc9" stroke-width="0.9"/>
<circle cx="553.5" cy="147.6" r="1.0" fill="#fff"/>
<circle cx="502.9" cy="157.8" r="2.35" fill="#f1c6ad" stroke="#7f7cc9" stroke-width="0.9"/>
<circle cx="502.9" cy="157.8" r="1.0" fill="#fff"/>
<circle cx="525.2" cy="163.8" r="2.35" fill="#f1c6ad" stroke="#7f7cc9" stroke-width="0.9"/>
<circle cx="525.2" cy="163.8" r="1.0" fill="#fff"/>
<circle cx="547.5" cy="169.8" r="2.35" fill="#f1c6ad" stroke="#7f7cc9" stroke-width="0.9"/>
<circle cx="547.5" cy="169.8" r="1.0" fill="#fff"/>
<circle cx="496.9" cy="180" r="2.35" fill="#f1c6ad" stroke="#7f7cc9" stroke-width="0.9"/>
<circle cx="496.9" cy="180" r="1.0" fill="#fff"/>
<circle cx="519.2" cy="186" r="2.35" fill="#f1c6ad" stroke="#7f7cc9" stroke-width="0.9"/>
<circle cx="519.2" cy="186" r="1.0" fill="#fff"/>
<circle cx="541.5" cy="192" r="2.35" fill="#f1c6ad" stroke="#7f7cc9" stroke-width="0.9"/>
<circle cx="541.5" cy="192" r="1.0" fill="#fff"/>
<circle cx="603.4" cy="152" r="2.35" fill="#f1c6ad" stroke="#7f7cc9" stroke-width="0.9"/>
<circle cx="603.4" cy="152" r="1.0" fill="#fff"/>
<circle cx="625.7" cy="158" r="2.35" fill="#f1c6ad" stroke="#7f7cc9" stroke-width="0.9"/>
<circle cx="625.7" cy="158" r="1.0" fill="#fff"/>
<circle cx="648" cy="164" r="2.35" fill="#f1c6ad" stroke="#7f7cc9" stroke-width="0.9"/>
<circle cx="648" cy="164" r="1.0" fill="#fff"/>
<circle cx="597.4" cy="174.2" r="2.35" fill="#f1c6ad" stroke="#7f7cc9" stroke-width="0.9"/>
<circle cx="597.4" cy="174.2" r="1.0" fill="#fff"/>
<circle cx="619.7" cy="180.2" r="2.35" fill="#f1c6ad" stroke="#7f7cc9" stroke-width="0.9"/>
<circle cx="619.7" cy="180.2" r="1.0" fill="#fff"/>
<circle cx="642" cy="186.2" r="2.35" fill="#f1c6ad" stroke="#7f7cc9" stroke-width="0.9"/>
<circle cx="642" cy="186.2" r="1.0" fill="#fff"/>
<circle cx="591.4" cy="196.4" r="2.35" fill="#f1c6ad" stroke="#7f7cc9" stroke-width="0.9"/>
<circle cx="591.4" cy="196.4" r="1.0" fill="#fff"/>
<circle cx="613.7" cy="202.4" r="2.35" fill="#f1c6ad" stroke="#7f7cc9" stroke-width="0.9"/>
<circle cx="613.7" cy="202.4" r="1.0" fill="#fff"/>
<circle cx="636" cy="208.4" r="2.35" fill="#f1c6ad" stroke="#7f7cc9" stroke-width="0.9"/>
<circle cx="636" cy="208.4" r="1.0" fill="#fff"/>
<g stroke-linecap="round" fill="none"><path d="M63.98,60.55 L66.48,58.68 M63.98,60.55 L67.1,60.3 M63.48,63.8 L65.35,66.18 M63.48,63.8 L66.48,65.18" stroke="#7fb9d2" stroke-width="0.8"/><path d="M62.23,62.3 L64.48,60.05 M62.23,62.3 L63.85,64.43" stroke="#2a4e5e" stroke-width="1.2"/><path d="M62.1,61.93 L59.48,61.05" stroke="#efc0a8" stroke-width="0.8"/><circle cx="62.1" cy="62.18" r="1.15" fill="#5e3c28" stroke="none"/></g>
<g stroke-linecap="round" fill="none"><path d="M86.28,66.55 L88.78,64.67 M86.28,66.55 L89.4,66.3 M85.78,69.8 L87.65,72.17 M85.78,69.8 L88.78,71.17" stroke="#7fb9d2" stroke-width="0.8"/><path d="M84.53,68.3 L86.78,66.05 M84.53,68.3 L86.15,70.42" stroke="#2a4e5e" stroke-width="1.2"/><path d="M84.4,67.92 L81.78,67.05" stroke="#efc0a8" stroke-width="0.8"/><circle cx="84.4" cy="68.17" r="1.15" fill="#5e3c28" stroke="none"/></g>
<g stroke-linecap="round" fill="none"><path d="M108.58,72.55 L111.08,70.67 M108.58,72.55 L111.7,72.3 M108.08,75.8 L109.95,78.17 M108.08,75.8 L111.08,77.17" stroke="#7fb9d2" stroke-width="0.8"/><path d="M106.83,74.3 L109.08,72.05 M106.83,74.3 L108.45,76.42" stroke="#2a4e5e" stroke-width="1.2"/><path d="M106.7,73.92 L104.08,73.05" stroke="#efc0a8" stroke-width="0.8"/><circle cx="106.7" cy="74.17" r="1.15" fill="#5e3c28" stroke="none"/></g>
<g stroke-linecap="round" fill="none"><path d="M130.88,78.55 L133.38,76.67 M130.88,78.55 L134,78.3 M130.38,81.8 L132.25,84.17 M130.38,81.8 L133.38,83.17" stroke="#7fb9d2" stroke-width="0.8"/><path d="M129.12,80.3 L131.38,78.05 M129.12,80.3 L130.75,82.42" stroke="#2a4e5e" stroke-width="1.2"/><path d="M129,79.92 L126.38,79.05" stroke="#efc0a8" stroke-width="0.8"/><circle cx="129" cy="80.17" r="1.15" fill="#5e3c28" stroke="none"/></g>
<g stroke-linecap="round" fill="none"><path d="M57.98,82.75 L60.48,80.88 M57.98,82.75 L61.1,82.5 M57.48,86 L59.35,88.38 M57.48,86 L60.48,87.38" stroke="#7fb9d2" stroke-width="0.8"/><path d="M56.23,84.5 L58.48,82.25 M56.23,84.5 L57.85,86.62" stroke="#2a4e5e" stroke-width="1.2"/><path d="M56.1,84.12 L53.48,83.25" stroke="#efc0a8" stroke-width="0.8"/><circle cx="56.1" cy="84.38" r="1.15" fill="#5e3c28" stroke="none"/></g>
<g stroke-linecap="round" fill="none"><path d="M80.28,88.75 L82.78,86.88 M80.28,88.75 L83.4,88.5 M79.78,92 L81.65,94.38 M79.78,92 L82.78,93.38" stroke="#7fb9d2" stroke-width="0.8"/><path d="M78.53,90.5 L80.78,88.25 M78.53,90.5 L80.15,92.62" stroke="#2a4e5e" stroke-width="1.2"/><path d="M78.4,90.12 L75.78,89.25" stroke="#efc0a8" stroke-width="0.8"/><circle cx="78.4" cy="90.38" r="1.15" fill="#5e3c28" stroke="none"/></g>
<g stroke-linecap="round" fill="none"><path d="M102.58,94.75 L105.08,92.88 M102.58,94.75 L105.7,94.5 M102.08,98 L103.95,100.38 M102.08,98 L105.08,99.38" stroke="#7fb9d2" stroke-width="0.8"/><path d="M100.83,96.5 L103.08,94.25 M100.83,96.5 L102.45,98.62" stroke="#2a4e5e" stroke-width="1.2"/><path d="M100.7,96.12 L98.08,95.25" stroke="#efc0a8" stroke-width="0.8"/><circle cx="100.7" cy="96.38" r="1.15" fill="#5e3c28" stroke="none"/></g>
<g stroke-linecap="round" fill="none"><path d="M51.98,104.95 L54.48,103.08 M51.98,104.95 L55.1,104.7 M51.48,108.2 L53.35,110.58 M51.48,108.2 L54.48,109.58" stroke="#7fb9d2" stroke-width="0.8"/><path d="M50.23,106.7 L52.48,104.45 M50.23,106.7 L51.85,108.83" stroke="#2a4e5e" stroke-width="1.2"/><path d="M50.1,106.33 L47.48,105.45" stroke="#efc0a8" stroke-width="0.8"/><circle cx="50.1" cy="106.58" r="1.15" fill="#5e3c28" stroke="none"/></g>
<g stroke-linecap="round" fill="none"><path d="M74.28,110.95 L76.78,109.08 M74.28,110.95 L77.4,110.7 M73.78,114.2 L75.65,116.58 M73.78,114.2 L76.78,115.58" stroke="#7fb9d2" stroke-width="0.8"/><path d="M72.53,112.7 L74.78,110.45 M72.53,112.7 L74.15,114.83" stroke="#2a4e5e" stroke-width="1.2"/><path d="M72.4,112.33 L69.78,111.45" stroke="#efc0a8" stroke-width="0.8"/><circle cx="72.4" cy="112.58" r="1.15" fill="#5e3c28" stroke="none"/></g>
<g stroke-linecap="round" fill="none"><path d="M96.58,116.95 L99.08,115.08 M96.58,116.95 L99.7,116.7 M96.08,120.2 L97.95,122.58 M96.08,120.2 L99.08,121.58" stroke="#7fb9d2" stroke-width="0.8"/><path d="M94.83,118.7 L97.08,116.45 M94.83,118.7 L96.45,120.83" stroke="#2a4e5e" stroke-width="1.2"/><path d="M94.7,118.33 L92.08,117.45" stroke="#efc0a8" stroke-width="0.8"/><circle cx="94.7" cy="118.58" r="1.15" fill="#5e3c28" stroke="none"/></g>
<g stroke-linecap="round" fill="none"><path d="M183.03,94.15 L185.53,92.27 M183.03,94.15 L186.15,93.9 M182.53,97.4 L184.4,99.77 M182.53,97.4 L185.53,98.77" stroke="#7fb9d2" stroke-width="0.8"/><path d="M181.28,95.9 L183.53,93.65 M181.28,95.9 L182.9,98.02" stroke="#2a4e5e" stroke-width="1.2"/><path d="M181.15,95.52 L178.53,94.65" stroke="#efc0a8" stroke-width="0.8"/><circle cx="181.15" cy="95.77" r="1.15" fill="#5e3c28" stroke="none"/></g>
<g stroke-linecap="round" fill="none"><path d="M49.17,159.55 L51.67,157.67 M49.17,159.55 L52.3,159.3 M48.67,162.8 L50.55,165.17 M48.67,162.8 L51.67,164.17" stroke="#7fb9d2" stroke-width="0.8"/><path d="M47.42,161.3 L49.67,159.05 M47.42,161.3 L49.05,163.42" stroke="#2a4e5e" stroke-width="1.2"/><path d="M47.3,160.92 L44.67,160.05" stroke="#efc0a8" stroke-width="0.8"/><circle cx="47.3" cy="161.17" r="1.15" fill="#5e3c28" stroke="none"/></g>
<g stroke-linecap="round" fill="none"><path d="M143.78,147.75 L146.28,145.88 M143.78,147.75 L146.9,147.5 M143.28,151 L145.15,153.38 M143.28,151 L146.28,152.38" stroke="#7fb9d2" stroke-width="0.8"/><path d="M142.03,149.5 L144.28,147.25 M142.03,149.5 L143.65,151.62" stroke="#2a4e5e" stroke-width="1.2"/><path d="M141.9,149.12 L139.28,148.25" stroke="#efc0a8" stroke-width="0.8"/><circle cx="141.9" cy="149.38" r="1.15" fill="#5e3c28" stroke="none"/></g>
<g stroke-linecap="round" fill="none"><path d="M166.07,153.75 L168.57,151.88 M166.07,153.75 L169.2,153.5 M165.57,157 L167.45,159.38 M165.57,157 L168.57,158.38" stroke="#7fb9d2" stroke-width="0.8"/><path d="M164.32,155.5 L166.57,153.25 M164.32,155.5 L165.95,157.62" stroke="#2a4e5e" stroke-width="1.2"/><path d="M164.2,155.12 L161.57,154.25" stroke="#efc0a8" stroke-width="0.8"/><circle cx="164.2" cy="155.38" r="1.15" fill="#5e3c28" stroke="none"/></g>
<g stroke-linecap="round" fill="none"><path d="M188.38,159.75 L190.88,157.88 M188.38,159.75 L191.5,159.5 M187.88,163 L189.75,165.38 M187.88,163 L190.88,164.38" stroke="#7fb9d2" stroke-width="0.8"/><path d="M186.62,161.5 L188.88,159.25 M186.62,161.5 L188.25,163.62" stroke="#2a4e5e" stroke-width="1.2"/><path d="M186.5,161.12 L183.88,160.25" stroke="#efc0a8" stroke-width="0.8"/><circle cx="186.5" cy="161.38" r="1.15" fill="#5e3c28" stroke="none"/></g>
<g stroke-linecap="round" fill="none"><path d="M137.78,169.95 L140.28,168.07 M137.78,169.95 L140.9,169.7 M137.28,173.2 L139.15,175.57 M137.28,173.2 L140.28,174.57" stroke="#7fb9d2" stroke-width="0.8"/><path d="M136.03,171.7 L138.28,169.45 M136.03,171.7 L137.65,173.82" stroke="#2a4e5e" stroke-width="1.2"/><path d="M135.9,171.32 L133.28,170.45" stroke="#efc0a8" stroke-width="0.8"/><circle cx="135.9" cy="171.57" r="1.15" fill="#5e3c28" stroke="none"/></g>
<g stroke-linecap="round" fill="none"><path d="M160.07,175.95 L162.57,174.07 M160.07,175.95 L163.2,175.7 M159.57,179.2 L161.45,181.57 M159.57,179.2 L162.57,180.57" stroke="#7fb9d2" stroke-width="0.8"/><path d="M158.32,177.7 L160.57,175.45 M158.32,177.7 L159.95,179.82" stroke="#2a4e5e" stroke-width="1.2"/><path d="M158.2,177.32 L155.57,176.45" stroke="#efc0a8" stroke-width="0.8"/><circle cx="158.2" cy="177.57" r="1.15" fill="#5e3c28" stroke="none"/></g>
<g stroke-linecap="round" fill="none"><path d="M154.07,198.15 L156.57,196.28 M154.07,198.15 L157.2,197.9 M153.57,201.4 L155.45,203.78 M153.57,201.4 L156.57,202.78" stroke="#7fb9d2" stroke-width="0.8"/><path d="M152.32,199.9 L154.57,197.65 M152.32,199.9 L153.95,202.03" stroke="#2a4e5e" stroke-width="1.2"/><path d="M152.2,199.53 L149.57,198.65" stroke="#efc0a8" stroke-width="0.8"/><circle cx="152.2" cy="199.78" r="1.15" fill="#5e3c28" stroke="none"/></g>
<g stroke-linecap="round" fill="none"><path d="M537.38,34.75 L539.88,32.88 M537.38,34.75 L540.5,34.5 M536.88,38 L538.75,40.38 M536.88,38 L539.88,39.38" stroke="#7fb9d2" stroke-width="0.8"/><path d="M535.62,36.5 L537.88,34.25 M535.62,36.5 L537.25,38.62" stroke="#2a4e5e" stroke-width="1.2"/><path d="M535.5,36.12 L532.88,35.25" stroke="#efc0a8" stroke-width="0.8"/><circle cx="535.5" cy="36.38" r="1.15" fill="#5e3c28" stroke="none"/></g>
<g stroke-linecap="round" fill="none"><path d="M559.68,40.75 L562.18,38.88 M559.68,40.75 L562.8,40.5 M559.18,44 L561.05,46.38 M559.18,44 L562.18,45.38" stroke="#7fb9d2" stroke-width="0.8"/><path d="M557.93,42.5 L560.18,40.25 M557.93,42.5 L559.55,44.62" stroke="#2a4e5e" stroke-width="1.2"/><path d="M557.8,42.12 L555.18,41.25" stroke="#efc0a8" stroke-width="0.8"/><circle cx="557.8" cy="42.38" r="1.15" fill="#5e3c28" stroke="none"/></g>
<g stroke-linecap="round" fill="none"><path d="M531.38,56.95 L533.88,55.08 M531.38,56.95 L534.5,56.7 M530.88,60.2 L532.75,62.58 M530.88,60.2 L533.88,61.58" stroke="#7fb9d2" stroke-width="0.8"/><path d="M529.62,58.7 L531.88,56.45 M529.62,58.7 L531.25,60.83" stroke="#2a4e5e" stroke-width="1.2"/><path d="M529.5,58.33 L526.88,57.45" stroke="#efc0a8" stroke-width="0.8"/><circle cx="529.5" cy="58.58" r="1.15" fill="#5e3c28" stroke="none"/></g>
<g stroke-linecap="round" fill="none"><path d="M553.68,62.95 L556.18,61.08 M553.68,62.95 L556.8,62.7 M553.18,66.2 L555.05,68.58 M553.18,66.2 L556.18,67.58" stroke="#7fb9d2" stroke-width="0.8"/><path d="M551.93,64.7 L554.18,62.45 M551.93,64.7 L553.55,66.83" stroke="#2a4e5e" stroke-width="1.2"/><path d="M551.8,64.33 L549.18,63.45" stroke="#efc0a8" stroke-width="0.8"/><circle cx="551.8" cy="64.58" r="1.15" fill="#5e3c28" stroke="none"/></g>
<g stroke-linecap="round" fill="none"><path d="M575.98,68.95 L578.48,67.08 M575.98,68.95 L579.1,68.7 M575.48,72.2 L577.35,74.58 M575.48,72.2 L578.48,73.58" stroke="#7fb9d2" stroke-width="0.8"/><path d="M574.23,70.7 L576.48,68.45 M574.23,70.7 L575.85,72.83" stroke="#2a4e5e" stroke-width="1.2"/><path d="M574.1,70.33 L571.48,69.45" stroke="#efc0a8" stroke-width="0.8"/><circle cx="574.1" cy="70.58" r="1.15" fill="#5e3c28" stroke="none"/></g>
<g stroke-linecap="round" fill="none"><path d="M525.38,79.15 L527.88,77.28 M525.38,79.15 L528.5,78.9 M524.88,82.4 L526.75,84.78 M524.88,82.4 L527.88,83.78" stroke="#7fb9d2" stroke-width="0.8"/><path d="M523.62,80.9 L525.88,78.65 M523.62,80.9 L525.25,83.03" stroke="#2a4e5e" stroke-width="1.2"/><path d="M523.5,80.53 L520.88,79.65" stroke="#efc0a8" stroke-width="0.8"/><circle cx="523.5" cy="80.78" r="1.15" fill="#5e3c28" stroke="none"/></g>
<g stroke-linecap="round" fill="none"><path d="M547.68,85.15 L550.18,83.28 M547.68,85.15 L550.8,84.9 M547.18,88.4 L549.05,90.78 M547.18,88.4 L550.18,89.78" stroke="#7fb9d2" stroke-width="0.8"/><path d="M545.93,86.9 L548.18,84.65 M545.93,86.9 L547.55,89.03" stroke="#2a4e5e" stroke-width="1.2"/><path d="M545.8,86.53 L543.18,85.65" stroke="#efc0a8" stroke-width="0.8"/><circle cx="545.8" cy="86.78" r="1.15" fill="#5e3c28" stroke="none"/></g>
<g stroke-linecap="round" fill="none"><path d="M541.68,107.35 L544.18,105.47 M541.68,107.35 L544.8,107.1 M541.18,110.6 L543.05,112.97 M541.18,110.6 L544.18,111.97" stroke="#7fb9d2" stroke-width="0.8"/><path d="M539.93,109.1 L542.18,106.85 M539.93,109.1 L541.55,111.22" stroke="#2a4e5e" stroke-width="1.2"/><path d="M539.8,108.72 L537.18,107.85" stroke="#efc0a8" stroke-width="0.8"/><circle cx="539.8" cy="108.97" r="1.15" fill="#5e3c28" stroke="none"/></g>
<g stroke-linecap="round" fill="none"><path d="M503.08,73.15 L505.58,71.28 M503.08,73.15 L506.2,72.9 M502.58,76.4 L504.45,78.78 M502.58,76.4 L505.58,77.78" stroke="#7fb9d2" stroke-width="0.8"/><path d="M501.33,74.9 L503.58,72.65 M501.33,74.9 L502.95,77.03" stroke="#2a4e5e" stroke-width="1.2"/><path d="M501.2,74.53 L498.58,73.65" stroke="#efc0a8" stroke-width="0.8"/><circle cx="501.2" cy="74.78" r="1.15" fill="#5e3c28" stroke="none"/></g>
<line x1="500.25" y1="85.63" x2="501.95" y2="74.9" stroke="#4a7ad0" stroke-width="0.7" stroke-dasharray="0.8,0.8"/>
<g stroke-linecap="round"><line x1="500.25" y1="85.63" x2="497.25" y2="82.13" stroke="#555" stroke-width="0.8"/><line x1="497.25" y1="82.13" x2="495.25" y2="82.63" stroke="#8fb8d8" stroke-width="0.8"/><line x1="497.25" y1="82.13" x2="497.75" y2="79.63" stroke="#8fb8d8" stroke-width="0.8"/><line x1="497.25" y1="82.13" x2="499.75" y2="80.63" stroke="#8fb8d8" stroke-width="0.8"/><line x1="500.25" y1="85.63" x2="497.45" y2="86.23" stroke="#d04040" stroke-width="0.9"/><line x1="500.25" y1="85.63" x2="502.85" y2="86.83" stroke="#d04040" stroke-width="0.9"/><line x1="500.25" y1="85.63" x2="500.85" y2="88.63" stroke="#d04040" stroke-width="0.9"/><circle cx="500.25" cy="85.63" r="1.1" fill="#e8c830"/></g>
<g stroke-linecap="round" fill="none"><path d="M634.38,51.25 L636.88,49.37 M634.38,51.25 L637.5,51 M633.88,54.5 L635.75,56.87 M633.88,54.5 L636.88,55.87" stroke="#7fb9d2" stroke-width="0.8"/><path d="M632.62,53 L634.88,50.75 M632.62,53 L634.25,55.12" stroke="#2a4e5e" stroke-width="1.2"/><path d="M632.5,52.62 L629.88,51.75" stroke="#efc0a8" stroke-width="0.8"/><circle cx="632.5" cy="52.87" r="1.15" fill="#5e3c28" stroke="none"/></g>
<g stroke-linecap="round" fill="none"><path d="M606.08,67.45 L608.58,65.58 M606.08,67.45 L609.2,67.2 M605.58,70.7 L607.45,73.08 M605.58,70.7 L608.58,72.08" stroke="#7fb9d2" stroke-width="0.8"/><path d="M604.33,69.2 L606.58,66.95 M604.33,69.2 L605.95,71.33" stroke="#2a4e5e" stroke-width="1.2"/><path d="M604.2,68.83 L601.58,67.95" stroke="#efc0a8" stroke-width="0.8"/><circle cx="604.2" cy="69.08" r="1.15" fill="#5e3c28" stroke="none"/></g>
<g stroke-linecap="round" fill="none"><path d="M628.38,73.45 L630.88,71.57 M628.38,73.45 L631.5,73.2 M627.88,76.7 L629.75,79.07 M627.88,76.7 L630.88,78.07" stroke="#7fb9d2" stroke-width="0.8"/><path d="M626.62,75.2 L628.88,72.95 M626.62,75.2 L628.25,77.32" stroke="#2a4e5e" stroke-width="1.2"/><path d="M626.5,74.82 L623.88,73.95" stroke="#efc0a8" stroke-width="0.8"/><circle cx="626.5" cy="75.07" r="1.15" fill="#5e3c28" stroke="none"/></g>
<g stroke-linecap="round" fill="none"><path d="M650.68,79.45 L653.18,77.57 M650.68,79.45 L653.8,79.2 M650.18,82.7 L652.05,85.07 M650.18,82.7 L653.18,84.07" stroke="#7fb9d2" stroke-width="0.8"/><path d="M648.93,81.2 L651.18,78.95 M648.93,81.2 L650.55,83.32" stroke="#2a4e5e" stroke-width="1.2"/><path d="M648.8,80.82 L646.18,79.95" stroke="#efc0a8" stroke-width="0.8"/><circle cx="648.8" cy="81.07" r="1.15" fill="#5e3c28" stroke="none"/></g>
<g stroke-linecap="round" fill="none"><path d="M672.98,85.45 L675.48,83.57 M672.98,85.45 L676.1,85.2 M672.48,88.7 L674.35,91.07 M672.48,88.7 L675.48,90.07" stroke="#7fb9d2" stroke-width="0.8"/><path d="M671.23,87.2 L673.48,84.95 M671.23,87.2 L672.85,89.32" stroke="#2a4e5e" stroke-width="1.2"/><path d="M671.1,86.82 L668.48,85.95" stroke="#efc0a8" stroke-width="0.8"/><circle cx="671.1" cy="87.07" r="1.15" fill="#5e3c28" stroke="none"/></g>
<g stroke-linecap="round" fill="none"><path d="M622.38,95.65 L624.88,93.77 M622.38,95.65 L625.5,95.4 M621.88,98.9 L623.75,101.27 M621.88,98.9 L624.88,100.27" stroke="#7fb9d2" stroke-width="0.8"/><path d="M620.62,97.4 L622.88,95.15 M620.62,97.4 L622.25,99.52" stroke="#2a4e5e" stroke-width="1.2"/><path d="M620.5,97.02 L617.88,96.15" stroke="#efc0a8" stroke-width="0.8"/><circle cx="620.5" cy="97.27" r="1.15" fill="#5e3c28" stroke="none"/></g>
<g stroke-linecap="round" fill="none"><path d="M644.68,101.65 L647.18,99.77 M644.68,101.65 L647.8,101.4 M644.18,104.9 L646.05,107.27 M644.18,104.9 L647.18,106.27" stroke="#7fb9d2" stroke-width="0.8"/><path d="M642.93,103.4 L645.18,101.15 M642.93,103.4 L644.55,105.52" stroke="#2a4e5e" stroke-width="1.2"/><path d="M642.8,103.02 L640.18,102.15" stroke="#efc0a8" stroke-width="0.8"/><circle cx="642.8" cy="103.27" r="1.15" fill="#5e3c28" stroke="none"/></g>
<g stroke-linecap="round" fill="none"><path d="M656.68,57.25 L659.18,55.37 M656.68,57.25 L659.8,57 M656.18,60.5 L658.05,62.87 M656.18,60.5 L659.18,61.87" stroke="#7fb9d2" stroke-width="0.8"/><path d="M654.93,59 L657.18,56.75 M654.93,59 L656.55,61.12" stroke="#2a4e5e" stroke-width="1.2"/><path d="M654.8,58.62 L652.18,57.75" stroke="#efc0a8" stroke-width="0.8"/><circle cx="654.8" cy="58.87" r="1.15" fill="#5e3c28" stroke="none"/></g>
<line x1="644.74" y1="59.19" x2="633.25" y2="53" stroke="#4a7ad0" stroke-width="0.7" stroke-dasharray="0.8,0.8"/>
<line x1="644.74" y1="59.19" x2="655.55" y2="59" stroke="#4a7ad0" stroke-width="0.7" stroke-dasharray="0.8,0.8"/>
<g stroke-linecap="round"><line x1="644.74" y1="59.19" x2="641.74" y2="55.69" stroke="#555" stroke-width="0.8"/><line x1="641.74" y1="55.69" x2="639.74" y2="56.19" stroke="#8fb8d8" stroke-width="0.8"/><line x1="641.74" y1="55.69" x2="642.24" y2="53.19" stroke="#8fb8d8" stroke-width="0.8"/><line x1="641.74" y1="55.69" x2="644.24" y2="54.19" stroke="#8fb8d8" stroke-width="0.8"/><line x1="644.74" y1="59.19" x2="641.94" y2="59.79" stroke="#d04040" stroke-width="0.9"/><line x1="644.74" y1="59.19" x2="647.34" y2="60.39" stroke="#d04040" stroke-width="0.9"/><line x1="644.74" y1="59.19" x2="645.34" y2="62.19" stroke="#d04040" stroke-width="0.9"/><circle cx="644.74" cy="59.19" r="1.1" fill="#e8c830"/></g>
<g stroke-linecap="round" fill="none"><path d="M518.17,147.95 L520.67,146.07 M518.17,147.95 L521.3,147.7 M517.67,151.2 L519.55,153.57 M517.67,151.2 L520.67,152.57" stroke="#7fb9d2" stroke-width="0.8"/><path d="M516.42,149.7 L518.67,147.45 M516.42,149.7 L518.05,151.82" stroke="#2a4e5e" stroke-width="1.2"/><path d="M516.3,149.32 L513.67,148.45" stroke="#efc0a8" stroke-width="0.8"/><circle cx="516.3" cy="149.57" r="1.15" fill="#5e3c28" stroke="none"/></g>
<g stroke-linecap="round" fill="none"><path d="M540.48,153.95 L542.98,152.07 M540.48,153.95 L543.6,153.7 M539.98,157.2 L541.85,159.57 M539.98,157.2 L542.98,158.57" stroke="#7fb9d2" stroke-width="0.8"/><path d="M538.73,155.7 L540.98,153.45 M538.73,155.7 L540.35,157.82" stroke="#2a4e5e" stroke-width="1.2"/><path d="M538.6,155.32 L535.98,154.45" stroke="#efc0a8" stroke-width="0.8"/><circle cx="538.6" cy="155.57" r="1.15" fill="#5e3c28" stroke="none"/></g>
<g stroke-linecap="round" fill="none"><path d="M562.77,159.95 L565.27,158.07 M562.77,159.95 L565.9,159.7 M562.27,163.2 L564.15,165.57 M562.27,163.2 L565.27,164.57" stroke="#7fb9d2" stroke-width="0.8"/><path d="M561.02,161.7 L563.27,159.45 M561.02,161.7 L562.65,163.82" stroke="#2a4e5e" stroke-width="1.2"/><path d="M560.9,161.32 L558.27,160.45" stroke="#efc0a8" stroke-width="0.8"/><circle cx="560.9" cy="161.57" r="1.15" fill="#5e3c28" stroke="none"/></g>
<g stroke-linecap="round" fill="none"><path d="M512.17,170.15 L514.67,168.27 M512.17,170.15 L515.3,169.9 M511.67,173.4 L513.55,175.77 M511.67,173.4 L514.67,174.77" stroke="#7fb9d2" stroke-width="0.8"/><path d="M510.42,171.9 L512.67,169.65 M510.42,171.9 L512.05,174.02" stroke="#2a4e5e" stroke-width="1.2"/><path d="M510.3,171.52 L507.67,170.65" stroke="#efc0a8" stroke-width="0.8"/><circle cx="510.3" cy="171.77" r="1.15" fill="#5e3c28" stroke="none"/></g>
<g stroke-linecap="round" fill="none"><path d="M534.48,176.15 L536.98,174.27 M534.48,176.15 L537.6,175.9 M533.98,179.4 L535.85,181.77 M533.98,179.4 L536.98,180.77" stroke="#7fb9d2" stroke-width="0.8"/><path d="M532.73,177.9 L534.98,175.65 M532.73,177.9 L534.35,180.02" stroke="#2a4e5e" stroke-width="1.2"/><path d="M532.6,177.52 L529.98,176.65" stroke="#efc0a8" stroke-width="0.8"/><circle cx="532.6" cy="177.77" r="1.15" fill="#5e3c28" stroke="none"/></g>
<g stroke-linecap="round" fill="none"><path d="M528.48,198.35 L530.98,196.47 M528.48,198.35 L531.6,198.1 M527.98,201.6 L529.85,203.97 M527.98,201.6 L530.98,202.97" stroke="#7fb9d2" stroke-width="0.8"/><path d="M526.73,200.1 L528.98,197.85 M526.73,200.1 L528.35,202.22" stroke="#2a4e5e" stroke-width="1.2"/><path d="M526.6,199.72 L523.98,198.85" stroke="#efc0a8" stroke-width="0.8"/><circle cx="526.6" cy="199.97" r="1.15" fill="#5e3c28" stroke="none"/></g>
<g stroke-linecap="round" fill="none"><path d="M546.48,131.75 L548.98,129.88 M546.48,131.75 L549.6,131.5 M545.98,135 L547.85,137.38 M545.98,135 L548.98,136.38" stroke="#7fb9d2" stroke-width="0.8"/><path d="M544.73,133.5 L546.98,131.25 M544.73,133.5 L546.35,135.62" stroke="#2a4e5e" stroke-width="1.2"/><path d="M544.6,133.12 L541.98,132.25" stroke="#efc0a8" stroke-width="0.8"/><circle cx="544.6" cy="133.38" r="1.15" fill="#5e3c28" stroke="none"/></g>
<line x1="556.51" y1="139.12" x2="545.35" y2="133.5" stroke="#4a7ad0" stroke-width="0.7" stroke-dasharray="0.8,0.8"/>
<g stroke-linecap="round"><line x1="556.51" y1="139.12" x2="553.51" y2="135.62" stroke="#555" stroke-width="0.8"/><line x1="553.51" y1="135.62" x2="551.51" y2="136.12" stroke="#8fb8d8" stroke-width="0.8"/><line x1="553.51" y1="135.62" x2="554.01" y2="133.12" stroke="#8fb8d8" stroke-width="0.8"/><line x1="553.51" y1="135.62" x2="556.01" y2="134.12" stroke="#8fb8d8" stroke-width="0.8"/><line x1="556.51" y1="139.12" x2="553.71" y2="139.72" stroke="#d04040" stroke-width="0.9"/><line x1="556.51" y1="139.12" x2="559.11" y2="140.32" stroke="#d04040" stroke-width="0.9"/><line x1="556.51" y1="139.12" x2="557.11" y2="142.12" stroke="#d04040" stroke-width="0.9"/><circle cx="556.51" cy="139.12" r="1.1" fill="#e8c830"/></g>
<g stroke-linecap="round" fill="none"><path d="M618.67,142.15 L621.17,140.28 M618.67,142.15 L621.8,141.9 M618.17,145.4 L620.05,147.78 M618.17,145.4 L621.17,146.78" stroke="#7fb9d2" stroke-width="0.8"/><path d="M616.92,143.9 L619.17,141.65 M616.92,143.9 L618.55,146.03" stroke="#2a4e5e" stroke-width="1.2"/><path d="M616.8,143.53 L614.17,142.65" stroke="#efc0a8" stroke-width="0.8"/><circle cx="616.8" cy="143.78" r="1.15" fill="#5e3c28" stroke="none"/></g>
<g stroke-linecap="round" fill="none"><path d="M612.67,164.35 L615.17,162.47 M612.67,164.35 L615.8,164.1 M612.17,167.6 L614.05,169.97 M612.17,167.6 L615.17,168.97" stroke="#7fb9d2" stroke-width="0.8"/><path d="M610.92,166.1 L613.17,163.85 M610.92,166.1 L612.55,168.22" stroke="#2a4e5e" stroke-width="1.2"/><path d="M610.8,165.72 L608.17,164.85" stroke="#efc0a8" stroke-width="0.8"/><circle cx="610.8" cy="165.97" r="1.15" fill="#5e3c28" stroke="none"/></g>
<g stroke-linecap="round" fill="none"><path d="M634.98,170.35 L637.48,168.47 M634.98,170.35 L638.1,170.1 M634.48,173.6 L636.35,175.97 M634.48,173.6 L637.48,174.97" stroke="#7fb9d2" stroke-width="0.8"/><path d="M633.23,172.1 L635.48,169.85 M633.23,172.1 L634.85,174.22" stroke="#2a4e5e" stroke-width="1.2"/><path d="M633.1,171.72 L630.48,170.85" stroke="#efc0a8" stroke-width="0.8"/><circle cx="633.1" cy="171.97" r="1.15" fill="#5e3c28" stroke="none"/></g>
<g stroke-linecap="round" fill="none"><path d="M657.27,176.35 L659.77,174.47 M657.27,176.35 L660.4,176.1 M656.77,179.6 L658.65,181.97 M656.77,179.6 L659.77,180.97" stroke="#7fb9d2" stroke-width="0.8"/><path d="M655.52,178.1 L657.77,175.85 M655.52,178.1 L657.15,180.22" stroke="#2a4e5e" stroke-width="1.2"/><path d="M655.4,177.72 L652.77,176.85" stroke="#efc0a8" stroke-width="0.8"/><circle cx="655.4" cy="177.97" r="1.15" fill="#5e3c28" stroke="none"/></g>
<g stroke-linecap="round" fill="none"><path d="M606.67,186.55 L609.17,184.68 M606.67,186.55 L609.8,186.3 M606.17,189.8 L608.05,192.18 M606.17,189.8 L609.17,191.18" stroke="#7fb9d2" stroke-width="0.8"/><path d="M604.92,188.3 L607.17,186.05 M604.92,188.3 L606.55,190.43" stroke="#2a4e5e" stroke-width="1.2"/><path d="M604.8,187.93 L602.17,187.05" stroke="#efc0a8" stroke-width="0.8"/><circle cx="604.8" cy="188.18" r="1.15" fill="#5e3c28" stroke="none"/></g>
<g stroke-linecap="round" fill="none"><path d="M628.98,192.55 L631.48,190.68 M628.98,192.55 L632.1,192.3 M628.48,195.8 L630.35,198.18 M628.48,195.8 L631.48,197.18" stroke="#7fb9d2" stroke-width="0.8"/><path d="M627.23,194.3 L629.48,192.05 M627.23,194.3 L628.85,196.43" stroke="#2a4e5e" stroke-width="1.2"/><path d="M627.1,193.93 L624.48,193.05" stroke="#efc0a8" stroke-width="0.8"/><circle cx="627.1" cy="194.18" r="1.15" fill="#5e3c28" stroke="none"/></g>
<g stroke-linecap="round" fill="none"><path d="M640.98,148.15 L643.48,146.28 M640.98,148.15 L644.1,147.9 M640.48,151.4 L642.35,153.78 M640.48,151.4 L643.48,152.78" stroke="#7fb9d2" stroke-width="0.8"/><path d="M639.23,149.9 L641.48,147.65 M639.23,149.9 L640.85,152.03" stroke="#2a4e5e" stroke-width="1.2"/><path d="M639.1,149.53 L636.48,148.65" stroke="#efc0a8" stroke-width="0.8"/><circle cx="639.1" cy="149.78" r="1.15" fill="#5e3c28" stroke="none"/></g>
<line x1="628.1" y1="149.12" x2="617.55" y2="143.9" stroke="#4a7ad0" stroke-width="0.7" stroke-dasharray="0.8,0.8"/>
<line x1="628.1" y1="149.12" x2="639.85" y2="149.9" stroke="#4a7ad0" stroke-width="0.7" stroke-dasharray="0.8,0.8"/>
<g stroke-linecap="round"><line x1="628.1" y1="149.12" x2="625.1" y2="145.62" stroke="#555" stroke-width="0.8"/><line x1="625.1" y1="145.62" x2="623.1" y2="146.12" stroke="#8fb8d8" stroke-width="0.8"/><line x1="625.1" y1="145.62" x2="625.6" y2="143.12" stroke="#8fb8d8" stroke-width="0.8"/><line x1="625.1" y1="145.62" x2="627.6" y2="144.12" stroke="#8fb8d8" stroke-width="0.8"/><line x1="628.1" y1="149.12" x2="625.3" y2="149.72" stroke="#d04040" stroke-width="0.9"/><line x1="628.1" y1="149.12" x2="630.7" y2="150.32" stroke="#d04040" stroke-width="0.9"/><line x1="628.1" y1="149.12" x2="628.7" y2="152.12" stroke="#d04040" stroke-width="0.9"/><circle cx="628.1" cy="149.12" r="1.1" fill="#e8c830"/></g>
<defs>
<linearGradient id="bk_top" x1="0" y1="0" x2="1" y2="0"><stop offset="0" stop-color="#c8e8f4"/><stop offset="0.15" stop-color="#dbf0f8"/><stop offset="0.8" stop-color="#d3edf7"/><stop offset="0.93" stop-color="#b9e1f1"/><stop offset="1" stop-color="#8fd0ea"/></linearGradient>
<linearGradient id="bk_liq" x1="0" y1="0" x2="1" y2="0"><stop offset="0" stop-color="#e2efc8"/><stop offset="0.06" stop-color="#eaf4d6"/><stop offset="0.5" stop-color="#e6f1cf"/><stop offset="0.86" stop-color="#e4efc4"/><stop offset="0.92" stop-color="#dbe884"/><stop offset="1" stop-color="#d2e04c"/></linearGradient>
<linearGradient id="bk_rim" x1="0" y1="0" x2="0" y2="1"><stop offset="0" stop-color="#bfe5f2"/><stop offset="0.45" stop-color="#92d0e8"/><stop offset="0.72" stop-color="#48acd8"/><stop offset="1" stop-color="#8fcfe8"/></linearGradient>
<radialGradient id="drop" cx="0.5" cy="0.8" r="0.6"><stop offset="0" stop-color="#bfe6f4"/><stop offset="1" stop-color="#ffffff"/></radialGradient>
</defs>
<path d="M315.5,117 L315.5,184 Q315.8,195.4 345.2,195.4 Q374.7,195.4 374.9,184 L375.3,108 Z" fill="url(#bk_top)"/>
<path d="M315.5,143 Q345,149.5 374.9,143 L374.9,184 Q374.7,195.4 345.2,195.4 Q315.8,195.4 315.5,184 Z" fill="url(#bk_liq)"/>
<ellipse cx="345.2" cy="143" rx="29.7" ry="6" fill="#eef6dc"/>
<ellipse cx="345" cy="188" rx="27" ry="7.2" fill="#dfecb0" opacity="0.85"/>
<path d="M318,148.6 Q345,150.5 372,148.2" fill="none" stroke="#ffffff" stroke-width="0.7"/>
<rect x="326.2" y="158.4" width="20.4" height="15" rx="1.6" fill="#eef7fb" stroke="#d6e8f2" stroke-width="0.6"/>
<path d="M350.6,143.2 V177.3 M350.6,143.2 H358.2 M350.6,151.5 H358.2 M350.6,160.4 H358.2 M350.6,168.3 H358.2 M350.6,177.3 H358.2" stroke="#555" stroke-width="0.6" fill="none"/>
<path d="M315.5,117 L315.5,184 Q315.8,195.4 345.2,195.4 Q374.7,195.4 374.9,184 L375.3,108" fill="none" stroke="#8a979c" stroke-width="0.6"/>
<path d="M306.6,113.4 Q312.6,113.6 315.5,119 L315.5,121 L318,121 L318,112 Z" fill="#cfe9f4"/>
<path d="M306.6,113.6 Q312.6,113.8 315.5,119" fill="none" stroke="#8a979c" stroke-width="0.6"/>
<path d="M306.4,113.2 C307,106 318,100.2 342.5,99.4 C366,99.2 378.5,102.5 378,106.6 C377.5,110.5 365,113.9 342.5,114 C325,114.1 312,112.2 306.4,113.2 Z" fill="#f4fafd" stroke="#8a979c" stroke-width="0.6"/>
<path d="M309.2,110.6 C311,105.2 322,101.4 342.5,101 C364,100.8 376.2,103.6 376.2,106.6 C376.2,109.8 364,112.6 342.5,112.6 C326,112.6 315,110.8 309.2,110.6 Z" fill="url(#bk_rim)"/>
<line x1="345.3" y1="63.4" x2="384" y2="24.4" stroke="#8fb8c6" stroke-width="2" stroke-linecap="round"/>
<line x1="345.6" y1="63" x2="384" y2="24.4" stroke="#cfe7ef" stroke-width="0.8"/>
<line x1="384.5" y1="23.8" x2="396.6" y2="13" stroke="#8db9c8" stroke-width="5" stroke-linecap="round"/>
<line x1="384.5" y1="23.8" x2="396.6" y2="13" stroke="#b5d9e5" stroke-width="3.4" stroke-linecap="round"/>
<path d="M344.8,68.3 Q346,72 349.5,75.5 A5.6,5.6 0 1 1 340.1,75.5 Q343.6,72 344.8,68.3 Z" fill="url(#drop)" stroke="#9bd3ea" stroke-width="0.6"/>
<path d="M227.3,157.6 L236.6,150.5 L236.6,154.2 L273.6,154.2 L269,157.8 L273.6,161.4 L236.6,161.4 L236.6,164.8 Z" fill="#e6e6e6" stroke="#8c8c8c" stroke-width="0.7" stroke-linejoin="miter"/>
<path d="M452.9,157.7 L443.8,150.6 L443.8,154.3 L407.3,154.3 L411.7,157.8 L407.3,161.4 L443.8,161.4 L443.8,164.9 Z" fill="#e6e6e6" stroke="#8c8c8c" stroke-width="0.7" stroke-linejoin="miter"/>
<text x="-0.8" y="8.9" font-size="16" font-weight="bold" fill="#000">a</text>
<text x="94.2" y="14.6" font-size="10.8" fill="#1a1a1a">Pristine QDs</text>
<text x="567.7" y="14.6" font-size="11.2" fill="#1a1a1a">Target QDs</text>
<text x="362.4" y="72.8" font-size="10.7" fill="#1a1a1a">Precursor</text>
<text x="231.2" y="136.7" font-size="10.7" fill="#1a1a1a">w/o ion pair</text>
<text x="408.5" y="136.7" font-size="10.7" fill="#1a1a1a">with ion pair</text>
</g>
<polyline points="17.38,362.69 17.65,362.69 17.91,362.69 18.18,362.69 18.45,362.69 18.72,362.69 18.98,362.69 19.25,362.69 19.52,362.69 19.78,362.69 20.05,362.69 20.32,362.69 20.58,362.69 20.85,362.69 21.12,362.69 21.39,362.69 21.65,362.69 21.92,362.69 22.19,362.69 22.45,362.69 22.72,362.69 22.99,362.69 23.26,362.69 23.52,362.69 23.79,362.68 24.06,362.68 24.32,362.68 24.59,362.68 24.86,362.68 25.13,362.68 25.39,362.68 25.66,362.68 25.93,362.68 26.19,362.68 26.46,362.68 26.73,362.67 27,362.67 27.26,362.67 27.53,362.67 27.8,362.67 28.06,362.67 28.33,362.67 28.6,362.66 28.87,362.66 29.13,362.66 29.4,362.66 29.67,362.66 29.93,362.66 30.2,362.65 30.47,362.65 30.73,362.65 31,362.65 31.27,362.64 31.54,362.64 31.8,362.64 32.07,362.64 32.34,362.63 32.6,362.63 32.87,362.63 33.14,362.62 33.41,362.62 33.67,362.62 33.94,362.61 34.21,362.61 34.47,362.61 34.74,362.6 35.01,362.6 35.28,362.6 35.54,362.59 35.81,362.59 36.08,362.58 36.34,362.58 36.61,362.57 36.88,362.57 37.15,362.56 37.41,362.56 37.68,362.55 37.95,362.54 38.21,362.54 38.48,362.53 38.75,362.52 39.02,362.52 39.28,362.51 39.55,362.5 39.82,362.49 40.08,362.49 40.35,362.48 40.62,362.47 40.89,362.46 41.15,362.45 41.42,362.44 41.69,362.43 41.95,362.42 42.22,362.41 42.49,362.4 42.75,362.39 43.02,362.38 43.29,362.37 43.56,362.36 43.82,362.34 44.09,362.33 44.36,362.32 44.62,362.31 44.89,362.29 45.16,362.28 45.43,362.26 45.69,362.25 45.96,362.23 46.23,362.22 46.49,362.2 46.76,362.18 47.03,362.17 47.3,362.15 47.56,362.13 47.83,362.11 48.1,362.09 48.36,362.07 48.63,362.05 48.9,362.03 49.17,362.01 49.43,361.99 49.7,361.97 49.97,361.95 50.23,361.92 50.5,361.9 50.77,361.87 51.04,361.85 51.3,361.82 51.57,361.8 51.84,361.77 52.1,361.74 52.37,361.72 52.64,361.69 52.9,361.66 53.17,361.63 53.44,361.6 53.71,361.57 53.97,361.54 54.24,361.5 54.51,361.47 54.77,361.44 55.04,361.4 55.31,361.37 55.58,361.33 55.84,361.3 56.11,361.26 56.38,361.22 56.64,361.19 56.91,361.15 57.18,361.11 57.45,361.07 57.71,361.03 57.98,360.99 58.25,360.94 58.51,360.9 58.78,360.86 59.05,360.81 59.32,360.77 59.58,360.72 59.85,360.68 60.12,360.63 60.38,360.58 60.65,360.54 60.92,360.49 61.19,360.44 61.45,360.39 61.72,360.34 61.99,360.29 62.25,360.24 62.52,360.18 62.79,360.13 63.05,360.08 63.32,360.02 63.59,359.97 63.86,359.92 64.12,359.86 64.39,359.8 64.66,359.75 64.92,359.69 65.19,359.63 65.46,359.57 65.73,359.52 65.99,359.46 66.26,359.4 66.53,359.34 66.79,359.28 67.06,359.22 67.33,359.16 67.6,359.1 67.86,359.04 68.13,358.97 68.4,358.91 68.66,358.85 68.93,358.79 69.2,358.73 69.47,358.66 69.73,358.6 70,358.54 70.27,358.47 70.53,358.41 70.8,358.35 71.07,358.28 71.34,358.22 71.6,358.16 71.87,358.09 72.14,358.03 72.4,357.97 72.67,357.91 72.94,357.84 73.2,357.78 73.47,357.72 73.74,357.66 74.01,357.59 74.27,357.53 74.54,357.47 74.81,357.41 75.07,357.35 75.34,357.29 75.61,357.23 75.88,357.17 76.14,357.11 76.41,357.05 76.68,357 76.94,356.94 77.21,356.88 77.48,356.83 77.75,356.77 78.01,356.72 78.28,356.66 78.55,356.61 78.81,356.56 79.08,356.51 79.35,356.46 79.62,356.41 79.88,356.36 80.15,356.31 80.42,356.27 80.68,356.22 80.95,356.17 81.22,356.13 81.49,356.09 81.75,356.05 82.02,356.01 82.29,355.97 82.55,355.93 82.82,355.89 83.09,355.86 83.36,355.82 83.62,355.79 83.89,355.76 84.16,355.72 84.42,355.7 84.69,355.67 84.96,355.64 85.22,355.61 85.49,355.59 85.76,355.57 86.03,355.55 86.29,355.53 86.56,355.51 86.83,355.49 87.09,355.47 87.36,355.46 87.63,355.45 87.9,355.44 88.16,355.43 88.43,355.42 88.7,355.41 88.96,355.4 89.23,355.4 89.5,355.4 89.77,355.4 90.03,355.4 90.3,355.4 90.57,355.4 90.83,355.41 91.1,355.41 91.37,355.42 91.64,355.43 91.9,355.44 92.17,355.45 92.44,355.47 92.7,355.48 92.97,355.5 93.24,355.52 93.51,355.54 93.77,355.56 94.04,355.58 94.31,355.6 94.57,355.63 94.84,355.65 95.11,355.68 95.37,355.71 95.64,355.74 95.91,355.77 96.18,355.81 96.44,355.84 96.71,355.87 96.98,355.91 97.24,355.95 97.51,355.99 97.78,356.03 98.05,356.07 98.31,356.11 98.58,356.15 98.85,356.2 99.11,356.24 99.38,356.29 99.65,356.34 99.92,356.39 100.18,356.43 100.45,356.48 100.72,356.53 100.98,356.59 101.25,356.64 101.52,356.69 101.79,356.75 102.05,356.8 102.32,356.86 102.59,356.91 102.85,356.97 103.12,357.03 103.39,357.08 103.66,357.14 103.92,357.2 104.19,357.26 104.46,357.32 104.72,357.38 104.99,357.44 105.26,357.5 105.52,357.56 105.79,357.63 106.06,357.69 106.33,357.75 106.59,357.81 106.86,357.87 107.13,357.94 107.39,358 107.66,358.06 107.93,358.13 108.2,358.19 108.46,358.25 108.73,358.32 109,358.38 109.26,358.44 109.53,358.51 109.8,358.57 110.07,358.63 110.33,358.69 110.6,358.76 110.87,358.82 111.13,358.88 111.4,358.94 111.67,359 111.94,359.07 112.2,359.13 112.47,359.19 112.74,359.25 113,359.31 113.27,359.37 113.54,359.43 113.81,359.49 114.07,359.55 114.34,359.6 114.61,359.66 114.87,359.72 115.14,359.77 115.41,359.83 115.68,359.89 115.94,359.94 116.21,360 116.48,360.05 116.74,360.1 117.01,360.16 117.28,360.21 117.54,360.26 117.81,360.31 118.08,360.36 118.35,360.41 118.61,360.46 118.88,360.51 119.15,360.56 119.41,360.61 119.68,360.65 119.95,360.7 120.22,360.74 120.48,360.79 120.75,360.83 121.02,360.88 121.28,360.92 121.55,360.96 121.82,361 122.09,361.04 122.35,361.08 122.62,361.12 122.89,361.16 123.15,361.2 123.42,361.24 123.69,361.28 123.96,361.31 124.22,361.35 124.49,361.38 124.76,361.42 125.02,361.45 125.29,361.48 125.56,361.52 125.83,361.55 126.09,361.58 126.36,361.61 126.63,361.64 126.89,361.67 127.16,361.7 127.43,361.72 127.69,361.75 127.96,361.78 128.23,361.81 128.5,361.83 128.76,361.86 129.03,361.88 129.3,361.9 129.56,361.93 129.83,361.95 130.1,361.97 130.37,361.99 130.63,362.02 130.9,362.04 131.17,362.06 131.43,362.08 131.7,362.1 131.97,362.11 132.24,362.13 132.5,362.15 132.77,362.17 133.04,362.18 133.3,362.2 133.57,362.22 133.84,362.23 134.11,362.25 134.37,362.26 134.64,362.28 134.91,362.29 135.17,362.3 135.44,362.32 135.71,362.33 135.98,362.34 136.24,362.35 136.51,362.36 136.78,362.38 137.04,362.39 137.31,362.4 137.58,362.41 137.84,362.42 138.11,362.43 138.38,362.44 138.65,362.44 138.91,362.45 139.18,362.46 139.45,362.47 139.71,362.48 139.98,362.49 140.25,362.49 140.52,362.5 140.78,362.51 141.05,362.51 141.32,362.52 141.58,362.53 141.85,362.53 142.12,362.54 142.39,362.54 142.65,362.55 142.92,362.55 143.19,362.56 143.45,362.56 143.72,362.57 143.99,362.57 144.26,362.58 144.52,362.58 144.79,362.58 145.06,362.59 145.32,362.59 145.59,362.6 145.86,362.6 146.13,362.6 146.39,362.61 146.66,362.61 146.93,362.61 147.19,362.61 147.46,362.62 147.73,362.62 148,362.62 148.26,362.62 148.53,362.63 148.8,362.63 149.06,362.63 149.33,362.63 149.6,362.63 149.86,362.63 150.13,362.64 150.4,362.64 150.67,362.64 150.93,362.64 151.2,362.64 151.47,362.64 151.73,362.64 152,362.64 152.27,362.65 152.54,362.65 152.8,362.65 153.07,362.65 153.34,362.65 153.6,362.65 153.87,362.65 154.14,362.65 154.41,362.65 154.67,362.65 154.94,362.65 155.21,362.65 155.47,362.65 155.74,362.65 156.01,362.65 156.28,362.65 156.54,362.65 156.81,362.65 157.08,362.65 157.34,362.65 157.61,362.65 157.88,362.65 158.15,362.65 158.41,362.65 158.68,362.65 158.95,362.65 159.21,362.65 159.48,362.65 159.75,362.65 160.01,362.65 160.28,362.65 160.55,362.65 160.82,362.65 161.08,362.65 161.35,362.65 161.62,362.64 161.88,362.64 162.15,362.64 162.42,362.64 162.69,362.64 162.95,362.64 163.22,362.64 163.49,362.64 163.75,362.64 164.02,362.63 164.29,362.63 164.56,362.63 164.82,362.63 165.09,362.63 165.36,362.63 165.62,362.63 165.89,362.62 166.16,362.62 166.43,362.62 166.69,362.62 166.96,362.62 167.23,362.61 167.49,362.61 167.76,362.61 168.03,362.61 168.3,362.6 168.56,362.6 168.83,362.6 169.1,362.59 169.36,362.59 169.63,362.59 169.9,362.58 170.16,362.58 170.43,362.58 170.7,362.57 170.97,362.57 171.23,362.56 171.5,362.56 171.77,362.55 172.03,362.55 172.3,362.54 172.57,362.54 172.84,362.53 173.1,362.52 173.37,362.52 173.64,362.51 173.9,362.5 174.17,362.49 174.44,362.48 174.71,362.48 174.97,362.46 175.24,362.45 175.51,362.44 175.77,362.43 176.04,362.42 176.31,362.4 176.58,362.38 176.84,362.37 177.11,362.35 177.38,362.33 177.64,362.31 177.91,362.28 178.18,362.26 178.45,362.23 178.71,362.19 178.98,362.16 179.25,362.12 179.51,362.08 179.78,362.03 180.05,361.97 180.31,361.91 180.58,361.84 180.85,361.76 181.12,361.67 181.38,361.57 181.65,361.45 181.92,361.31 182.18,361.14 182.45,360.94 182.72,360.71 182.99,360.42 183.25,360.06 183.52,359.62 183.79,359.05 184.05,358.31 184.32,357.31 184.59,355.92 184.86,353.93 185.12,350.94 185.39,346.21 185.66,338.31 185.92,324.73 186.19,303.3 186.46,283.62 186.73,290.47 186.99,313.7 187.26,331.67 187.53,342.35 187.79,348.6 188.06,352.43 188.33,354.91 188.6,356.6 188.86,357.79 189.13,358.66 189.4,359.32 189.66,359.83 189.93,360.23 190.2,360.56 190.47,360.82 190.73,361.04 191,361.22 191.27,361.37 191.53,361.5 191.8,361.62 192.07,361.71 192.33,361.8 192.6,361.87 192.87,361.94 193.14,362 193.4,362.05 193.67,362.1 193.94,362.14 194.2,362.17 194.47,362.21 194.74,362.24 195.01,362.27 195.27,362.29 195.54,362.32 195.81,362.34 196.07,362.36 196.34,362.38 196.61,362.39 196.88,362.41 197.14,362.42 197.41,362.43 197.68,362.45 197.94,362.46 198.21,362.47 198.48,362.48 198.75,362.49 199.01,362.5 199.28,362.51 199.55,362.51 199.81,362.52 200.08,362.53 200.35,362.53 200.62,362.54 200.88,362.55 201.15,362.55 201.42,362.56 201.68,362.56 201.95,362.57 202.22,362.57 202.48,362.58 202.75,362.58 203.02,362.58 203.29,362.59" fill="none" stroke="#6e6e6e" stroke-width="1.0" stroke-linejoin="round"/>
<polyline points="17.38,387.45 17.65,387.45 17.91,387.44 18.18,387.44 18.45,387.44 18.72,387.44 18.98,387.44 19.25,387.44 19.52,387.44 19.78,387.43 20.05,387.43 20.32,387.43 20.58,387.43 20.85,387.43 21.12,387.43 21.39,387.42 21.65,387.42 21.92,387.42 22.19,387.42 22.45,387.42 22.72,387.41 22.99,387.41 23.26,387.41 23.52,387.41 23.79,387.41 24.06,387.4 24.32,387.4 24.59,387.4 24.86,387.4 25.13,387.39 25.39,387.39 25.66,387.39 25.93,387.39 26.19,387.39 26.46,387.38 26.73,387.38 27,387.38 27.26,387.37 27.53,387.37 27.8,387.37 28.06,387.37 28.33,387.36 28.6,387.36 28.87,387.36 29.13,387.35 29.4,387.35 29.67,387.35 29.93,387.34 30.2,387.34 30.47,387.34 30.73,387.33 31,387.33 31.27,387.33 31.54,387.32 31.8,387.32 32.07,387.32 32.34,387.31 32.6,387.31 32.87,387.3 33.14,387.3 33.41,387.3 33.67,387.29 33.94,387.29 34.21,387.28 34.47,387.28 34.74,387.27 35.01,387.27 35.28,387.27 35.54,387.26 35.81,387.26 36.08,387.25 36.34,387.24 36.61,387.24 36.88,387.23 37.15,387.23 37.41,387.22 37.68,387.22 37.95,387.21 38.21,387.2 38.48,387.2 38.75,387.19 39.02,387.18 39.28,387.18 39.55,387.17 39.82,387.16 40.08,387.15 40.35,387.14 40.62,387.14 40.89,387.13 41.15,387.12 41.42,387.11 41.69,387.1 41.95,387.09 42.22,387.07 42.49,387.06 42.75,387.05 43.02,387.04 43.29,387.03 43.56,387.01 43.82,387 44.09,386.98 44.36,386.97 44.62,386.95 44.89,386.93 45.16,386.91 45.43,386.9 45.69,386.88 45.96,386.85 46.23,386.83 46.49,386.81 46.76,386.79 47.03,386.76 47.3,386.74 47.56,386.71 47.83,386.68 48.1,386.65 48.36,386.62 48.63,386.59 48.9,386.56 49.17,386.52 49.43,386.49 49.7,386.45 49.97,386.41 50.23,386.37 50.5,386.33 50.77,386.28 51.04,386.24 51.3,386.19 51.57,386.14 51.84,386.09 52.1,386.04 52.37,385.99 52.64,385.93 52.9,385.88 53.17,385.82 53.44,385.76 53.71,385.7 53.97,385.64 54.24,385.57 54.51,385.51 54.77,385.44 55.04,385.37 55.31,385.3 55.58,385.23 55.84,385.16 56.11,385.08 56.38,385.01 56.64,384.93 56.91,384.86 57.18,384.78 57.45,384.7 57.71,384.63 57.98,384.55 58.25,384.47 58.51,384.39 58.78,384.31 59.05,384.23 59.32,384.15 59.58,384.07 59.85,383.99 60.12,383.92 60.38,383.84 60.65,383.76 60.92,383.69 61.19,383.62 61.45,383.54 61.72,383.47 61.99,383.4 62.25,383.34 62.52,383.27 62.79,383.21 63.05,383.15 63.32,383.09 63.59,383.03 63.86,382.98 64.12,382.93 64.39,382.88 64.66,382.83 64.92,382.79 65.19,382.75 65.46,382.71 65.73,382.68 65.99,382.65 66.26,382.62 66.53,382.6 66.79,382.58 67.06,382.57 67.33,382.55 67.6,382.54 67.86,382.54 68.13,382.53 68.4,382.54 68.66,382.54 68.93,382.55 69.2,382.56 69.47,382.57 69.73,382.59 70,382.61 70.27,382.63 70.53,382.66 70.8,382.69 71.07,382.72 71.34,382.75 71.6,382.79 71.87,382.82 72.14,382.86 72.4,382.91 72.67,382.95 72.94,382.99 73.2,383.04 73.47,383.09 73.74,383.14 74.01,383.19 74.27,383.24 74.54,383.29 74.81,383.34 75.07,383.39 75.34,383.44 75.61,383.49 75.88,383.55 76.14,383.6 76.41,383.65 76.68,383.7 76.94,383.74 77.21,383.79 77.48,383.84 77.75,383.88 78.01,383.93 78.28,383.97 78.55,384.01 78.81,384.05 79.08,384.08 79.35,384.12 79.62,384.15 79.88,384.18 80.15,384.21 80.42,384.24 80.68,384.26 80.95,384.28 81.22,384.3 81.49,384.32 81.75,384.34 82.02,384.35 82.29,384.36 82.55,384.36 82.82,384.37 83.09,384.37 83.36,384.37 83.62,384.37 83.89,384.37 84.16,384.36 84.42,384.35 84.69,384.34 84.96,384.33 85.22,384.31 85.49,384.29 85.76,384.27 86.03,384.25 86.29,384.23 86.56,384.21 86.83,384.18 87.09,384.15 87.36,384.12 87.63,384.09 87.9,384.06 88.16,384.03 88.43,384 88.7,383.96 88.96,383.93 89.23,383.9 89.5,383.86 89.77,383.82 90.03,383.79 90.3,383.75 90.57,383.71 90.83,383.68 91.1,383.64 91.37,383.61 91.64,383.57 91.9,383.53 92.17,383.5 92.44,383.47 92.7,383.43 92.97,383.4 93.24,383.37 93.51,383.34 93.77,383.31 94.04,383.29 94.31,383.26 94.57,383.24 94.84,383.21 95.11,383.19 95.37,383.17 95.64,383.16 95.91,383.14 96.18,383.13 96.44,383.11 96.71,383.11 96.98,383.1 97.24,383.09 97.51,383.09 97.78,383.09 98.05,383.09 98.31,383.09 98.58,383.1 98.85,383.1 99.11,383.11 99.38,383.13 99.65,383.14 99.92,383.16 100.18,383.18 100.45,383.2 100.72,383.22 100.98,383.25 101.25,383.27 101.52,383.3 101.79,383.33 102.05,383.37 102.32,383.4 102.59,383.44 102.85,383.48 103.12,383.52 103.39,383.56 103.66,383.6 103.92,383.65 104.19,383.7 104.46,383.75 104.72,383.8 104.99,383.85 105.26,383.9 105.52,383.95 105.79,384.01 106.06,384.06 106.33,384.12 106.59,384.18 106.86,384.23 107.13,384.29 107.39,384.35 107.66,384.41 107.93,384.47 108.2,384.53 108.46,384.59 108.73,384.65 109,384.71 109.26,384.77 109.53,384.83 109.8,384.89 110.07,384.95 110.33,385.01 110.6,385.07 110.87,385.13 111.13,385.19 111.4,385.25 111.67,385.3 111.94,385.36 112.2,385.42 112.47,385.47 112.74,385.53 113,385.58 113.27,385.64 113.54,385.69 113.81,385.74 114.07,385.79 114.34,385.84 114.61,385.89 114.87,385.94 115.14,385.98 115.41,386.03 115.68,386.07 115.94,386.12 116.21,386.16 116.48,386.2 116.74,386.24 117.01,386.28 117.28,386.32 117.54,386.36 117.81,386.4 118.08,386.43 118.35,386.47 118.61,386.5 118.88,386.53 119.15,386.56 119.41,386.59 119.68,386.62 119.95,386.65 120.22,386.68 120.48,386.71 120.75,386.73 121.02,386.76 121.28,386.78 121.55,386.81 121.82,386.83 122.09,386.85 122.35,386.87 122.62,386.89 122.89,386.91 123.15,386.93 123.42,386.95 123.69,386.97 123.96,386.98 124.22,387 124.49,387.01 124.76,387.03 125.02,387.04 125.29,387.06 125.56,387.07 125.83,387.08 126.09,387.09 126.36,387.11 126.63,387.12 126.89,387.13 127.16,387.14 127.43,387.15 127.69,387.16 127.96,387.17 128.23,387.18 128.5,387.19 128.76,387.2 129.03,387.2 129.3,387.21 129.56,387.22 129.83,387.23 130.1,387.23 130.37,387.24 130.63,387.25 130.9,387.25 131.17,387.26 131.43,387.26 131.7,387.27 131.97,387.28 132.24,387.28 132.5,387.29 132.77,387.29 133.04,387.3 133.3,387.3 133.57,387.3 133.84,387.31 134.11,387.31 134.37,387.32 134.64,387.32 134.91,387.33 135.17,387.33 135.44,387.33 135.71,387.34 135.98,387.34 136.24,387.34 136.51,387.35 136.78,387.35 137.04,387.35 137.31,387.36 137.58,387.36 137.84,387.36 138.11,387.37 138.38,387.37 138.65,387.37 138.91,387.37 139.18,387.38 139.45,387.38 139.71,387.38 139.98,387.38 140.25,387.39 140.52,387.39 140.78,387.39 141.05,387.39 141.32,387.39 141.58,387.4 141.85,387.4 142.12,387.4 142.39,387.4 142.65,387.4 142.92,387.41 143.19,387.41 143.45,387.41 143.72,387.41 143.99,387.41 144.26,387.41 144.52,387.42 144.79,387.42 145.06,387.42 145.32,387.42 145.59,387.42 145.86,387.42 146.13,387.42 146.39,387.43 146.66,387.43 146.93,387.43 147.19,387.43 147.46,387.43 147.73,387.43 148,387.43 148.26,387.43 148.53,387.43 148.8,387.44 149.06,387.44 149.33,387.44 149.6,387.44 149.86,387.44 150.13,387.44 150.4,387.44 150.67,387.44 150.93,387.44 151.2,387.44 151.47,387.44 151.73,387.44 152,387.45 152.27,387.45 152.54,387.45 152.8,387.45 153.07,387.45 153.34,387.45 153.6,387.45 153.87,387.45 154.14,387.45 154.41,387.45 154.67,387.45 154.94,387.45 155.21,387.45 155.47,387.45 155.74,387.45 156.01,387.45 156.28,387.45 156.54,387.45 156.81,387.45 157.08,387.45 157.34,387.45 157.61,387.45 157.88,387.45 158.15,387.45 158.41,387.45 158.68,387.45 158.95,387.45 159.21,387.45 159.48,387.45 159.75,387.45 160.01,387.45 160.28,387.45 160.55,387.45 160.82,387.45 161.08,387.45 161.35,387.45 161.62,387.45 161.88,387.45 162.15,387.45 162.42,387.45 162.69,387.45 162.95,387.44 163.22,387.44 163.49,387.44 163.75,387.44 164.02,387.44 164.29,387.44 164.56,387.44 164.82,387.44 165.09,387.44 165.36,387.44 165.62,387.44 165.89,387.43 166.16,387.43 166.43,387.43 166.69,387.43 166.96,387.43 167.23,387.43 167.49,387.43 167.76,387.42 168.03,387.42 168.3,387.42 168.56,387.42 168.83,387.42 169.1,387.41 169.36,387.41 169.63,387.41 169.9,387.41 170.16,387.4 170.43,387.4 170.7,387.4 170.97,387.39 171.23,387.39 171.5,387.39 171.77,387.38 172.03,387.38 172.3,387.37 172.57,387.37 172.84,387.36 173.1,387.36 173.37,387.35 173.64,387.35 173.9,387.34 174.17,387.33 174.44,387.33 174.71,387.32 174.97,387.31 175.24,387.3 175.51,387.29 175.77,387.28 176.04,387.27 176.31,387.26 176.58,387.25 176.84,387.24 177.11,387.22 177.38,387.21 177.64,387.19 177.91,387.17 178.18,387.15 178.45,387.13 178.71,387.1 178.98,387.08 179.25,387.04 179.51,387.01 179.78,386.97 180.05,386.93 180.31,386.89 180.58,386.83 180.85,386.77 181.12,386.7 181.38,386.63 181.65,386.54 181.92,386.43 182.18,386.31 182.45,386.17 182.72,385.99 182.99,385.79 183.25,385.54 183.52,385.23 183.79,384.84 184.05,384.35 184.32,383.72 184.59,382.88 184.86,381.75 185.12,380.19 185.39,378.03 185.66,375.06 185.92,371.26 186.19,367.23 186.46,364.74 186.73,365.51 186.99,368.96 187.26,373.04 187.53,376.49 187.79,379.08 188.06,380.94 188.33,382.29 188.6,383.28 188.86,384.02 189.13,384.59 189.4,385.03 189.66,385.38 189.93,385.66 190.2,385.89 190.47,386.08 190.73,386.23 191,386.37 191.27,386.48 191.53,386.58 191.8,386.66 192.07,386.74 192.33,386.8 192.6,386.86 192.87,386.91 193.14,386.95 193.4,386.99 193.67,387.03 193.94,387.06 194.2,387.09 194.47,387.11 194.74,387.14 195.01,387.16 195.27,387.18 195.54,387.2 195.81,387.21 196.07,387.23 196.34,387.24 196.61,387.26 196.88,387.27 197.14,387.28 197.41,387.29 197.68,387.3 197.94,387.31 198.21,387.32 198.48,387.33 198.75,387.33 199.01,387.34 199.28,387.35 199.55,387.35 199.81,387.36 200.08,387.36 200.35,387.37 200.62,387.37 200.88,387.38 201.15,387.38 201.42,387.39 201.68,387.39 201.95,387.39 202.22,387.4 202.48,387.4 202.75,387.4 203.02,387.41 203.29,387.41" fill="none" stroke="#41a3dd" stroke-width="1.0" stroke-linejoin="round"/>
<rect x="17.2" y="257.4" width="186.2" height="137.9" fill="none" stroke="#333" stroke-width="1.1"/>
<line x1="27.5" y1="395.3" x2="27.5" y2="392.3" stroke="#333" stroke-width="0.9"/>
<line x1="69.05" y1="395.3" x2="69.05" y2="392.3" stroke="#333" stroke-width="0.9"/>
<line x1="110.6" y1="395.3" x2="110.6" y2="392.3" stroke="#333" stroke-width="0.9"/>
<line x1="152.15" y1="395.3" x2="152.15" y2="392.3" stroke="#333" stroke-width="0.9"/>
<line x1="193.7" y1="395.3" x2="193.7" y2="392.3" stroke="#333" stroke-width="0.9"/>
<line x1="48.28" y1="395.3" x2="48.28" y2="393.6" stroke="#333" stroke-width="0.9"/>
<line x1="89.82" y1="395.3" x2="89.82" y2="393.6" stroke="#333" stroke-width="0.9"/>
<line x1="131.38" y1="395.3" x2="131.38" y2="393.6" stroke="#333" stroke-width="0.9"/>
<line x1="172.93" y1="395.3" x2="172.93" y2="393.6" stroke="#333" stroke-width="0.9"/>
<text transform="translate(33.9,406) rotate(-45)" font-size="10.6" text-anchor="end" fill="#1a1a1a">9.4</text>
<text transform="translate(75.45,406) rotate(-45)" font-size="10.6" text-anchor="end" fill="#1a1a1a">9.0</text>
<text transform="translate(117,406) rotate(-45)" font-size="10.6" text-anchor="end" fill="#1a1a1a">8.6</text>
<text transform="translate(158.55,406) rotate(-45)" font-size="10.6" text-anchor="end" fill="#1a1a1a">8.2</text>
<text transform="translate(200.1,406) rotate(-45)" font-size="10.6" text-anchor="end" fill="#1a1a1a">7.8</text>
<rect x="29.5" y="264.6" width="65" height="70.8" fill="#fff" stroke="#333" stroke-width="0.9"/>
<polyline points="29.82,303.08 30.15,302.92 30.49,302.75 30.82,302.58 31.15,302.4 31.48,302.22 31.82,302.03 32.15,301.84 32.48,301.64 32.82,301.43 33.15,301.22 33.48,301 33.81,300.77 34.15,300.54 34.48,300.3 34.81,300.05 35.15,299.8 35.48,299.54 35.81,299.28 36.14,299.01 36.48,298.73 36.81,298.44 37.14,298.15 37.47,297.85 37.81,297.55 38.14,297.24 38.47,296.92 38.81,296.6 39.14,296.27 39.47,295.93 39.8,295.59 40.14,295.24 40.47,294.89 40.8,294.53 41.14,294.17 41.47,293.8 41.8,293.43 42.13,293.05 42.47,292.67 42.8,292.28 43.13,291.89 43.46,291.5 43.8,291.1 44.13,290.7 44.46,290.3 44.8,289.89 45.13,289.48 45.46,289.07 45.79,288.66 46.13,288.25 46.46,287.84 46.79,287.42 47.13,287.01 47.46,286.6 47.79,286.18 48.12,285.77 48.46,285.36 48.79,284.96 49.12,284.55 49.45,284.15 49.79,283.75 50.12,283.36 50.45,282.97 50.79,282.58 51.12,282.2 51.45,281.83 51.78,281.46 52.12,281.1 52.45,280.74 52.78,280.39 53.12,280.05 53.45,279.72 53.78,279.4 54.11,279.08 54.45,278.78 54.78,278.48 55.11,278.2 55.44,277.92 55.78,277.66 56.11,277.41 56.44,277.17 56.78,276.94 57.11,276.72 57.44,276.52 57.77,276.33 58.11,276.15 58.44,275.98 58.77,275.83 59.11,275.69 59.44,275.57 59.77,275.46 60.1,275.37 60.44,275.28 60.77,275.22 61.1,275.17 61.43,275.13 61.77,275.11 62.1,275.1 62.43,275.11 62.77,275.13 63.1,275.17 63.43,275.22 63.76,275.28 64.1,275.37 64.43,275.46 64.76,275.57 65.09,275.69 65.43,275.83 65.76,275.98 66.09,276.15 66.43,276.33 66.76,276.52 67.09,276.72 67.42,276.94 67.76,277.17 68.09,277.41 68.42,277.66 68.76,277.92 69.09,278.2 69.42,278.48 69.75,278.78 70.09,279.08 70.42,279.4 70.75,279.72 71.08,280.05 71.42,280.39 71.75,280.74 72.08,281.1 72.42,281.46 72.75,281.83 73.08,282.2 73.41,282.58 73.75,282.97 74.08,283.36 74.41,283.75 74.75,284.15 75.08,284.55 75.41,284.96 75.74,285.36 76.08,285.77 76.41,286.18 76.74,286.6 77.07,287.01 77.41,287.42 77.74,287.84 78.07,288.25 78.41,288.66 78.74,289.07 79.07,289.48 79.4,289.89 79.74,290.3 80.07,290.7 80.4,291.1 80.74,291.5 81.07,291.89 81.4,292.28 81.73,292.67 82.07,293.05 82.4,293.43 82.73,293.8 83.06,294.17 83.4,294.53 83.73,294.89 84.06,295.24 84.4,295.59 84.73,295.93 85.06,296.27 85.39,296.6 85.73,296.92 86.06,297.24 86.39,297.55 86.73,297.85 87.06,298.15 87.39,298.44 87.72,298.73 88.06,299.01 88.39,299.28 88.72,299.54 89.05,299.8 89.39,300.05 89.72,300.3 90.05,300.54 90.39,300.77 90.72,301 91.05,301.22 91.38,301.43 91.72,301.64 92.05,301.84 92.38,302.03 92.72,302.22 93.05,302.4 93.38,302.58 93.71,302.75 94.05,302.92" fill="none" stroke="#6e6e6e" stroke-width="0.8" stroke-linejoin="round"/>
<polyline points="29.82,325.47 30.15,325.41 30.49,325.35 30.82,325.29 31.15,325.22 31.48,325.15 31.82,325.07 32.15,324.98 32.48,324.89 32.82,324.78 33.15,324.67 33.48,324.54 33.81,324.4 34.15,324.25 34.48,324.09 34.81,323.9 35.15,323.71 35.48,323.49 35.81,323.25 36.14,322.99 36.48,322.71 36.81,322.4 37.14,322.07 37.47,321.72 37.81,321.33 38.14,320.92 38.47,320.48 38.81,320.02 39.14,319.53 39.47,319 39.8,318.46 40.14,317.89 40.47,317.29 40.8,316.68 41.14,316.04 41.47,315.39 41.8,314.73 42.13,314.06 42.47,313.38 42.8,312.7 43.13,312.03 43.46,311.36 43.8,310.71 44.13,310.08 44.46,309.47 44.8,308.88 45.13,308.34 45.46,307.83 45.79,307.36 46.13,306.94 46.46,306.57 46.79,306.25 47.13,305.99 47.46,305.79 47.79,305.65 48.12,305.56 48.46,305.54 48.79,305.58 49.12,305.67 49.45,305.82 49.79,306.02 50.12,306.28 50.45,306.58 50.79,306.92 51.12,307.29 51.45,307.7 51.78,308.14 52.12,308.59 52.45,309.06 52.78,309.54 53.12,310.02 53.45,310.49 53.78,310.96 54.11,311.42 54.45,311.85 54.78,312.26 55.11,312.64 55.44,312.99 55.78,313.3 56.11,313.58 56.44,313.81 56.78,314 57.11,314.15 57.44,314.25 57.77,314.31 58.11,314.32 58.44,314.28 58.77,314.2 59.11,314.08 59.44,313.92 59.77,313.73 60.1,313.5 60.44,313.24 60.77,312.95 61.1,312.64 61.43,312.31 61.77,311.96 62.1,311.61 62.43,311.25 62.77,310.89 63.1,310.54 63.43,310.19 63.76,309.86 64.1,309.54 64.43,309.25 64.76,308.99 65.09,308.75 65.43,308.55 65.76,308.38 66.09,308.25 66.43,308.17 66.76,308.13 67.09,308.13 67.42,308.18 67.76,308.27 68.09,308.41 68.42,308.59 68.76,308.81 69.09,309.08 69.42,309.39 69.75,309.74 70.09,310.12 70.42,310.53 70.75,310.97 71.08,311.44 71.42,311.93 71.75,312.44 72.08,312.97 72.42,313.5 72.75,314.05 73.08,314.6 73.41,315.15 73.75,315.7 74.08,316.24 74.41,316.78 74.75,317.3 75.08,317.82 75.41,318.32 75.74,318.8 76.08,319.26 76.41,319.71 76.74,320.14 77.07,320.55 77.41,320.93 77.74,321.3 78.07,321.64 78.41,321.97 78.74,322.27 79.07,322.55 79.4,322.82 79.74,323.07 80.07,323.29 80.4,323.51 80.74,323.7 81.07,323.88 81.4,324.05 81.73,324.2 82.07,324.35 82.4,324.48 82.73,324.6 83.06,324.71 83.4,324.81 83.73,324.9 84.06,324.99 84.4,325.07 84.73,325.15 85.06,325.22 85.39,325.28 85.73,325.34 86.06,325.4 86.39,325.45 86.73,325.5 87.06,325.55 87.39,325.59 87.72,325.63 88.06,325.67 88.39,325.71 88.72,325.75 89.05,325.78 89.39,325.82 89.72,325.85 90.05,325.88 90.39,325.91 90.72,325.94 91.05,325.97 91.38,325.99 91.72,326.02 92.05,326.04 92.38,326.07 92.72,326.09 93.05,326.11 93.38,326.13 93.71,326.15 94.05,326.17" fill="none" stroke="#41a3dd" stroke-width="0.9" stroke-linejoin="round"/>
<line x1="36" y1="335.4" x2="36" y2="333.6" stroke="#333" stroke-width="0.7"/>
<text x="36" y="341.8" font-size="7.2" text-anchor="middle" fill="#1a1a1a">9.2</text>
<line x1="49.05" y1="335.4" x2="49.05" y2="333.6" stroke="#333" stroke-width="0.7"/>
<text x="49.05" y="341.8" font-size="7.2" text-anchor="middle" fill="#1a1a1a">9.0</text>
<line x1="62.1" y1="335.4" x2="62.1" y2="333.6" stroke="#333" stroke-width="0.7"/>
<text x="62.1" y="341.8" font-size="7.2" text-anchor="middle" fill="#1a1a1a">8.8</text>
<line x1="75.15" y1="335.4" x2="75.15" y2="333.6" stroke="#333" stroke-width="0.7"/>
<text x="75.15" y="341.8" font-size="7.2" text-anchor="middle" fill="#1a1a1a">8.6</text>
<line x1="88.2" y1="335.4" x2="88.2" y2="333.6" stroke="#333" stroke-width="0.7"/>
<text x="88.2" y="341.8" font-size="7.2" text-anchor="middle" fill="#1a1a1a">8.4</text>
<line x1="42.52" y1="335.4" x2="42.52" y2="334.4" stroke="#333" stroke-width="0.6"/>
<line x1="55.57" y1="335.4" x2="55.57" y2="334.4" stroke="#333" stroke-width="0.6"/>
<line x1="68.62" y1="335.4" x2="68.62" y2="334.4" stroke="#333" stroke-width="0.6"/>
<line x1="81.67" y1="335.4" x2="81.67" y2="334.4" stroke="#333" stroke-width="0.6"/>
<line x1="111.5" y1="265.1" x2="128.8" y2="265.1" stroke="#a0a0a0" stroke-width="1.4"/>
<line x1="111.5" y1="274.5" x2="128.8" y2="274.5" stroke="#41a3dd" stroke-width="1.1"/>
<text x="132.6" y="267.8" font-size="7.8" fill="#1a1a1a">FABr</text>
<text x="132.6" y="277.2" font-size="7.8" fill="#1a1a1a">FABr + TBAOTf</text>
<text transform="translate(9.3,326) rotate(-90)" font-size="10.9" text-anchor="middle" fill="#1a1a1a">Intensity (a.u.)</text>
<text x="54" y="436" font-size="10.9" fill="#1a1a1a"><tspan font-size="7" dy="-4">1</tspan><tspan dy="4">H chemical shift (ppm)</tspan></text>
<text x="0.5" y="259.9" font-size="15" font-weight="bold" fill="#000">b</text>
<polyline points="257.2,268.74 258.21,268.69 259.66,268.67 261.33,268.59 263,268.52 264.64,268.46 266.36,268.47 268.15,268.29 270,268.06 271.98,268.1 274.06,267.89 276.12,267.03 278,267.22 279.64,267.5 281.12,267.83 282.55,268.23 284,268.29 285.52,268.27 287.06,268.54 288.57,268.96 290,269.11 291.34,268.82 292.62,268.82 293.84,269.27 295,269.93 296.07,270.64 297.06,271.4 298.02,272.26 299,273.22 300.01,274.35 301.03,275.57 302.04,276.79 303,278.06 303.92,279.49 304.82,281.05 305.68,282.58 306.5,283.86 307.29,285.19 308.04,286.67 308.75,287.95 309.4,288.52 309.96,288.04 310.44,286.78 310.93,285.18 311.5,283.69 312.17,282.31 312.91,280.87 313.69,279.48 314.5,278.26 315.36,277.23 316.28,276.51 317.18,275.96 318,275.46 318.71,275.05 319.34,274.81 319.93,274.74 320.5,274.81 321.02,275.2 321.5,275.85 321.98,276.35 322.5,276.35 323.05,275.69 323.62,274.64 324.26,273.52 325,272.69 325.87,272.22 326.84,271.83 327.89,271.31 329,270.53 330.16,269.78 331.38,269.45 332.66,269.52 334,269.63 335.45,269.41 337,269.22 338.55,269.39 340,269.66 341.35,270.4 342.64,271.66 343.86,272.58 345,272.91 346.04,273.1 346.98,273.48 347.88,273.81 348.75,273.88 349.56,273.57 350.3,272.99 351.08,272.49 352,272.26 353.08,272.07 354.27,271.63 355.57,271.2 357,270.85 358.59,270.24 360.31,270.08 362.13,270.61 364,270.56 366.04,270.3 368.22,270.52 370.29,270.59 372,270.5 373.2,271.02 374.06,271.85 374.76,272.66 375.5,273.28 376.3,273.69 377.06,274.03 377.81,274.28 378.6,274.41 379.37,274.4 380.12,274.29 380.96,274.15 382,274.01 383.38,273.82 384.99,273.6 386.61,273.21 388,272.81 389.09,272.82 390.02,272.93 390.81,273.13 391.5,273.45 392.06,273.81 392.48,274.22 392.83,274.82 393.2,275.74 393.58,277.35 393.95,279.49 394.32,281.42 394.7,282.43 395.11,282.03 395.54,280.69 395.98,279.14 396.4,278.12 396.8,277.86 397.2,277.96 397.6,278.21 398,278.41 398.4,278.58 398.81,278.8 399.23,278.96 399.7,278.96 400.17,278.75 400.64,278.39 401.22,277.96 402,277.56 403.04,277.23 404.27,276.85 405.62,276.44 407,276.08 408.45,275.4 410,274.33 411.55,273.68 413,273.52 414.32,273.08 415.56,272.3 416.77,271.55 418,271.02 419.2,270.55 420.38,270.15 421.61,270 423,270.1 424.63,269.96 426.44,269.69 428.27,269.65 430,269.6 431.56,269.72 433.04,269.86 434.5,270.01 436,270.21 437.72,270.04 439.57,269.68 441.24,270.28 442.4,270.78" fill="none" stroke="#6e6e6e" stroke-width="1.0" stroke-linejoin="round"/>
<polyline points="257.2,283.92 257.61,284.13 258.19,284.41 258.86,284.81 259.5,285.35 260.11,286.08 260.72,286.97 261.36,287.86 262,288.67 262.67,289.58 263.36,290.62 264.05,291.5 264.7,291.82 265.29,291.33 265.83,290.3 266.39,289.12 267,288.23 267.68,287.65 268.39,287.16 269.16,286.75 270,286.45 270.88,286.4 271.81,286.61 272.84,286.81 274,286.75 275.36,286.55 276.88,286.45 278.45,286.62 280,286.67 281.52,286.39 283.06,286.24 284.57,286.52 286,286.8 287.34,286.74 288.62,286.65 289.84,286.93 291,287.6 292.09,288.29 293.12,288.85 294.09,289.49 295,290.26 295.82,291.2 296.56,292.21 297.27,293.29 298,294.46 298.75,295.79 299.5,297.3 300.25,298.89 301,300.51 301.76,302.14 302.53,303.8 303.29,305.5 304,307.15 304.68,308.75 305.33,310.29 305.94,311.71 306.5,313.01 306.99,314.27 307.43,315.51 307.83,316.67 308.2,317.67 308.53,318.56 308.82,319.35 309.1,319.89 309.4,320.05 309.72,319.74 310.04,319.04 310.39,318.08 310.8,317 311.29,315.73 311.83,314.2 312.41,312.63 313,311.17 313.6,309.8 314.23,308.44 314.87,307.09 315.5,305.76 316.14,304.44 316.78,303.17 317.41,302.07 318,301.24 318.53,300.65 319.02,300.25 319.5,300.12 320,300.35 320.53,301.24 321.08,302.61 321.64,303.79 322.2,304.2 322.75,303.57 323.3,302.26 323.87,300.68 324.5,299.2 325.19,297.86 325.93,296.48 326.7,295.13 327.5,293.88 328.34,292.63 329.21,291.33 330.1,290.16 331,289.32 331.92,288.7 332.86,288.24 333.8,287.96 334.7,287.95 335.55,288.22 336.36,288.62 337.17,288.98 338,289.33 338.86,289.78 339.74,290.35 340.62,291.02 341.5,291.73 342.37,292.57 343.23,293.63 344.11,294.8 345,295.78 345.94,296.74 346.92,297.82 347.88,298.79 348.75,299.33 349.51,299.28 350.2,298.78 350.85,298.1 351.5,297.39 352.12,296.53 352.7,295.43 353.31,294.23 354,293.09 354.71,292.02 355.44,290.99 356.32,290.14 357.5,289.77 359.11,289.96 361.03,289.76 363.07,289.55 365,289.27 366.87,289.26 368.75,289.67 370.51,289.67 372,289.66 373.13,290.07 373.99,290.77 374.74,291.45 375.5,291.97 376.3,292.33 377.06,292.66 377.81,292.9 378.6,292.95 379.37,292.71 380.12,292.18 380.96,291.54 382,291.02 383.39,290.71 385.02,290.44 386.65,290.16 388,290.02 388.99,289.96 389.76,290.01 390.4,290.19 391,290.53 391.55,290.88 392.01,291.28 392.42,292.03 392.8,293.4 393.15,295.68 393.47,298.65 393.75,301.77 394,304.49 394.21,306.98 394.37,309.41 394.52,311.31 394.7,312.22 394.91,311.73 395.13,310.15 395.36,308.14 395.6,306.36 395.82,304.8 396.04,303.18 396.28,301.73 396.6,300.71 397.01,300.28 397.49,300.33 398,300.66 398.5,301.01 398.98,301.32 399.46,301.7 399.96,302.01 400.5,302.1 401.03,301.93 401.56,301.56 402.19,301.07 403,300.5 404.05,299.75 405.28,298.66 406.62,297.37 408,296.3 409.43,295.54 410.94,294.75 412.48,293.6 414,292.55 415.5,292.22 417,292.02 418.5,291.29 420,290.54 421.49,289.99 422.97,289.37 424.46,289.16 426,289.29 427.64,289.05 429.34,288.52 431,288.24 432.5,287.98 433.74,287.86 434.82,287.91 435.86,287.98 437,287.95 438.41,287.74 439.98,287.69 441.41,287.8 442.4,287.88" fill="none" stroke="#41a3dd" stroke-width="1.0" stroke-linejoin="round"/>
<polyline points="257.2,318.56 257.71,318.63 258.44,318.7 259.26,318.79 260,318.92 260.65,319.14 261.27,319.47 261.88,319.88 262.5,320.32 263.12,320.8 263.75,321.26 264.38,321.52 265,321.51 265.6,321.18 266.19,320.68 266.8,320.19 267.5,319.89 268.25,319.76 269.03,319.67 269.93,319.53 271,319.3 272.3,319.06 273.78,318.91 275.37,318.63 277,318.56 278.7,318.89 280.5,318.87 282.3,318.5 284,318.63 285.59,318.95 287.12,318.92 288.59,318.75 290,318.83 291.36,318.97 292.66,319.11 293.88,319.45 295,319.88 295.99,320.26 296.88,320.78 297.7,321.43 298.5,322.15 299.3,322.86 300.06,323.51 300.8,324.24 301.5,325.14 302.17,326.28 302.8,327.58 303.41,329.04 304,330.66 304.58,332.51 305.14,334.54 305.69,336.66 306.2,338.8 306.69,340.96 307.15,343.18 307.59,345.28 308,347.12 308.38,348.86 308.72,350.53 309.06,351.77 309.4,352.22 309.74,351.62 310.07,350.2 310.42,348.35 310.8,346.44 311.21,344.42 311.65,342.12 312.11,339.71 312.6,337.4 313.12,335.15 313.68,332.92 314.24,330.85 314.8,329.08 315.34,327.63 315.88,326.38 316.43,325.31 317,324.43 317.62,323.73 318.28,323.24 318.92,323.07 319.5,323.18 320,323.55 320.45,324.15 320.87,324.85 321.3,325.52 321.73,326.26 322.15,327.09 322.57,327.74 323,327.92 323.43,327.49 323.87,326.67 324.32,325.76 324.8,325.04 325.3,324.52 325.83,324.06 326.38,323.65 327,323.31 327.67,322.95 328.39,322.48 329.16,321.96 330,321.47 330.93,321.15 331.95,320.93 332.99,320.74 334,320.61 334.98,320.54 335.95,320.51 336.9,320.52 337.8,320.6 338.65,320.76 339.45,320.95 340.23,321.18 341,321.54 341.78,322.12 342.54,322.82 343.29,323.57 344,324.32 344.65,325.17 345.25,326.16 345.85,327.19 346.5,328.17 347.23,329.31 348,330.63 348.77,331.69 349.5,332.06 350.15,331.4 350.75,330.04 351.35,328.46 352,327.13 352.67,326.12 353.34,325.18 354.1,324.3 355,323.48 355.99,322.82 357.06,322.42 358.35,322.22 360,322.03 362.1,321.46 364.56,321.37 367.24,321.45 370,321.66 372.95,322.07 376.12,321.8 379.23,321.7 382,321.99 384.4,321.86 386.57,321.74 388.46,321.65 390,322.05 391.1,322.47 391.83,322.73 392.33,323.12 392.8,323.79 393.22,324.9 393.53,326.36 393.77,327.9 394,329.24 394.21,330.46 394.37,331.67 394.52,332.61 394.7,333.02 394.9,332.67 395.11,331.75 395.34,330.62 395.6,329.64 395.88,328.86 396.17,328.09 396.53,327.4 397,326.83 397.59,326.51 398.27,326.44 399.07,326.51 400,326.57 401.06,326.46 402.25,326.19 403.56,325.86 405,325.56 406.61,325.48 408.38,325.18 410.2,324.67 412,324.1 413.75,323.35 415.5,323.24 417.25,323.22 419,322.27 420.73,321.53 422.44,321.41 424.18,321.25 426,321.32 427.92,321.1 429.91,320.61 431.95,320.87 434,320.91 436.27,320.45 438.7,320.95 440.88,321.06 442.4,321.09" fill="none" stroke="#6a66d2" stroke-width="1.0" stroke-linejoin="round"/>
<line x1="309.4" y1="276.6" x2="309.4" y2="356.3" stroke="#111" stroke-width="0.9" stroke-dasharray="3.2,2.2"/>
<line x1="349.4" y1="271" x2="349.4" y2="336.5" stroke="#111" stroke-width="0.9" stroke-dasharray="3.2,2.2"/>
<line x1="394.7" y1="273.4" x2="394.7" y2="338.3" stroke="#111" stroke-width="0.9" stroke-dasharray="3.2,2.2"/>
<rect x="257.2" y="257" width="185.4" height="137.3" fill="none" stroke="#333" stroke-width="1.1"/>
<line x1="257.2" y1="394.3" x2="257.2" y2="391.3" stroke="#333" stroke-width="0.9"/>
<line x1="294.28" y1="394.3" x2="294.28" y2="391.3" stroke="#333" stroke-width="0.9"/>
<line x1="331.36" y1="394.3" x2="331.36" y2="391.3" stroke="#333" stroke-width="0.9"/>
<line x1="368.44" y1="394.3" x2="368.44" y2="391.3" stroke="#333" stroke-width="0.9"/>
<line x1="405.52" y1="394.3" x2="405.52" y2="391.3" stroke="#333" stroke-width="0.9"/>
<line x1="442.6" y1="394.3" x2="442.6" y2="391.3" stroke="#333" stroke-width="0.9"/>
<line x1="275.74" y1="394.3" x2="275.74" y2="392.6" stroke="#333" stroke-width="0.9"/>
<line x1="312.82" y1="394.3" x2="312.82" y2="392.6" stroke="#333" stroke-width="0.9"/>
<line x1="349.9" y1="394.3" x2="349.9" y2="392.6" stroke="#333" stroke-width="0.9"/>
<line x1="386.98" y1="394.3" x2="386.98" y2="392.6" stroke="#333" stroke-width="0.9"/>
<line x1="424.06" y1="394.3" x2="424.06" y2="392.6" stroke="#333" stroke-width="0.9"/>
<text transform="translate(263.5,403.9) rotate(-45)" font-size="10.6" text-anchor="end" fill="#1a1a1a">1400</text>
<text transform="translate(300.58,403.9) rotate(-45)" font-size="10.6" text-anchor="end" fill="#1a1a1a">1300</text>
<text transform="translate(337.66,403.9) rotate(-45)" font-size="10.6" text-anchor="end" fill="#1a1a1a">1200</text>
<text transform="translate(374.74,403.9) rotate(-45)" font-size="10.6" text-anchor="end" fill="#1a1a1a">1100</text>
<text transform="translate(411.82,403.9) rotate(-45)" font-size="10.6" text-anchor="end" fill="#1a1a1a">1000</text>
<text transform="translate(448.9,403.9) rotate(-45)" font-size="10.6" text-anchor="end" fill="#1a1a1a">900</text>
<line x1="297.4" y1="363.6" x2="306.6" y2="356.3" stroke="#111" stroke-width="0.8"/>
<polygon points="306.6,356.3 305.03,359.46 303.16,357.11" fill="#111"/>
<line x1="338" y1="343.9" x2="347.5" y2="336.6" stroke="#111" stroke-width="0.8"/>
<polygon points="347.5,336.6 345.88,339.74 344.05,337.36" fill="#111"/>
<line x1="406.7" y1="342" x2="397.3" y2="336.7" stroke="#111" stroke-width="0.8"/>
<polygon points="397.3,336.7 400.82,336.97 399.35,339.58" fill="#111"/>
<text x="273.4" y="369.2" font-size="8.2" font-style="italic" fill="#1a1a1a">v<tspan font-size="5.6" dy="1.6" font-style="normal">as(S=O)</tspan></text>
<text x="326.8" y="348.6" font-size="8.2" font-style="italic" fill="#1a1a1a">v<tspan font-size="5.6" dy="1.6" font-style="normal">S-O</tspan></text>
<text x="408.6" y="344.4" font-size="8.2" font-style="italic" fill="#1a1a1a">v<tspan font-size="5.6" dy="1.6" font-style="normal">C-F</tspan></text>
<line x1="360.8" y1="364.1" x2="378.2" y2="364.1" stroke="#6e6e6e" stroke-width="0.85"/>
<text x="382" y="366.8" font-size="7.8" fill="#1a1a1a">TBAOTf</text>
<line x1="360.8" y1="374" x2="378.2" y2="374" stroke="#41a3dd" stroke-width="0.85"/>
<text x="382" y="376.7" font-size="7.8" fill="#1a1a1a">TBAOTf + FABr</text>
<line x1="360.8" y1="383.9" x2="378.2" y2="383.9" stroke="#6a66d2" stroke-width="0.85"/>
<text x="382" y="386.6" font-size="7.8" fill="#1a1a1a">TBAOTf + PbBr<tspan font-size="5" dy="1.5">2</tspan></text>
<text transform="translate(249.6,325.5) rotate(-90)" font-size="10.9" text-anchor="middle" fill="#1a1a1a">Transmittance (a.u.)</text>
<text x="300.6" y="435.2" font-size="10.9" fill="#1a1a1a">Wavenumber (cm<tspan font-size="7.6" dy="-4.4">−1</tspan><tspan dy="4.4">)</tspan></text>
<text x="215.5" y="260.4" font-size="17" font-weight="bold" fill="#000">c</text>
<clipPath id="cdl"><rect x="495.6" y="255.8" width="90.8" height="139.8"/></clipPath>
<clipPath id="cdr"><rect x="593.6" y="255.6" width="89.6" height="140"/></clipPath>
<g clip-path="url(#cdl)">
<polyline points="495.6,268.75 496.43,268.23 497.64,267.5 499,266.8 500.54,266.13 502.23,265.51 503.75,265.2 504.95,265.26 505.99,265.65 507,266.5 508,267.97 508.98,269.9 510,272 511.11,274.22 512.27,276.61 513.4,279 514.46,281.24 515.49,283.48 516.5,286 517.51,288.96 518.5,292.2 519.5,295.5 520.48,298.68 521.46,301.91 522.5,305.5 523.65,309.6 524.85,314.06 526,318.75 527.06,323.69 528.06,328.86 529,334 529.89,339.13 530.72,344.23 531.5,349 532.2,353.4 532.85,357.47 533.5,361 534.17,364.29 534.83,367.04 535.5,368.2 536.17,367.04 536.83,364.29 537.5,361 538.16,357.47 538.81,353.4 539.5,349 540.22,344.23 540.98,339.13 541.8,334 542.73,328.88 543.72,323.73 544.7,318.75 545.65,313.77 546.59,308.95 547.5,305 548.33,302.29 549.12,300.45 550,299 551.08,297.72 552.24,296.84 553.3,296.6 554.15,297.2 554.89,298.44 555.6,300 556.32,302.32 557.02,304.95 557.7,306.25 558.33,305.32 558.94,303.06 559.6,300.5 560.34,297.87 561.14,294.94 562,292 562.96,289.08 563.98,286.16 565,283.5 565.96,281.21 566.93,279.18 568,277.3 569.2,275.56 570.52,273.97 572,272.5 573.81,271.01 575.8,269.64 577.5,268.75 578.69,268.7 579.59,269.13 580.5,269.3 581.5,268.85 582.51,268.14 583.5,267.5 584.58,267.04 585.65,266.66 586.4,266.4" fill="none" stroke="#6e6e6e" stroke-width="1.0" stroke-linejoin="round"/>
<polyline points="495.6,271 496.33,270.99 497.38,271.01 498.5,271.2 499.62,271.61 500.8,272.21 502,273 503.2,273.96 504.41,275.13 505.6,276.6 506.74,278.43 507.87,280.57 509,283 510.18,285.81 511.37,288.9 512.5,292 513.54,294.93 514.53,297.85 515.5,301 516.44,304.5 517.36,308.23 518.3,312 519.28,315.95 520.28,319.94 521.25,323.4 522.19,326.07 523.11,328.21 524,330 524.88,331.45 525.73,332.56 526.5,333.5 527.16,334.07 527.73,334.48 528.3,335.5 528.86,337.46 529.41,340.04 530,343 530.65,346.44 531.34,350.28 532,354 532.62,357.62 533.21,361.13 533.8,364 534.37,366.18 534.94,367.71 535.5,368.2 536.06,367.3 536.63,365.36 537.2,363 537.79,360.28 538.38,357.14 539,354 539.63,351.07 540.29,348.15 541,345 541.78,341.48 542.61,337.74 543.5,334 544.46,330.22 545.48,326.44 546.5,323 547.5,319.96 548.5,317.26 549.5,315 550.52,313.11 551.54,311.67 552.5,311 553.37,311.36 554.19,312.5 555,314 555.84,316.43 556.68,319.23 557.5,320.3 558.27,318.46 559.01,314.88 559.8,311 560.66,307.13 561.56,302.95 562.5,299 563.46,295.39 564.45,292 565.5,289 566.61,286.49 567.78,284.37 569,282.5 570.26,280.85 571.57,279.45 573,278.2 574.63,277.01 576.37,275.98 578,275.3 579.39,275.09 580.67,275.23 582,275.6 583.6,276.33 585.24,277.3 586.4,278" fill="none" stroke="#41a3dd" stroke-width="1.0" stroke-linejoin="round"/>
</g><g clip-path="url(#cdr)">
<polyline points="593.6,268.4 594.44,267.88 595.67,267.15 597,266.5 598.44,265.94 599.99,265.46 601.4,265.3 602.53,265.53 603.52,266.08 604.5,267 605.5,268.35 606.48,270.07 607.5,272 608.58,274.1 609.7,276.4 610.8,278.9 611.88,281.61 612.95,284.5 614,287.5 615,290.56 615.97,293.73 617,297 618.13,300.4 619.31,303.91 620.5,307.5 621.71,311.12 622.92,314.82 624,318.75 624.86,322.95 625.58,327.38 626.3,332 627.07,336.91 627.84,342.01 628.6,347 629.35,351.99 630.09,356.87 630.8,361 631.46,364.44 632.08,367.12 632.7,368.2 633.32,367.12 633.94,364.44 634.6,361 635.32,356.87 636.07,351.99 636.8,347 637.49,342.01 638.16,336.91 638.8,332 639.36,327.38 639.89,322.95 640.5,318.75 641.24,314.73 642.06,310.94 643,307.5 644.07,304.42 645.25,301.71 646.5,299.5 647.88,297.77 649.32,296.56 650.6,296.1 651.59,296.61 652.4,297.87 653.2,299.5 654.03,301.96 654.84,304.8 655.6,306.25 656.27,305.44 656.9,303.23 657.6,300.5 658.41,297.29 659.3,293.55 660.2,290 661.07,286.9 661.97,283.99 663,281.25 664.24,278.58 665.62,276.08 667,274 668.31,272.49 669.62,271.4 671,270.5 672.53,269.69 674.13,269.08 675.6,268.75 676.79,268.94 677.85,269.41 679,269.5 680.5,268.79 682.08,267.7 683.2,266.9" fill="none" stroke="#6e6e6e" stroke-width="1.0" stroke-linejoin="round"/>
<polyline points="593.6,263.75 594.48,263.74 595.73,263.74 597,263.8 598.11,263.94 599.23,264.14 600.5,264.4 602.04,264.73 603.73,265.13 605.3,265.6 606.61,266.14 607.81,266.75 609,267.5 610.24,268.4 611.48,269.43 612.7,270.6 613.91,271.87 615.09,273.29 616.25,275 617.36,277.08 618.45,279.45 619.5,282 620.56,284.64 621.58,287.47 622.5,290.6 623.24,293.99 623.88,297.7 624.5,302 625.14,307.13 625.77,312.86 626.4,318.75 627.04,324.69 627.68,330.81 628.3,337 628.89,343.53 629.46,350.14 630,356 630.49,361.4 630.94,366.04 631.4,368.2 631.88,366.82 632.37,362.96 632.9,358 633.48,352.03 634.11,344.97 634.8,338 635.59,331.31 636.45,324.69 637.3,318.75 638.08,313.72 638.85,309.35 639.7,305.5 640.68,302.3 641.73,299.62 642.8,296.9 643.84,293.83 644.89,290.73 646,288 647.26,285.6 648.58,283.58 649.8,282.5 650.83,282.73 651.77,283.91 652.7,285.5 653.68,287.97 654.66,290.86 655.6,292.2 656.48,290.8 657.33,287.86 658.2,285 659.09,282.73 660.01,280.53 661,278.5 662.1,276.65 663.27,274.96 664.5,273.5 665.8,272.31 667.15,271.33 668.5,270.5 669.78,269.8 671.06,269.24 672.5,268.75 674.23,268.31 676.13,267.93 678,267.6 679.95,267.31 681.86,267.06 683.2,266.9" fill="none" stroke="#6a66d2" stroke-width="1.0" stroke-linejoin="round"/>
</g>
<rect x="495.6" y="255.8" width="90.8" height="139.8" fill="none" stroke="#333" stroke-width="1.1"/>
<rect x="593.6" y="255.6" width="89.6" height="140" fill="none" stroke="#333" stroke-width="1.1"/>
<line x1="502.09" y1="395.6" x2="502.09" y2="392.6" stroke="#333" stroke-width="0.9"/>
<line x1="528.03" y1="395.6" x2="528.03" y2="392.6" stroke="#333" stroke-width="0.9"/>
<line x1="553.97" y1="395.6" x2="553.97" y2="392.6" stroke="#333" stroke-width="0.9"/>
<line x1="579.91" y1="395.6" x2="579.91" y2="392.6" stroke="#333" stroke-width="0.9"/>
<line x1="515.06" y1="395.6" x2="515.06" y2="393.9" stroke="#333" stroke-width="0.9"/>
<line x1="541" y1="395.6" x2="541" y2="393.9" stroke="#333" stroke-width="0.9"/>
<line x1="566.94" y1="395.6" x2="566.94" y2="393.9" stroke="#333" stroke-width="0.9"/>
<text transform="translate(508.39,405.2) rotate(-45)" font-size="10.6" text-anchor="end" fill="#1a1a1a">1310</text>
<text transform="translate(534.33,405.2) rotate(-45)" font-size="10.6" text-anchor="end" fill="#1a1a1a">1270</text>
<text transform="translate(560.27,405.2) rotate(-45)" font-size="10.6" text-anchor="end" fill="#1a1a1a">1230</text>
<text transform="translate(586.21,405.2) rotate(-45)" font-size="10.6" text-anchor="end" fill="#1a1a1a">1190</text>
<line x1="600" y1="395.6" x2="600" y2="392.6" stroke="#333" stroke-width="0.9"/>
<line x1="625.6" y1="395.6" x2="625.6" y2="392.6" stroke="#333" stroke-width="0.9"/>
<line x1="651.2" y1="395.6" x2="651.2" y2="392.6" stroke="#333" stroke-width="0.9"/>
<line x1="676.8" y1="395.6" x2="676.8" y2="392.6" stroke="#333" stroke-width="0.9"/>
<line x1="612.8" y1="395.6" x2="612.8" y2="393.9" stroke="#333" stroke-width="0.9"/>
<line x1="638.4" y1="395.6" x2="638.4" y2="393.9" stroke="#333" stroke-width="0.9"/>
<line x1="664" y1="395.6" x2="664" y2="393.9" stroke="#333" stroke-width="0.9"/>
<text transform="translate(606.3,405.2) rotate(-45)" font-size="10.6" text-anchor="end" fill="#1a1a1a">1310</text>
<text transform="translate(631.9,405.2) rotate(-45)" font-size="10.6" text-anchor="end" fill="#1a1a1a">1270</text>
<text transform="translate(657.5,405.2) rotate(-45)" font-size="10.6" text-anchor="end" fill="#1a1a1a">1230</text>
<text transform="translate(683.1,405.2) rotate(-45)" font-size="10.6" text-anchor="end" fill="#1a1a1a">1190</text>
<line x1="527.5" y1="318.75" x2="542.9" y2="318.75" stroke="#777" stroke-width="0.8" stroke-dasharray="1.6,1.2"/>
<polygon points="526,318.75 528.6,317.45 528.6,320.05" fill="#777"/>
<polygon points="544.4,318.75 541.8,317.45 541.8,320.05" fill="#777"/>
<line x1="625.5" y1="318.75" x2="640.5" y2="318.75" stroke="#777" stroke-width="0.8" stroke-dasharray="1.6,1.2"/>
<polygon points="624,318.75 626.6,317.45 626.6,320.05" fill="#777"/>
<polygon points="642,318.75 639.4,317.45 639.4,320.05" fill="#777"/>
<line x1="523.6" y1="337" x2="514.8" y2="337" stroke="#41a3dd" stroke-width="0.9"/>
<polygon points="512.4,337 515.4,335.5 515.4,338.5" fill="#41a3dd"/>
<line x1="546.2" y1="337" x2="555.8" y2="337" stroke="#41a3dd" stroke-width="0.9"/>
<polygon points="558.2,337 555.2,335.5 555.2,338.5" fill="#41a3dd"/>
<line x1="612.3" y1="338.6" x2="621.1" y2="338.6" stroke="#6a66d2" stroke-width="0.9"/>
<polygon points="623.5,338.6 620.5,337.1 620.5,340.1" fill="#6a66d2"/>
<line x1="653.8" y1="338.6" x2="644.8" y2="338.6" stroke="#6a66d2" stroke-width="0.9"/>
<polygon points="642.4,338.6 645.4,337.1 645.4,340.1" fill="#6a66d2"/>
<text x="545.2" y="349.2" font-size="7.7" fill="#1a1a1a">Broadening</text>
<text x="647.3" y="349.2" font-size="7.7" fill="#1a1a1a">narrowing</text>
<line x1="507.2" y1="376.6" x2="524.7" y2="376.6" stroke="#6e6e6e" stroke-width="1.0"/>
<line x1="507.2" y1="386.4" x2="524.7" y2="386.4" stroke="#41a3dd" stroke-width="1.0"/>
<text x="528.7" y="379.3" font-size="7.8" fill="#1a1a1a">TBAOTf</text>
<text x="528.7" y="389.1" font-size="7.8" fill="#1a1a1a">TBAOTf + FABr</text>
<line x1="602.5" y1="376.6" x2="620" y2="376.6" stroke="#6e6e6e" stroke-width="1.0"/>
<line x1="602.5" y1="386.4" x2="620" y2="386.4" stroke="#6a66d2" stroke-width="1.0"/>
<text x="624.1" y="379.3" font-size="7.8" fill="#1a1a1a">TBAOTf</text>
<text x="624.1" y="389.1" font-size="7.8" fill="#1a1a1a">TBAOTf + PbBr<tspan font-size="5" dy="1.5">2</tspan></text>
<text transform="translate(490,325) rotate(-90)" font-size="10.9" text-anchor="middle" fill="#1a1a1a">Transmittance (a.u.)</text>
<text x="541.8" y="435.8" font-size="10.9" fill="#1a1a1a">Wavenumber (cm<tspan font-size="7.6" dy="-4.4">−1</tspan><tspan dy="4.4">)</tspan></text>
<text x="456" y="260.5" font-size="16" font-weight="bold" fill="#000">d</text>
<defs>
<linearGradient id="fe1" x1="0" y1="0" x2="0" y2="1"><stop offset="0" stop-color="#7fa48e"/><stop offset="0.55" stop-color="#d3e3d8"/><stop offset="1" stop-color="#ffffff"/></linearGradient>
<linearGradient id="fe2" x1="0" y1="0" x2="0" y2="1"><stop offset="0" stop-color="#6fc86f"/><stop offset="0.55" stop-color="#d4efd4"/><stop offset="1" stop-color="#ffffff"/></linearGradient>
</defs>
<polygon points="17,533.77 17.62,533.77 18.24,533.76 18.87,533.76 19.49,533.76 20.11,533.76 20.73,533.76 21.35,533.76 21.98,533.76 22.6,533.76 23.22,533.75 23.84,533.75 24.46,533.75 25.09,533.75 25.71,533.75 26.33,533.74 26.95,533.74 27.57,533.74 28.2,533.74 28.82,533.73 29.44,533.73 30.06,533.73 30.68,533.72 31.31,533.72 31.93,533.71 32.55,533.71 33.17,533.7 33.79,533.7 34.42,533.69 35.04,533.69 35.66,533.68 36.28,533.67 36.9,533.66 37.53,533.66 38.15,533.65 38.77,533.64 39.39,533.63 40.01,533.62 40.64,533.61 41.26,533.59 41.88,533.58 42.5,533.56 43.12,533.54 43.75,533.52 44.37,533.49 44.99,533.46 45.61,533.42 46.23,533.38 46.86,533.34 47.48,533.29 48.1,533.23 48.72,533.17 49.34,533.1 49.97,533.03 50.59,532.95 51.21,532.87 51.83,532.78 52.45,532.68 53.08,532.58 53.7,532.47 54.32,532.35 54.94,532.22 55.56,532.08 56.19,531.93 56.81,531.76 57.43,531.58 58.05,531.38 58.67,531.16 59.3,530.92 59.92,530.66 60.54,530.37 61.16,530.05 61.78,529.7 62.41,529.31 63.03,528.9 63.65,528.45 64.27,527.97 64.89,527.44 65.52,526.85 66.14,526.21 66.76,525.52 67.38,524.77 68,523.99 68.63,523.17 69.25,522.34 69.87,521.51 70.49,520.66 71.11,519.79 71.74,518.9 72.36,517.99 72.98,517.05 73.6,516.06 74.22,515.02 74.85,513.92 75.47,512.7 76.09,511.35 76.71,509.91 77.33,508.42 77.96,506.91 78.58,505.46 79.2,504.13 79.82,503 80.44,502.06 81.07,501.12 81.69,500.17 82.31,499.24 82.93,498.35 83.55,497.52 84.18,496.76 84.8,496.11 85.42,495.59 86.04,495.22 86.66,495.03 87.29,495.02 87.91,495.18 88.53,495.49 89.15,495.93 89.77,496.48 90.4,497.12 91.02,497.82 91.64,498.58 92.26,499.37 92.88,500.18 93.51,500.99 94.13,501.8 94.75,502.76 95.37,503.9 95.99,505.15 96.62,506.46 97.24,507.79 97.86,509.09 98.48,510.34 99.1,511.52 99.73,512.62 100.35,513.72 100.97,514.8 101.59,515.85 102.21,516.86 102.84,517.83 103.46,518.76 104.08,519.63 104.7,520.46 105.32,521.27 105.95,522.04 106.57,522.79 107.19,523.5 107.81,524.16 108.43,524.78 109.06,525.36 109.68,525.89 110.3,526.38 110.92,526.82 111.54,527.22 112.17,527.59 112.79,527.93 113.41,528.25 114.03,528.55 114.65,528.83 115.28,529.09 115.9,529.34 116.52,529.57 117.14,529.78 117.76,529.98 118.39,530.17 119.01,530.35 119.63,530.51 120.25,530.67 120.87,530.81 121.5,530.95 122.12,531.08 122.74,531.2 123.36,531.31 123.98,531.42 124.61,531.52 125.23,531.62 125.85,531.71 126.47,531.8 127.09,531.88 127.72,531.96 128.34,532.03 128.96,532.1 129.58,532.17 130.2,532.23 130.83,532.29 131.45,532.35 132.07,532.41 132.69,532.46 133.31,532.51 133.94,532.56 134.56,532.6 135.18,532.64 135.8,532.69 136.42,532.72 137.05,532.76 137.67,532.8 138.29,532.83 138.91,532.86 139.53,532.9 140.16,532.93 140.78,532.96 141.4,532.99 142.02,533.01 142.64,533.04 143.27,533.06 143.89,533.09 144.51,533.11 145.13,533.13 145.75,533.16 146.38,533.18 147,533.2 147.62,533.21 148.24,533.23 148.86,533.25 149.49,533.27 150.11,533.28 150.73,533.3 151.35,533.31 151.97,533.33 152.6,533.34 153.22,533.36 153.84,533.37 154.46,533.38 155.08,533.39 155.71,533.4 156.33,533.41 156.95,533.42 157.57,533.43 158.19,533.44 158.82,533.45 159.44,533.46 160.06,533.47 160.68,533.48 161.3,533.49 161.93,533.49 162.55,533.5 163.17,533.51 163.79,533.51 164.41,533.52 165.04,533.53 165.66,533.53 166.28,533.54 166.9,533.55 167.52,533.55 168.15,533.56 168.77,533.56 169.39,533.57 170.01,533.57 170.63,533.58 171.26,533.58 171.88,533.59 172.5,533.59 173.12,533.6 173.74,533.6 174.37,533.61 174.99,533.61 175.61,533.61 176.23,533.62 176.85,533.62 177.48,533.63 178.1,533.63 178.72,533.63 179.34,533.64 179.96,533.64 180.59,533.64 181.21,533.65 181.83,533.65 182.45,533.65 183.07,533.65 183.7,533.66 184.32,533.66 184.94,533.66 185.56,533.67 186.18,533.67 186.81,533.67 187.43,533.67 188.05,533.67 188.67,533.68 189.29,533.68 189.92,533.68 190.54,533.68 191.16,533.69 191.78,533.69 192.4,533.69 193.03,533.69 193.65,533.69 194.27,533.69 194.89,533.7 195.51,533.7 196.14,533.7 196.76,533.7 197.38,533.7 198,533.7 198.62,533.71 199.25,533.71 199.87,533.71 200.49,533.71 201.11,533.71 201.73,533.71 202.36,533.71 202.98,533.71 203.6,533.72 203.6,535.2 17,535.2" fill="url(#fe1)" stroke="none"/>
<polyline points="17,533.77 17.62,533.77 18.24,533.76 18.87,533.76 19.49,533.76 20.11,533.76 20.73,533.76 21.35,533.76 21.98,533.76 22.6,533.76 23.22,533.75 23.84,533.75 24.46,533.75 25.09,533.75 25.71,533.75 26.33,533.74 26.95,533.74 27.57,533.74 28.2,533.74 28.82,533.73 29.44,533.73 30.06,533.73 30.68,533.72 31.31,533.72 31.93,533.71 32.55,533.71 33.17,533.7 33.79,533.7 34.42,533.69 35.04,533.69 35.66,533.68 36.28,533.67 36.9,533.66 37.53,533.66 38.15,533.65 38.77,533.64 39.39,533.63 40.01,533.62 40.64,533.61 41.26,533.59 41.88,533.58 42.5,533.56 43.12,533.54 43.75,533.52 44.37,533.49 44.99,533.46 45.61,533.42 46.23,533.38 46.86,533.34 47.48,533.29 48.1,533.23 48.72,533.17 49.34,533.1 49.97,533.03 50.59,532.95 51.21,532.87 51.83,532.78 52.45,532.68 53.08,532.58 53.7,532.47 54.32,532.35 54.94,532.22 55.56,532.08 56.19,531.93 56.81,531.76 57.43,531.58 58.05,531.38 58.67,531.16 59.3,530.92 59.92,530.66 60.54,530.37 61.16,530.05 61.78,529.7 62.41,529.31 63.03,528.9 63.65,528.45 64.27,527.97 64.89,527.44 65.52,526.85 66.14,526.21 66.76,525.52 67.38,524.77 68,523.99 68.63,523.17 69.25,522.34 69.87,521.51 70.49,520.66 71.11,519.79 71.74,518.9 72.36,517.99 72.98,517.05 73.6,516.06 74.22,515.02 74.85,513.92 75.47,512.7 76.09,511.35 76.71,509.91 77.33,508.42 77.96,506.91 78.58,505.46 79.2,504.13 79.82,503 80.44,502.06 81.07,501.12 81.69,500.17 82.31,499.24 82.93,498.35 83.55,497.52 84.18,496.76 84.8,496.11 85.42,495.59 86.04,495.22 86.66,495.03 87.29,495.02 87.91,495.18 88.53,495.49 89.15,495.93 89.77,496.48 90.4,497.12 91.02,497.82 91.64,498.58 92.26,499.37 92.88,500.18 93.51,500.99 94.13,501.8 94.75,502.76 95.37,503.9 95.99,505.15 96.62,506.46 97.24,507.79 97.86,509.09 98.48,510.34 99.1,511.52 99.73,512.62 100.35,513.72 100.97,514.8 101.59,515.85 102.21,516.86 102.84,517.83 103.46,518.76 104.08,519.63 104.7,520.46 105.32,521.27 105.95,522.04 106.57,522.79 107.19,523.5 107.81,524.16 108.43,524.78 109.06,525.36 109.68,525.89 110.3,526.38 110.92,526.82 111.54,527.22 112.17,527.59 112.79,527.93 113.41,528.25 114.03,528.55 114.65,528.83 115.28,529.09 115.9,529.34 116.52,529.57 117.14,529.78 117.76,529.98 118.39,530.17 119.01,530.35 119.63,530.51 120.25,530.67 120.87,530.81 121.5,530.95 122.12,531.08 122.74,531.2 123.36,531.31 123.98,531.42 124.61,531.52 125.23,531.62 125.85,531.71 126.47,531.8 127.09,531.88 127.72,531.96 128.34,532.03 128.96,532.1 129.58,532.17 130.2,532.23 130.83,532.29 131.45,532.35 132.07,532.41 132.69,532.46 133.31,532.51 133.94,532.56 134.56,532.6 135.18,532.64 135.8,532.69 136.42,532.72 137.05,532.76 137.67,532.8 138.29,532.83 138.91,532.86 139.53,532.9 140.16,532.93 140.78,532.96 141.4,532.99 142.02,533.01 142.64,533.04 143.27,533.06 143.89,533.09 144.51,533.11 145.13,533.13 145.75,533.16 146.38,533.18 147,533.2 147.62,533.21 148.24,533.23 148.86,533.25 149.49,533.27 150.11,533.28 150.73,533.3 151.35,533.31 151.97,533.33 152.6,533.34 153.22,533.36 153.84,533.37 154.46,533.38 155.08,533.39 155.71,533.4 156.33,533.41 156.95,533.42 157.57,533.43 158.19,533.44 158.82,533.45 159.44,533.46 160.06,533.47 160.68,533.48 161.3,533.49 161.93,533.49 162.55,533.5 163.17,533.51 163.79,533.51 164.41,533.52 165.04,533.53 165.66,533.53 166.28,533.54 166.9,533.55 167.52,533.55 168.15,533.56 168.77,533.56 169.39,533.57 170.01,533.57 170.63,533.58 171.26,533.58 171.88,533.59 172.5,533.59 173.12,533.6 173.74,533.6 174.37,533.61 174.99,533.61 175.61,533.61 176.23,533.62 176.85,533.62 177.48,533.63 178.1,533.63 178.72,533.63 179.34,533.64 179.96,533.64 180.59,533.64 181.21,533.65 181.83,533.65 182.45,533.65 183.07,533.65 183.7,533.66 184.32,533.66 184.94,533.66 185.56,533.67 186.18,533.67 186.81,533.67 187.43,533.67 188.05,533.67 188.67,533.68 189.29,533.68 189.92,533.68 190.54,533.68 191.16,533.69 191.78,533.69 192.4,533.69 193.03,533.69 193.65,533.69 194.27,533.69 194.89,533.7 195.51,533.7 196.14,533.7 196.76,533.7 197.38,533.7 198,533.7 198.62,533.71 199.25,533.71 199.87,533.71 200.49,533.71 201.11,533.71 201.73,533.71 202.36,533.71 202.98,533.71 203.6,533.72" fill="none" stroke="#2c7a4c" stroke-width="1.3" stroke-linejoin="round"/>
<rect x="17" y="468.2" width="186.6" height="67" fill="none" stroke="#333" stroke-width="1.1"/>
<line x1="63.65" y1="535.2" x2="63.65" y2="532.2" stroke="#333" stroke-width="0.9"/>
<line x1="110.3" y1="535.2" x2="110.3" y2="532.2" stroke="#333" stroke-width="0.9"/>
<line x1="156.95" y1="535.2" x2="156.95" y2="532.2" stroke="#333" stroke-width="0.9"/>
<line x1="40.33" y1="535.2" x2="40.33" y2="533.5" stroke="#333" stroke-width="0.9"/>
<line x1="86.97" y1="535.2" x2="86.97" y2="533.5" stroke="#333" stroke-width="0.9"/>
<line x1="133.62" y1="535.2" x2="133.62" y2="533.5" stroke="#333" stroke-width="0.9"/>
<line x1="180.28" y1="535.2" x2="180.28" y2="533.5" stroke="#333" stroke-width="0.9"/>
<polygon points="17,606.09 17.62,606.08 18.24,606.08 18.87,606.08 19.49,606.08 20.11,606.07 20.73,606.07 21.35,606.07 21.98,606.06 22.6,606.06 23.22,606.06 23.84,606.05 24.46,606.05 25.09,606.04 25.71,606.04 26.33,606.03 26.95,606.03 27.57,606.02 28.2,606.01 28.82,606.01 29.44,606 30.06,605.99 30.68,605.98 31.31,605.98 31.93,605.97 32.55,605.96 33.17,605.95 33.79,605.94 34.42,605.93 35.04,605.92 35.66,605.91 36.28,605.89 36.9,605.88 37.53,605.87 38.15,605.85 38.77,605.84 39.39,605.83 40.01,605.81 40.64,605.79 41.26,605.77 41.88,605.75 42.5,605.73 43.12,605.71 43.75,605.68 44.37,605.65 44.99,605.62 45.61,605.58 46.23,605.54 46.86,605.5 47.48,605.45 48.1,605.4 48.72,605.34 49.34,605.28 49.97,605.21 50.59,605.13 51.21,605.05 51.83,604.95 52.45,604.85 53.08,604.73 53.7,604.58 54.32,604.41 54.94,604.21 55.56,603.99 56.19,603.74 56.81,603.46 57.43,603.16 58.05,602.82 58.67,602.47 59.3,602.1 59.92,601.7 60.54,601.27 61.16,600.8 61.78,600.29 62.41,599.74 63.03,599.16 63.65,598.53 64.27,597.85 64.89,597.12 65.52,596.33 66.14,595.48 66.76,594.57 67.38,593.6 68,592.59 68.63,591.53 69.25,590.44 69.87,589.33 70.49,588.21 71.11,587.06 71.74,585.88 72.36,584.66 72.98,583.38 73.6,582.03 74.22,580.59 74.85,579.03 75.47,577.24 76.09,575.2 76.71,572.96 77.33,570.6 77.96,568.21 78.58,565.93 79.2,563.91 79.82,562.31 80.44,561.13 81.07,559.99 81.69,558.89 82.31,557.87 82.93,556.98 83.55,556.25 84.18,555.72 84.8,555.44 85.42,555.42 86.04,555.59 86.66,555.91 87.29,556.36 87.91,556.94 88.53,557.61 89.15,558.36 89.77,559.17 90.4,560.04 91.02,561.02 91.64,562.55 92.26,564.56 92.88,566.86 93.51,569.28 94.13,571.69 94.75,573.99 95.37,576.08 95.99,577.92 96.62,579.65 97.24,581.34 97.86,582.96 98.48,584.5 99.1,585.94 99.73,587.25 100.35,588.45 100.97,589.51 101.59,590.45 102.21,591.3 102.84,592.08 103.46,592.79 104.08,593.46 104.7,594.08 105.32,594.66 105.95,595.22 106.57,595.74 107.19,596.24 107.81,596.73 108.43,597.19 109.06,597.65 109.68,598.08 110.3,598.49 110.92,598.89 111.54,599.26 112.17,599.62 112.79,599.95 113.41,600.27 114.03,600.57 114.65,600.85 115.28,601.12 115.9,601.37 116.52,601.6 117.14,601.81 117.76,602.01 118.39,602.2 119.01,602.37 119.63,602.54 120.25,602.69 120.87,602.84 121.5,602.99 122.12,603.12 122.74,603.25 123.36,603.37 123.98,603.49 124.61,603.6 125.23,603.7 125.85,603.8 126.47,603.89 127.09,603.98 127.72,604.07 128.34,604.15 128.96,604.23 129.58,604.3 130.2,604.37 130.83,604.44 131.45,604.5 132.07,604.56 132.69,604.62 133.31,604.67 133.94,604.72 134.56,604.77 135.18,604.82 135.8,604.86 136.42,604.9 137.05,604.94 137.67,604.98 138.29,605.01 138.91,605.05 139.53,605.08 140.16,605.11 140.78,605.14 141.4,605.17 142.02,605.2 142.64,605.23 143.27,605.25 143.89,605.28 144.51,605.3 145.13,605.33 145.75,605.35 146.38,605.37 147,605.39 147.62,605.41 148.24,605.43 148.86,605.45 149.49,605.47 150.11,605.49 150.73,605.5 151.35,605.52 151.97,605.53 152.6,605.55 153.22,605.56 153.84,605.58 154.46,605.59 155.08,605.61 155.71,605.62 156.33,605.63 156.95,605.64 157.57,605.65 158.19,605.67 158.82,605.68 159.44,605.69 160.06,605.7 160.68,605.71 161.3,605.72 161.93,605.73 162.55,605.74 163.17,605.74 163.79,605.75 164.41,605.76 165.04,605.77 165.66,605.78 166.28,605.79 166.9,605.79 167.52,605.8 168.15,605.81 168.77,605.82 169.39,605.82 170.01,605.83 170.63,605.84 171.26,605.85 171.88,605.85 172.5,605.86 173.12,605.86 173.74,605.87 174.37,605.88 174.99,605.88 175.61,605.89 176.23,605.89 176.85,605.9 177.48,605.9 178.1,605.91 178.72,605.91 179.34,605.92 179.96,605.92 180.59,605.93 181.21,605.93 181.83,605.94 182.45,605.94 183.07,605.95 183.7,605.95 184.32,605.95 184.94,605.96 185.56,605.96 186.18,605.97 186.81,605.97 187.43,605.97 188.05,605.98 188.67,605.98 189.29,605.98 189.92,605.99 190.54,605.99 191.16,605.99 191.78,606 192.4,606 193.03,606 193.65,606 194.27,606.01 194.89,606.01 195.51,606.01 196.14,606.02 196.76,606.02 197.38,606.02 198,606.02 198.62,606.02 199.25,606.03 199.87,606.03 200.49,606.03 201.11,606.03 201.73,606.03 202.36,606.04 202.98,606.04 203.6,606.04 203.6,607.7 17,607.7" fill="url(#fe2)" stroke="none"/>
<polyline points="17,606.09 17.62,606.08 18.24,606.08 18.87,606.08 19.49,606.08 20.11,606.07 20.73,606.07 21.35,606.07 21.98,606.06 22.6,606.06 23.22,606.06 23.84,606.05 24.46,606.05 25.09,606.04 25.71,606.04 26.33,606.03 26.95,606.03 27.57,606.02 28.2,606.01 28.82,606.01 29.44,606 30.06,605.99 30.68,605.98 31.31,605.98 31.93,605.97 32.55,605.96 33.17,605.95 33.79,605.94 34.42,605.93 35.04,605.92 35.66,605.91 36.28,605.89 36.9,605.88 37.53,605.87 38.15,605.85 38.77,605.84 39.39,605.83 40.01,605.81 40.64,605.79 41.26,605.77 41.88,605.75 42.5,605.73 43.12,605.71 43.75,605.68 44.37,605.65 44.99,605.62 45.61,605.58 46.23,605.54 46.86,605.5 47.48,605.45 48.1,605.4 48.72,605.34 49.34,605.28 49.97,605.21 50.59,605.13 51.21,605.05 51.83,604.95 52.45,604.85 53.08,604.73 53.7,604.58 54.32,604.41 54.94,604.21 55.56,603.99 56.19,603.74 56.81,603.46 57.43,603.16 58.05,602.82 58.67,602.47 59.3,602.1 59.92,601.7 60.54,601.27 61.16,600.8 61.78,600.29 62.41,599.74 63.03,599.16 63.65,598.53 64.27,597.85 64.89,597.12 65.52,596.33 66.14,595.48 66.76,594.57 67.38,593.6 68,592.59 68.63,591.53 69.25,590.44 69.87,589.33 70.49,588.21 71.11,587.06 71.74,585.88 72.36,584.66 72.98,583.38 73.6,582.03 74.22,580.59 74.85,579.03 75.47,577.24 76.09,575.2 76.71,572.96 77.33,570.6 77.96,568.21 78.58,565.93 79.2,563.91 79.82,562.31 80.44,561.13 81.07,559.99 81.69,558.89 82.31,557.87 82.93,556.98 83.55,556.25 84.18,555.72 84.8,555.44 85.42,555.42 86.04,555.59 86.66,555.91 87.29,556.36 87.91,556.94 88.53,557.61 89.15,558.36 89.77,559.17 90.4,560.04 91.02,561.02 91.64,562.55 92.26,564.56 92.88,566.86 93.51,569.28 94.13,571.69 94.75,573.99 95.37,576.08 95.99,577.92 96.62,579.65 97.24,581.34 97.86,582.96 98.48,584.5 99.1,585.94 99.73,587.25 100.35,588.45 100.97,589.51 101.59,590.45 102.21,591.3 102.84,592.08 103.46,592.79 104.08,593.46 104.7,594.08 105.32,594.66 105.95,595.22 106.57,595.74 107.19,596.24 107.81,596.73 108.43,597.19 109.06,597.65 109.68,598.08 110.3,598.49 110.92,598.89 111.54,599.26 112.17,599.62 112.79,599.95 113.41,600.27 114.03,600.57 114.65,600.85 115.28,601.12 115.9,601.37 116.52,601.6 117.14,601.81 117.76,602.01 118.39,602.2 119.01,602.37 119.63,602.54 120.25,602.69 120.87,602.84 121.5,602.99 122.12,603.12 122.74,603.25 123.36,603.37 123.98,603.49 124.61,603.6 125.23,603.7 125.85,603.8 126.47,603.89 127.09,603.98 127.72,604.07 128.34,604.15 128.96,604.23 129.58,604.3 130.2,604.37 130.83,604.44 131.45,604.5 132.07,604.56 132.69,604.62 133.31,604.67 133.94,604.72 134.56,604.77 135.18,604.82 135.8,604.86 136.42,604.9 137.05,604.94 137.67,604.98 138.29,605.01 138.91,605.05 139.53,605.08 140.16,605.11 140.78,605.14 141.4,605.17 142.02,605.2 142.64,605.23 143.27,605.25 143.89,605.28 144.51,605.3 145.13,605.33 145.75,605.35 146.38,605.37 147,605.39 147.62,605.41 148.24,605.43 148.86,605.45 149.49,605.47 150.11,605.49 150.73,605.5 151.35,605.52 151.97,605.53 152.6,605.55 153.22,605.56 153.84,605.58 154.46,605.59 155.08,605.61 155.71,605.62 156.33,605.63 156.95,605.64 157.57,605.65 158.19,605.67 158.82,605.68 159.44,605.69 160.06,605.7 160.68,605.71 161.3,605.72 161.93,605.73 162.55,605.74 163.17,605.74 163.79,605.75 164.41,605.76 165.04,605.77 165.66,605.78 166.28,605.79 166.9,605.79 167.52,605.8 168.15,605.81 168.77,605.82 169.39,605.82 170.01,605.83 170.63,605.84 171.26,605.85 171.88,605.85 172.5,605.86 173.12,605.86 173.74,605.87 174.37,605.88 174.99,605.88 175.61,605.89 176.23,605.89 176.85,605.9 177.48,605.9 178.1,605.91 178.72,605.91 179.34,605.92 179.96,605.92 180.59,605.93 181.21,605.93 181.83,605.94 182.45,605.94 183.07,605.95 183.7,605.95 184.32,605.95 184.94,605.96 185.56,605.96 186.18,605.97 186.81,605.97 187.43,605.97 188.05,605.98 188.67,605.98 189.29,605.98 189.92,605.99 190.54,605.99 191.16,605.99 191.78,606 192.4,606 193.03,606 193.65,606 194.27,606.01 194.89,606.01 195.51,606.01 196.14,606.02 196.76,606.02 197.38,606.02 198,606.02 198.62,606.02 199.25,606.03 199.87,606.03 200.49,606.03 201.11,606.03 201.73,606.03 202.36,606.04 202.98,606.04 203.6,606.04" fill="none" stroke="#4cba4a" stroke-width="1.3" stroke-linejoin="round"/>
<rect x="17" y="540.4" width="186.6" height="67.3" fill="none" stroke="#333" stroke-width="1.1"/>
<line x1="63.65" y1="607.7" x2="63.65" y2="604.7" stroke="#333" stroke-width="0.9"/>
<line x1="110.3" y1="607.7" x2="110.3" y2="604.7" stroke="#333" stroke-width="0.9"/>
<line x1="156.95" y1="607.7" x2="156.95" y2="604.7" stroke="#333" stroke-width="0.9"/>
<line x1="40.33" y1="607.7" x2="40.33" y2="606" stroke="#333" stroke-width="0.9"/>
<line x1="86.97" y1="607.7" x2="86.97" y2="606" stroke="#333" stroke-width="0.9"/>
<line x1="133.62" y1="607.7" x2="133.62" y2="606" stroke="#333" stroke-width="0.9"/>
<line x1="180.28" y1="607.7" x2="180.28" y2="606" stroke="#333" stroke-width="0.9"/>
<line x1="77.7" y1="514.6" x2="97.3" y2="514.6" stroke="#111" stroke-width="0.9"/>
<polygon points="75.7,514.6 78.7,513 78.7,516.2" fill="#111"/>
<polygon points="99.3,514.6 96.3,513 96.3,516.2" fill="#111"/>
<text x="88" y="522.4" font-size="7.8" text-anchor="middle" fill="#1a1a1a">27 nm</text>
<line x1="87.2" y1="489.6" x2="87.2" y2="500" stroke="#666" stroke-width="0.6" stroke-dasharray="1,0.8"/>
<line x1="88.2" y1="494.4" x2="97" y2="492.6" stroke="#111" stroke-width="0.75"/>
<text x="99.8" y="495.4" font-size="7.7" fill="#1a1a1a">525 nm</text>
<line x1="76.8" y1="580.2" x2="94.1" y2="580.2" stroke="#111" stroke-width="0.9"/>
<polygon points="74.8,580.2 77.8,578.6 77.8,581.8" fill="#111"/>
<polygon points="96.1,580.2 93.1,578.6 93.1,581.8" fill="#111"/>
<text x="85.8" y="588.8" font-size="7.8" text-anchor="middle" fill="#1a1a1a">24 nm</text>
<line x1="85.3" y1="549.8" x2="85.3" y2="561" stroke="#666" stroke-width="0.6" stroke-dasharray="1,0.8"/>
<line x1="86.3" y1="555.5" x2="95.2" y2="553.7" stroke="#111" stroke-width="0.75"/>
<text x="97.7" y="556.4" font-size="7.7" fill="#1a1a1a">523 nm</text>
<text x="140.7" y="526.8" font-size="7.8" fill="#1a1a1a">PLQY = 77%</text>
<text x="140.3" y="598.6" font-size="7.8" fill="#1a1a1a">PLQY = 99%</text>
<line x1="149.4" y1="476.4" x2="167.7" y2="476.4" stroke="#3a8a5c" stroke-width="1.1"/>
<text x="172" y="478.9" font-size="7.7" fill="#1a1a1a">Pristine</text>
<line x1="150" y1="548.5" x2="168.2" y2="548.5" stroke="#5cc05a" stroke-width="1.0"/>
<text x="170.6" y="551.5" font-size="7.7" fill="#1a1a1a">Target</text>
<text x="17" y="621.3" font-size="10.6" text-anchor="middle" fill="#1a1a1a">450</text>
<text x="63.65" y="621.3" font-size="10.6" text-anchor="middle" fill="#1a1a1a">500</text>
<text x="110.3" y="621.3" font-size="10.6" text-anchor="middle" fill="#1a1a1a">550</text>
<text x="156.95" y="621.3" font-size="10.6" text-anchor="middle" fill="#1a1a1a">600</text>
<text x="203.6" y="621.3" font-size="10.6" text-anchor="middle" fill="#1a1a1a">650</text>
<text x="110.6" y="636.7" font-size="10.9" text-anchor="middle" fill="#1a1a1a">Wavelength (nm)</text>
<text transform="translate(9.6,537.8) rotate(-90)" font-size="10.9" text-anchor="middle" fill="#1a1a1a">PL Intensity (a.u.)</text>
<text x="-0.6" y="468.4" font-size="17" font-weight="bold" fill="#000">e</text>
<clipPath id="cf11"><rect x="257.6" y="467.4" width="187.2" height="68"/></clipPath>
<g clip-path="url(#cf11)" fill="none" stroke="#2c7a4c" stroke-width="0.55">
<circle cx="257.6" cy="473.0" r="1.1"/>
<circle cx="257.8" cy="472.7" r="1.1"/>
<circle cx="257.9" cy="472.8" r="1.1"/>
<circle cx="258.1" cy="473.7" r="1.1"/>
<circle cx="258.3" cy="474.4" r="1.1"/>
<circle cx="258.4" cy="474.2" r="1.1"/>
<circle cx="258.6" cy="474.3" r="1.1"/>
<circle cx="258.8" cy="474.3" r="1.1"/>
<circle cx="258.9" cy="475.6" r="1.1"/>
<circle cx="259.1" cy="475.9" r="1.1"/>
<circle cx="259.3" cy="475.4" r="1.1"/>
<circle cx="259.5" cy="475.8" r="1.1"/>
<circle cx="259.6" cy="475.6" r="1.1"/>
<circle cx="259.8" cy="476.2" r="1.1"/>
<circle cx="260.0" cy="476.9" r="1.1"/>
<circle cx="260.1" cy="477.2" r="1.1"/>
<circle cx="260.3" cy="476.5" r="1.1"/>
<circle cx="260.5" cy="477.8" r="1.1"/>
<circle cx="260.6" cy="478.3" r="1.1"/>
<circle cx="260.8" cy="478.7" r="1.1"/>
<circle cx="261.0" cy="478.4" r="1.1"/>
<circle cx="261.1" cy="478.7" r="1.1"/>
<circle cx="261.3" cy="479.1" r="1.1"/>
<circle cx="261.5" cy="479.2" r="1.1"/>
<circle cx="261.6" cy="479.3" r="1.1"/>
<circle cx="261.8" cy="479.4" r="1.1"/>
<circle cx="262.0" cy="479.5" r="1.1"/>
<circle cx="262.1" cy="480.1" r="1.1"/>
<circle cx="262.3" cy="481.2" r="1.1"/>
<circle cx="262.5" cy="480.3" r="1.1"/>
<circle cx="262.7" cy="481.5" r="1.1"/>
<circle cx="262.8" cy="481.1" r="1.1"/>
<circle cx="263.0" cy="481.9" r="1.1"/>
<circle cx="263.2" cy="481.5" r="1.1"/>
<circle cx="263.3" cy="482.0" r="1.1"/>
<circle cx="263.5" cy="481.8" r="1.1"/>
<circle cx="263.7" cy="481.1" r="1.1"/>
<circle cx="263.8" cy="482.3" r="1.1"/>
<circle cx="264.0" cy="482.1" r="1.1"/>
<circle cx="264.2" cy="483.3" r="1.1"/>
<circle cx="264.3" cy="483.0" r="1.1"/>
<circle cx="264.5" cy="482.8" r="1.1"/>
<circle cx="264.7" cy="483.3" r="1.1"/>
<circle cx="264.8" cy="483.3" r="1.1"/>
<circle cx="265.0" cy="483.6" r="1.1"/>
<circle cx="265.2" cy="484.3" r="1.1"/>
<circle cx="265.4" cy="483.7" r="1.1"/>
<circle cx="265.5" cy="484.5" r="1.1"/>
<circle cx="265.7" cy="483.4" r="1.1"/>
<circle cx="265.9" cy="484.7" r="1.1"/>
<circle cx="266.0" cy="484.3" r="1.1"/>
<circle cx="266.2" cy="484.8" r="1.1"/>
<circle cx="266.4" cy="484.5" r="1.1"/>
<circle cx="266.5" cy="485.4" r="1.1"/>
<circle cx="266.7" cy="484.8" r="1.1"/>
<circle cx="266.9" cy="485.5" r="1.1"/>
<circle cx="267.0" cy="485.0" r="1.1"/>
<circle cx="267.2" cy="485.5" r="1.1"/>
<circle cx="267.4" cy="485.9" r="1.1"/>
<circle cx="267.5" cy="486.5" r="1.1"/>
<circle cx="267.7" cy="485.8" r="1.1"/>
<circle cx="267.9" cy="486.1" r="1.1"/>
<circle cx="268.0" cy="485.7" r="1.1"/>
<circle cx="268.2" cy="486.8" r="1.1"/>
<circle cx="268.4" cy="486.5" r="1.1"/>
<circle cx="268.6" cy="486.7" r="1.1"/>
<circle cx="268.7" cy="486.9" r="1.1"/>
<circle cx="268.9" cy="487.1" r="1.1"/>
<circle cx="269.1" cy="487.3" r="1.1"/>
<circle cx="269.4" cy="487.9" r="1.1"/>
<circle cx="269.6" cy="488.3" r="1.1"/>
<circle cx="269.8" cy="488.2" r="1.1"/>
<circle cx="270.0" cy="487.8" r="1.1"/>
<circle cx="270.3" cy="487.5" r="1.1"/>
<circle cx="270.5" cy="488.0" r="1.1"/>
<circle cx="270.7" cy="488.1" r="1.1"/>
<circle cx="271.0" cy="488.4" r="1.1"/>
<circle cx="271.2" cy="488.6" r="1.1"/>
<circle cx="271.4" cy="489.1" r="1.1"/>
<circle cx="271.7" cy="488.9" r="1.1"/>
<circle cx="271.9" cy="488.6" r="1.1"/>
<circle cx="272.1" cy="489.8" r="1.1"/>
<circle cx="272.4" cy="490.2" r="1.1"/>
<circle cx="272.6" cy="488.9" r="1.1"/>
<circle cx="272.8" cy="490.0" r="1.1"/>
<circle cx="273.1" cy="489.8" r="1.1"/>
<circle cx="273.3" cy="490.0" r="1.1"/>
<circle cx="273.5" cy="491.2" r="1.1"/>
<circle cx="273.8" cy="489.6" r="1.1"/>
<circle cx="274.0" cy="490.0" r="1.1"/>
<circle cx="274.2" cy="491.0" r="1.1"/>
<circle cx="274.5" cy="490.8" r="1.1"/>
<circle cx="274.7" cy="491.3" r="1.1"/>
<circle cx="274.9" cy="492.0" r="1.1"/>
<circle cx="275.2" cy="491.8" r="1.1"/>
<circle cx="275.4" cy="491.6" r="1.1"/>
<circle cx="275.6" cy="491.4" r="1.1"/>
<circle cx="275.9" cy="491.8" r="1.1"/>
<circle cx="276.1" cy="492.3" r="1.1"/>
<circle cx="276.3" cy="491.7" r="1.1"/>
<circle cx="276.5" cy="493.0" r="1.1"/>
<circle cx="276.8" cy="492.3" r="1.1"/>
<circle cx="277.0" cy="492.3" r="1.1"/>
<circle cx="277.2" cy="493.2" r="1.1"/>
<circle cx="277.5" cy="494.2" r="1.1"/>
<circle cx="277.7" cy="493.9" r="1.1"/>
<circle cx="277.9" cy="493.3" r="1.1"/>
<circle cx="278.2" cy="493.3" r="1.1"/>
<circle cx="278.4" cy="492.9" r="1.1"/>
<circle cx="278.6" cy="494.5" r="1.1"/>
<circle cx="278.9" cy="494.0" r="1.1"/>
<circle cx="279.1" cy="493.8" r="1.1"/>
<circle cx="279.3" cy="494.4" r="1.1"/>
<circle cx="279.6" cy="495.8" r="1.1"/>
<circle cx="279.8" cy="494.1" r="1.1"/>
<circle cx="280.0" cy="493.4" r="1.1"/>
<circle cx="280.3" cy="494.3" r="1.1"/>
<circle cx="280.5" cy="495.6" r="1.1"/>
<circle cx="280.7" cy="495.4" r="1.1"/>
<circle cx="281.0" cy="495.2" r="1.1"/>
<circle cx="281.2" cy="494.1" r="1.1"/>
<circle cx="281.4" cy="495.2" r="1.1"/>
<circle cx="281.7" cy="495.7" r="1.1"/>
<circle cx="281.9" cy="494.9" r="1.1"/>
<circle cx="282.1" cy="496.1" r="1.1"/>
<circle cx="282.4" cy="495.0" r="1.1"/>
<circle cx="282.6" cy="496.7" r="1.1"/>
<circle cx="282.8" cy="496.7" r="1.1"/>
<circle cx="283.0" cy="496.1" r="1.1"/>
<circle cx="283.3" cy="495.8" r="1.1"/>
<circle cx="283.5" cy="496.4" r="1.1"/>
<circle cx="283.7" cy="496.8" r="1.1"/>
<circle cx="284.0" cy="498.3" r="1.1"/>
<circle cx="284.2" cy="497.7" r="1.1"/>
<circle cx="284.4" cy="497.8" r="1.1"/>
<circle cx="284.7" cy="497.9" r="1.1"/>
<circle cx="284.9" cy="497.3" r="1.1"/>
<circle cx="285.1" cy="498.0" r="1.1"/>
<circle cx="285.4" cy="497.4" r="1.1"/>
<circle cx="285.6" cy="498.0" r="1.1"/>
<circle cx="285.8" cy="498.4" r="1.1"/>
<circle cx="286.1" cy="498.3" r="1.1"/>
<circle cx="286.3" cy="498.2" r="1.1"/>
<circle cx="286.5" cy="498.0" r="1.1"/>
<circle cx="286.8" cy="499.1" r="1.1"/>
<circle cx="287.0" cy="499.0" r="1.1"/>
<circle cx="287.2" cy="499.9" r="1.1"/>
<circle cx="287.5" cy="498.1" r="1.1"/>
<circle cx="287.7" cy="498.3" r="1.1"/>
<circle cx="287.9" cy="499.5" r="1.1"/>
<circle cx="288.2" cy="499.9" r="1.1"/>
<circle cx="288.4" cy="500.5" r="1.1"/>
<circle cx="288.6" cy="499.7" r="1.1"/>
<circle cx="288.9" cy="499.8" r="1.1"/>
<circle cx="289.1" cy="498.6" r="1.1"/>
<circle cx="289.3" cy="500.1" r="1.1"/>
<circle cx="289.5" cy="500.9" r="1.1"/>
<circle cx="289.8" cy="502.0" r="1.1"/>
<circle cx="290.0" cy="499.6" r="1.1"/>
<circle cx="290.2" cy="500.6" r="1.1"/>
<circle cx="290.5" cy="502.0" r="1.1"/>
<circle cx="290.7" cy="500.9" r="1.1"/>
<circle cx="290.9" cy="502.3" r="1.1"/>
<circle cx="291.2" cy="499.7" r="1.1"/>
<circle cx="291.4" cy="500.6" r="1.1"/>
<circle cx="291.6" cy="501.1" r="1.1"/>
<circle cx="291.9" cy="501.8" r="1.1"/>
<circle cx="292.1" cy="503.4" r="1.1"/>
<circle cx="292.3" cy="502.0" r="1.1"/>
<circle cx="292.6" cy="503.2" r="1.1"/>
<circle cx="292.8" cy="501.7" r="1.1"/>
<circle cx="293.0" cy="503.9" r="1.1"/>
<circle cx="293.3" cy="503.1" r="1.1"/>
<circle cx="293.5" cy="501.7" r="1.1"/>
<circle cx="293.7" cy="501.5" r="1.1"/>
<circle cx="294.0" cy="503.7" r="1.1"/>
<circle cx="294.2" cy="504.1" r="1.1"/>
<circle cx="294.4" cy="502.4" r="1.1"/>
<circle cx="294.7" cy="502.6" r="1.1"/>
<circle cx="294.9" cy="504.1" r="1.1"/>
<circle cx="295.1" cy="504.0" r="1.1"/>
<circle cx="295.4" cy="504.1" r="1.1"/>
<circle cx="295.6" cy="504.6" r="1.1"/>
<circle cx="295.8" cy="504.4" r="1.1"/>
<circle cx="296.0" cy="503.0" r="1.1"/>
<circle cx="296.3" cy="503.5" r="1.1"/>
<circle cx="296.5" cy="502.6" r="1.1"/>
<circle cx="296.7" cy="504.4" r="1.1"/>
<circle cx="297.0" cy="504.6" r="1.1"/>
<circle cx="297.2" cy="505.4" r="1.1"/>
<circle cx="297.4" cy="504.8" r="1.1"/>
<circle cx="297.7" cy="505.9" r="1.1"/>
<circle cx="297.9" cy="506.4" r="1.1"/>
<circle cx="298.1" cy="504.5" r="1.1"/>
<circle cx="298.4" cy="504.0" r="1.1"/>
<circle cx="298.6" cy="504.6" r="1.1"/>
<circle cx="298.8" cy="504.4" r="1.1"/>
<circle cx="299.1" cy="505.4" r="1.1"/>
<circle cx="299.3" cy="506.3" r="1.1"/>
<circle cx="299.5" cy="505.8" r="1.1"/>
<circle cx="299.8" cy="506.3" r="1.1"/>
<circle cx="300.0" cy="507.0" r="1.1"/>
<circle cx="300.2" cy="507.6" r="1.1"/>
<circle cx="300.5" cy="507.6" r="1.1"/>
<circle cx="300.7" cy="506.4" r="1.1"/>
<circle cx="300.9" cy="506.4" r="1.1"/>
<circle cx="301.2" cy="507.1" r="1.1"/>
<circle cx="301.4" cy="505.6" r="1.1"/>
<circle cx="301.6" cy="506.8" r="1.1"/>
<circle cx="301.9" cy="506.5" r="1.1"/>
<circle cx="302.1" cy="506.1" r="1.1"/>
<circle cx="302.3" cy="508.0" r="1.1"/>
<circle cx="302.5" cy="509.1" r="1.1"/>
<circle cx="302.8" cy="506.8" r="1.1"/>
<circle cx="303.0" cy="508.2" r="1.1"/>
<circle cx="303.2" cy="506.6" r="1.1"/>
<circle cx="303.5" cy="507.5" r="1.1"/>
<circle cx="303.7" cy="507.1" r="1.1"/>
<circle cx="303.9" cy="507.4" r="1.1"/>
<circle cx="304.2" cy="510.1" r="1.1"/>
<circle cx="304.4" cy="507.7" r="1.1"/>
<circle cx="304.6" cy="509.0" r="1.1"/>
<circle cx="304.9" cy="509.2" r="1.1"/>
<circle cx="305.1" cy="509.1" r="1.1"/>
<circle cx="305.3" cy="508.1" r="1.1"/>
<circle cx="305.6" cy="508.1" r="1.1"/>
<circle cx="305.8" cy="508.1" r="1.1"/>
<circle cx="306.0" cy="510.7" r="1.1"/>
<circle cx="306.3" cy="509.8" r="1.1"/>
<circle cx="306.5" cy="511.4" r="1.1"/>
<circle cx="306.7" cy="509.5" r="1.1"/>
<circle cx="307.0" cy="509.0" r="1.1"/>
<circle cx="307.2" cy="510.4" r="1.1"/>
<circle cx="307.4" cy="509.6" r="1.1"/>
<circle cx="307.7" cy="509.7" r="1.1"/>
<circle cx="307.9" cy="509.0" r="1.1"/>
<circle cx="308.1" cy="510.9" r="1.1"/>
<circle cx="308.3" cy="511.0" r="1.1"/>
<circle cx="308.6" cy="511.1" r="1.1"/>
<circle cx="308.8" cy="508.7" r="1.1"/>
<circle cx="309.0" cy="509.5" r="1.1"/>
<circle cx="309.3" cy="510.8" r="1.1"/>
<circle cx="309.5" cy="510.6" r="1.1"/>
<circle cx="309.7" cy="510.8" r="1.1"/>
<circle cx="310.0" cy="510.8" r="1.1"/>
<circle cx="310.2" cy="511.3" r="1.1"/>
<circle cx="310.4" cy="511.5" r="1.1"/>
<circle cx="310.7" cy="512.6" r="1.1"/>
<circle cx="310.9" cy="512.1" r="1.1"/>
<circle cx="311.1" cy="509.9" r="1.1"/>
<circle cx="311.4" cy="511.1" r="1.1"/>
<circle cx="311.6" cy="511.7" r="1.1"/>
<circle cx="311.8" cy="512.1" r="1.1"/>
<circle cx="312.1" cy="511.9" r="1.1"/>
<circle cx="312.3" cy="511.7" r="1.1"/>
<circle cx="312.5" cy="512.8" r="1.1"/>
<circle cx="312.8" cy="512.0" r="1.1"/>
<circle cx="313.0" cy="512.1" r="1.1"/>
<circle cx="313.2" cy="513.2" r="1.1"/>
<circle cx="313.5" cy="513.4" r="1.1"/>
<circle cx="313.7" cy="513.7" r="1.1"/>
<circle cx="313.9" cy="513.9" r="1.1"/>
<circle cx="314.2" cy="511.9" r="1.1"/>
<circle cx="314.5" cy="515.3" r="1.1"/>
<circle cx="314.8" cy="513.4" r="1.1"/>
<circle cx="315.0" cy="513.9" r="1.1"/>
<circle cx="315.3" cy="514.0" r="1.1"/>
<circle cx="315.6" cy="513.4" r="1.1"/>
<circle cx="315.9" cy="512.4" r="1.1"/>
<circle cx="316.2" cy="513.6" r="1.1"/>
<circle cx="316.4" cy="514.0" r="1.1"/>
<circle cx="316.7" cy="514.6" r="1.1"/>
<circle cx="317.0" cy="514.2" r="1.1"/>
<circle cx="317.3" cy="513.2" r="1.1"/>
<circle cx="317.6" cy="514.7" r="1.1"/>
<circle cx="317.9" cy="515.7" r="1.1"/>
<circle cx="318.1" cy="516.0" r="1.1"/>
<circle cx="318.4" cy="515.9" r="1.1"/>
<circle cx="318.7" cy="516.3" r="1.1"/>
<circle cx="319.0" cy="513.6" r="1.1"/>
<circle cx="319.3" cy="514.6" r="1.1"/>
<circle cx="319.5" cy="515.4" r="1.1"/>
<circle cx="319.8" cy="513.5" r="1.1"/>
<circle cx="320.1" cy="516.1" r="1.1"/>
<circle cx="320.4" cy="514.5" r="1.1"/>
<circle cx="320.7" cy="514.6" r="1.1"/>
<circle cx="320.9" cy="517.4" r="1.1"/>
<circle cx="321.2" cy="517.6" r="1.1"/>
<circle cx="321.5" cy="516.9" r="1.1"/>
<circle cx="321.8" cy="514.9" r="1.1"/>
<circle cx="322.1" cy="514.5" r="1.1"/>
<circle cx="322.3" cy="517.6" r="1.1"/>
<circle cx="322.6" cy="515.0" r="1.1"/>
<circle cx="322.9" cy="516.8" r="1.1"/>
<circle cx="323.2" cy="516.9" r="1.1"/>
<circle cx="323.5" cy="517.2" r="1.1"/>
<circle cx="323.7" cy="517.1" r="1.1"/>
<circle cx="324.0" cy="519.0" r="1.1"/>
<circle cx="324.3" cy="518.1" r="1.1"/>
<circle cx="324.6" cy="518.5" r="1.1"/>
<circle cx="324.9" cy="516.5" r="1.1"/>
<circle cx="325.2" cy="514.6" r="1.1"/>
<circle cx="325.4" cy="514.5" r="1.1"/>
<circle cx="325.7" cy="517.8" r="1.1"/>
<circle cx="326.0" cy="519.6" r="1.1"/>
<circle cx="326.3" cy="518.1" r="1.1"/>
<circle cx="326.6" cy="518.8" r="1.1"/>
<circle cx="326.8" cy="515.2" r="1.1"/>
<circle cx="327.1" cy="517.1" r="1.1"/>
<circle cx="327.4" cy="518.9" r="1.1"/>
<circle cx="327.7" cy="516.8" r="1.1"/>
<circle cx="328.0" cy="517.4" r="1.1"/>
<circle cx="328.2" cy="520.3" r="1.1"/>
<circle cx="328.5" cy="519.0" r="1.1"/>
<circle cx="328.8" cy="518.7" r="1.1"/>
<circle cx="329.1" cy="518.5" r="1.1"/>
<circle cx="329.4" cy="518.4" r="1.1"/>
<circle cx="329.6" cy="519.1" r="1.1"/>
<circle cx="329.9" cy="518.5" r="1.1"/>
<circle cx="330.2" cy="519.6" r="1.1"/>
<circle cx="330.5" cy="520.1" r="1.1"/>
<circle cx="330.8" cy="517.0" r="1.1"/>
<circle cx="331.0" cy="518.6" r="1.1"/>
<circle cx="331.3" cy="518.6" r="1.1"/>
<circle cx="331.6" cy="521.4" r="1.1"/>
<circle cx="331.9" cy="519.6" r="1.1"/>
<circle cx="332.2" cy="518.3" r="1.1"/>
<circle cx="332.5" cy="521.3" r="1.1"/>
<circle cx="332.7" cy="518.1" r="1.1"/>
<circle cx="333.0" cy="520.2" r="1.1"/>
<circle cx="333.3" cy="519.2" r="1.1"/>
<circle cx="333.6" cy="520.0" r="1.1"/>
<circle cx="333.9" cy="519.6" r="1.1"/>
<circle cx="334.1" cy="518.3" r="1.1"/>
<circle cx="334.4" cy="520.6" r="1.1"/>
<circle cx="334.7" cy="518.0" r="1.1"/>
<circle cx="335.0" cy="521.3" r="1.1"/>
<circle cx="335.3" cy="521.6" r="1.1"/>
<circle cx="335.5" cy="519.4" r="1.1"/>
<circle cx="335.8" cy="522.0" r="1.1"/>
<circle cx="336.1" cy="521.1" r="1.1"/>
<circle cx="336.4" cy="519.3" r="1.1"/>
<circle cx="336.7" cy="519.0" r="1.1"/>
<circle cx="336.9" cy="523.3" r="1.1"/>
<circle cx="337.2" cy="520.1" r="1.1"/>
<circle cx="337.5" cy="518.2" r="1.1"/>
<circle cx="337.8" cy="519.2" r="1.1"/>
<circle cx="338.1" cy="521.4" r="1.1"/>
<circle cx="338.4" cy="522.0" r="1.1"/>
<circle cx="338.6" cy="521.6" r="1.1"/>
<circle cx="338.9" cy="522.9" r="1.1"/>
<circle cx="339.2" cy="521.7" r="1.1"/>
<circle cx="339.5" cy="521.7" r="1.1"/>
<circle cx="339.8" cy="521.7" r="1.1"/>
<circle cx="340.0" cy="519.8" r="1.1"/>
<circle cx="340.3" cy="521.9" r="1.1"/>
<circle cx="340.6" cy="523.8" r="1.1"/>
<circle cx="340.9" cy="520.2" r="1.1"/>
<circle cx="341.2" cy="523.4" r="1.1"/>
<circle cx="341.4" cy="522.5" r="1.1"/>
<circle cx="341.7" cy="522.1" r="1.1"/>
<circle cx="342.0" cy="522.5" r="1.1"/>
<circle cx="342.3" cy="523.6" r="1.1"/>
<circle cx="342.6" cy="522.5" r="1.1"/>
<circle cx="342.8" cy="518.9" r="1.1"/>
<circle cx="343.1" cy="523.2" r="1.1"/>
<circle cx="343.4" cy="522.5" r="1.1"/>
<circle cx="343.7" cy="520.7" r="1.1"/>
<circle cx="344.0" cy="521.3" r="1.1"/>
<circle cx="344.2" cy="521.3" r="1.1"/>
<circle cx="344.5" cy="521.2" r="1.1"/>
<circle cx="344.8" cy="525.6" r="1.1"/>
<circle cx="345.1" cy="524.0" r="1.1"/>
<circle cx="345.4" cy="522.5" r="1.1"/>
<circle cx="345.7" cy="522.0" r="1.1"/>
<circle cx="345.9" cy="520.8" r="1.1"/>
<circle cx="346.2" cy="522.2" r="1.1"/>
<circle cx="346.5" cy="523.3" r="1.1"/>
<circle cx="346.8" cy="523.0" r="1.1"/>
<circle cx="347.1" cy="523.4" r="1.1"/>
<circle cx="347.3" cy="522.7" r="1.1"/>
<circle cx="347.6" cy="522.1" r="1.1"/>
<circle cx="347.9" cy="523.8" r="1.1"/>
<circle cx="348.2" cy="524.6" r="1.1"/>
<circle cx="348.5" cy="524.7" r="1.1"/>
<circle cx="348.7" cy="521.7" r="1.1"/>
<circle cx="349.0" cy="521.4" r="1.1"/>
<circle cx="349.3" cy="521.9" r="1.1"/>
<circle cx="349.6" cy="522.2" r="1.1"/>
<circle cx="349.9" cy="522.3" r="1.1"/>
<circle cx="350.1" cy="523.7" r="1.1"/>
<circle cx="350.4" cy="522.7" r="1.1"/>
<circle cx="350.7" cy="525.5" r="1.1"/>
<circle cx="351.0" cy="524.2" r="1.1"/>
<circle cx="351.3" cy="525.1" r="1.1"/>
<circle cx="351.5" cy="522.7" r="1.1"/>
<circle cx="351.8" cy="524.9" r="1.1"/>
<circle cx="352.1" cy="524.2" r="1.1"/>
<circle cx="352.4" cy="523.4" r="1.1"/>
<circle cx="352.7" cy="521.9" r="1.1"/>
<circle cx="353.0" cy="525.5" r="1.1"/>
<circle cx="353.2" cy="525.8" r="1.1"/>
<circle cx="353.5" cy="522.9" r="1.1"/>
<circle cx="353.8" cy="526.1" r="1.1"/>
<circle cx="354.1" cy="523.6" r="1.1"/>
<circle cx="354.4" cy="525.4" r="1.1"/>
<circle cx="354.6" cy="524.6" r="1.1"/>
<circle cx="354.9" cy="527.5" r="1.1"/>
<circle cx="355.2" cy="523.4" r="1.1"/>
<circle cx="355.5" cy="525.4" r="1.1"/>
<circle cx="355.8" cy="526.1" r="1.1"/>
<circle cx="356.0" cy="521.2" r="1.1"/>
<circle cx="356.3" cy="523.5" r="1.1"/>
<circle cx="356.6" cy="521.1" r="1.1"/>
<circle cx="356.9" cy="524.1" r="1.1"/>
<circle cx="357.2" cy="525.4" r="1.1"/>
<circle cx="357.4" cy="524.7" r="1.1"/>
<circle cx="357.7" cy="522.2" r="1.1"/>
<circle cx="358.0" cy="525.0" r="1.1"/>
<circle cx="358.3" cy="524.3" r="1.1"/>
<circle cx="358.6" cy="524.2" r="1.1"/>
<circle cx="358.8" cy="526.7" r="1.1"/>
<circle cx="359.1" cy="524.9" r="1.1"/>
<circle cx="359.4" cy="526.1" r="1.1"/>
<circle cx="359.7" cy="527.4" r="1.1"/>
<circle cx="360.0" cy="523.8" r="1.1"/>
<circle cx="360.3" cy="524.2" r="1.1"/>
<circle cx="360.5" cy="525.2" r="1.1"/>
<circle cx="360.8" cy="527.0" r="1.1"/>
<circle cx="361.1" cy="528.9" r="1.1"/>
<circle cx="361.4" cy="524.6" r="1.1"/>
<circle cx="361.7" cy="525.7" r="1.1"/>
<circle cx="361.9" cy="528.5" r="1.1"/>
<circle cx="362.2" cy="525.7" r="1.1"/>
<circle cx="362.5" cy="528.3" r="1.1"/>
<circle cx="362.8" cy="525.7" r="1.1"/>
<circle cx="363.1" cy="525.5" r="1.1"/>
<circle cx="363.3" cy="525.1" r="1.1"/>
<circle cx="363.6" cy="525.4" r="1.1"/>
<circle cx="363.9" cy="525.5" r="1.1"/>
<circle cx="364.2" cy="527.9" r="1.1"/>
<circle cx="364.5" cy="526.6" r="1.1"/>
<circle cx="364.7" cy="526.8" r="1.1"/>
<circle cx="365.0" cy="526.4" r="1.1"/>
<circle cx="365.3" cy="525.5" r="1.1"/>
<circle cx="365.6" cy="525.0" r="1.1"/>
<circle cx="365.9" cy="523.2" r="1.1"/>
<circle cx="366.1" cy="530.0" r="1.1"/>
<circle cx="366.4" cy="525.4" r="1.1"/>
<circle cx="366.7" cy="526.5" r="1.1"/>
<circle cx="367.0" cy="522.3" r="1.1"/>
<circle cx="367.3" cy="524.6" r="1.1"/>
<circle cx="367.6" cy="529.3" r="1.1"/>
<circle cx="367.8" cy="525.6" r="1.1"/>
<circle cx="368.1" cy="527.3" r="1.1"/>
<circle cx="368.4" cy="524.6" r="1.1"/>
<circle cx="368.7" cy="528.3" r="1.1"/>
<circle cx="369.0" cy="526.7" r="1.1"/>
<circle cx="369.2" cy="526.7" r="1.1"/>
<circle cx="369.5" cy="526.7" r="1.1"/>
<circle cx="369.8" cy="527.6" r="1.1"/>
<circle cx="370.1" cy="529.9" r="1.1"/>
<circle cx="370.4" cy="525.8" r="1.1"/>
<circle cx="370.6" cy="524.9" r="1.1"/>
<circle cx="370.9" cy="526.8" r="1.1"/>
<circle cx="371.2" cy="528.6" r="1.1"/>
<circle cx="371.5" cy="526.4" r="1.1"/>
<circle cx="371.8" cy="525.8" r="1.1"/>
<circle cx="372.0" cy="527.2" r="1.1"/>
<circle cx="372.3" cy="526.9" r="1.1"/>
<circle cx="372.6" cy="524.3" r="1.1"/>
<circle cx="372.9" cy="529.0" r="1.1"/>
<circle cx="373.2" cy="528.0" r="1.1"/>
<circle cx="373.5" cy="530.5" r="1.1"/>
<circle cx="373.7" cy="528.3" r="1.1"/>
<circle cx="374.0" cy="528.4" r="1.1"/>
<circle cx="374.3" cy="528.9" r="1.1"/>
<circle cx="374.6" cy="528.4" r="1.1"/>
<circle cx="374.9" cy="523.8" r="1.1"/>
<circle cx="375.1" cy="527.5" r="1.1"/>
<circle cx="375.4" cy="527.4" r="1.1"/>
<circle cx="375.7" cy="523.1" r="1.1"/>
<circle cx="376.0" cy="527.4" r="1.1"/>
<circle cx="376.3" cy="530.5" r="1.1"/>
<circle cx="376.5" cy="526.6" r="1.1"/>
<circle cx="376.8" cy="529.1" r="1.1"/>
<circle cx="377.1" cy="524.3" r="1.1"/>
<circle cx="377.4" cy="529.8" r="1.1"/>
<circle cx="377.7" cy="528.5" r="1.1"/>
<circle cx="377.9" cy="530.5" r="1.1"/>
<circle cx="378.2" cy="527.3" r="1.1"/>
<circle cx="378.5" cy="529.5" r="1.1"/>
<circle cx="378.8" cy="527.7" r="1.1"/>
<circle cx="379.1" cy="528.3" r="1.1"/>
<circle cx="379.3" cy="528.8" r="1.1"/>
<circle cx="379.6" cy="525.9" r="1.1"/>
<circle cx="379.9" cy="525.9" r="1.1"/>
<circle cx="380.2" cy="527.6" r="1.1"/>
<circle cx="380.5" cy="529.5" r="1.1"/>
<circle cx="380.8" cy="529.8" r="1.1"/>
<circle cx="381.0" cy="527.3" r="1.1"/>
<circle cx="381.3" cy="523.6" r="1.1"/>
<circle cx="381.6" cy="528.7" r="1.1"/>
<circle cx="381.9" cy="529.4" r="1.1"/>
<circle cx="382.2" cy="529.3" r="1.1"/>
<circle cx="382.4" cy="530.0" r="1.1"/>
<circle cx="382.7" cy="529.8" r="1.1"/>
<circle cx="383.0" cy="528.4" r="1.1"/>
<circle cx="383.3" cy="525.3" r="1.1"/>
<circle cx="383.6" cy="528.1" r="1.1"/>
<circle cx="383.8" cy="529.1" r="1.1"/>
<circle cx="384.1" cy="531.2" r="1.1"/>
<circle cx="384.4" cy="527.7" r="1.1"/>
<circle cx="384.7" cy="528.2" r="1.1"/>
<circle cx="385.0" cy="530.6" r="1.1"/>
<circle cx="385.2" cy="530.3" r="1.1"/>
<circle cx="385.5" cy="528.3" r="1.1"/>
<circle cx="385.8" cy="526.3" r="1.1"/>
<circle cx="386.1" cy="527.1" r="1.1"/>
<circle cx="386.4" cy="527.9" r="1.1"/>
<circle cx="386.6" cy="529.0" r="1.1"/>
<circle cx="386.9" cy="527.8" r="1.1"/>
<circle cx="387.2" cy="528.4" r="1.1"/>
<circle cx="387.5" cy="524.2" r="1.1"/>
<circle cx="387.8" cy="530.7" r="1.1"/>
<circle cx="388.1" cy="529.2" r="1.1"/>
<circle cx="388.3" cy="526.0" r="1.1"/>
<circle cx="388.6" cy="529.1" r="1.1"/>
<circle cx="388.9" cy="525.8" r="1.1"/>
<circle cx="389.2" cy="528.7" r="1.1"/>
<circle cx="389.5" cy="528.3" r="1.1"/>
<circle cx="389.7" cy="529.4" r="1.1"/>
<circle cx="390.0" cy="531.4" r="1.1"/>
<circle cx="390.3" cy="530.6" r="1.1"/>
<circle cx="390.6" cy="524.4" r="1.1"/>
<circle cx="390.9" cy="527.5" r="1.1"/>
<circle cx="391.1" cy="527.6" r="1.1"/>
<circle cx="391.4" cy="526.9" r="1.1"/>
<circle cx="391.7" cy="527.7" r="1.1"/>
<circle cx="392.0" cy="526.8" r="1.1"/>
<circle cx="392.3" cy="529.4" r="1.1"/>
<circle cx="392.5" cy="529.3" r="1.1"/>
<circle cx="392.8" cy="527.0" r="1.1"/>
<circle cx="393.1" cy="529.7" r="1.1"/>
<circle cx="393.4" cy="531.6" r="1.1"/>
<circle cx="393.7" cy="529.5" r="1.1"/>
<circle cx="393.9" cy="530.1" r="1.1"/>
<circle cx="394.2" cy="527.8" r="1.1"/>
<circle cx="394.5" cy="530.5" r="1.1"/>
<circle cx="394.8" cy="531.2" r="1.1"/>
<circle cx="395.1" cy="529.8" r="1.1"/>
<circle cx="395.4" cy="526.0" r="1.1"/>
<circle cx="395.6" cy="529.3" r="1.1"/>
<circle cx="395.9" cy="528.9" r="1.1"/>
<circle cx="396.2" cy="529.2" r="1.1"/>
<circle cx="396.5" cy="528.7" r="1.1"/>
<circle cx="396.8" cy="527.4" r="1.1"/>
<circle cx="397.0" cy="526.5" r="1.1"/>
<circle cx="397.3" cy="532.7" r="1.1"/>
<circle cx="397.6" cy="526.6" r="1.1"/>
<circle cx="397.9" cy="529.4" r="1.1"/>
<circle cx="398.2" cy="530.1" r="1.1"/>
<circle cx="398.4" cy="524.9" r="1.1"/>
<circle cx="398.7" cy="529.8" r="1.1"/>
<circle cx="399.0" cy="525.5" r="1.1"/>
<circle cx="399.3" cy="527.5" r="1.1"/>
<circle cx="399.6" cy="531.6" r="1.1"/>
<circle cx="399.8" cy="528.5" r="1.1"/>
<circle cx="400.1" cy="528.1" r="1.1"/>
<circle cx="400.4" cy="529.9" r="1.1"/>
<circle cx="400.7" cy="534.2" r="1.1"/>
<circle cx="401.0" cy="530.4" r="1.1"/>
<circle cx="401.2" cy="530.1" r="1.1"/>
<circle cx="401.5" cy="532.0" r="1.1"/>
<circle cx="401.8" cy="525.9" r="1.1"/>
<circle cx="402.1" cy="530.2" r="1.1"/>
<circle cx="402.4" cy="530.6" r="1.1"/>
<circle cx="402.7" cy="530.4" r="1.1"/>
<circle cx="402.9" cy="531.4" r="1.1"/>
<circle cx="403.2" cy="531.5" r="1.1"/>
<circle cx="403.5" cy="529.7" r="1.1"/>
<circle cx="403.8" cy="529.2" r="1.1"/>
<circle cx="404.1" cy="531.0" r="1.1"/>
<circle cx="404.3" cy="530.1" r="1.1"/>
<circle cx="404.6" cy="532.9" r="1.1"/>
<circle cx="404.9" cy="528.9" r="1.1"/>
<circle cx="405.2" cy="531.6" r="1.1"/>
<circle cx="405.5" cy="529.6" r="1.1"/>
<circle cx="405.7" cy="532.0" r="1.1"/>
<circle cx="406.0" cy="531.2" r="1.1"/>
<circle cx="406.3" cy="529.7" r="1.1"/>
<circle cx="406.6" cy="532.7" r="1.1"/>
<circle cx="406.9" cy="525.5" r="1.1"/>
<circle cx="407.1" cy="530.3" r="1.1"/>
<circle cx="407.4" cy="530.4" r="1.1"/>
<circle cx="407.7" cy="531.8" r="1.1"/>
<circle cx="408.0" cy="526.9" r="1.1"/>
<circle cx="408.3" cy="527.3" r="1.1"/>
<circle cx="408.6" cy="529.7" r="1.1"/>
<circle cx="408.8" cy="533.2" r="1.1"/>
<circle cx="409.1" cy="531.4" r="1.1"/>
<circle cx="409.4" cy="529.1" r="1.1"/>
<circle cx="409.7" cy="531.5" r="1.1"/>
<circle cx="410.0" cy="532.9" r="1.1"/>
<circle cx="410.2" cy="533.0" r="1.1"/>
<circle cx="410.5" cy="532.1" r="1.1"/>
<circle cx="410.8" cy="530.4" r="1.1"/>
<circle cx="411.1" cy="531.9" r="1.1"/>
<circle cx="411.4" cy="530.5" r="1.1"/>
<circle cx="411.6" cy="525.8" r="1.1"/>
<circle cx="411.9" cy="526.8" r="1.1"/>
<circle cx="412.2" cy="532.8" r="1.1"/>
<circle cx="412.5" cy="529.9" r="1.1"/>
<circle cx="412.8" cy="530.5" r="1.1"/>
<circle cx="413.0" cy="531.0" r="1.1"/>
<circle cx="413.3" cy="528.4" r="1.1"/>
<circle cx="413.6" cy="531.4" r="1.1"/>
<circle cx="413.9" cy="531.4" r="1.1"/>
<circle cx="414.2" cy="531.6" r="1.1"/>
<circle cx="414.4" cy="531.0" r="1.1"/>
<circle cx="414.7" cy="528.0" r="1.1"/>
<circle cx="415.0" cy="529.1" r="1.1"/>
<circle cx="415.3" cy="533.8" r="1.1"/>
<circle cx="415.6" cy="531.8" r="1.1"/>
<circle cx="415.9" cy="532.6" r="1.1"/>
<circle cx="416.1" cy="529.1" r="1.1"/>
<circle cx="416.4" cy="530.5" r="1.1"/>
<circle cx="416.7" cy="529.0" r="1.1"/>
<circle cx="417.0" cy="531.1" r="1.1"/>
<circle cx="417.3" cy="535.2" r="1.1"/>
<circle cx="417.5" cy="530.0" r="1.1"/>
<circle cx="417.8" cy="530.6" r="1.1"/>
<circle cx="418.1" cy="530.0" r="1.1"/>
<circle cx="418.4" cy="534.0" r="1.1"/>
<circle cx="418.7" cy="530.9" r="1.1"/>
<circle cx="418.9" cy="532.7" r="1.1"/>
<circle cx="419.2" cy="532.7" r="1.1"/>
<circle cx="419.5" cy="530.4" r="1.1"/>
<circle cx="419.8" cy="530.4" r="1.1"/>
<circle cx="420.1" cy="533.2" r="1.1"/>
<circle cx="420.3" cy="535.0" r="1.1"/>
<circle cx="420.6" cy="536.2" r="1.1"/>
<circle cx="420.9" cy="532.6" r="1.1"/>
<circle cx="421.2" cy="528.8" r="1.1"/>
<circle cx="421.5" cy="531.5" r="1.1"/>
<circle cx="421.7" cy="536.3" r="1.1"/>
<circle cx="422.0" cy="533.3" r="1.1"/>
<circle cx="422.3" cy="530.5" r="1.1"/>
<circle cx="422.6" cy="527.7" r="1.1"/>
<circle cx="422.9" cy="528.9" r="1.1"/>
<circle cx="423.2" cy="530.7" r="1.1"/>
<circle cx="423.4" cy="531.1" r="1.1"/>
<circle cx="423.7" cy="533.9" r="1.1"/>
<circle cx="424.0" cy="532.6" r="1.1"/>
<circle cx="424.3" cy="532.3" r="1.1"/>
<circle cx="424.6" cy="533.3" r="1.1"/>
<circle cx="424.8" cy="531.5" r="1.1"/>
<circle cx="425.1" cy="532.5" r="1.1"/>
<circle cx="425.4" cy="530.9" r="1.1"/>
<circle cx="425.7" cy="528.5" r="1.1"/>
<circle cx="426.0" cy="530.0" r="1.1"/>
<circle cx="426.2" cy="530.8" r="1.1"/>
<circle cx="426.5" cy="532.3" r="1.1"/>
<circle cx="426.8" cy="535.2" r="1.1"/>
<circle cx="427.1" cy="532.1" r="1.1"/>
<circle cx="427.4" cy="530.6" r="1.1"/>
<circle cx="427.6" cy="534.1" r="1.1"/>
<circle cx="427.9" cy="529.0" r="1.1"/>
<circle cx="428.2" cy="532.7" r="1.1"/>
<circle cx="428.5" cy="531.1" r="1.1"/>
<circle cx="428.8" cy="532.7" r="1.1"/>
<circle cx="429.0" cy="534.8" r="1.1"/>
<circle cx="429.3" cy="527.3" r="1.1"/>
<circle cx="429.6" cy="534.7" r="1.1"/>
<circle cx="429.9" cy="529.9" r="1.1"/>
<circle cx="430.2" cy="533.3" r="1.1"/>
<circle cx="430.5" cy="531.4" r="1.1"/>
<circle cx="430.7" cy="533.9" r="1.1"/>
<circle cx="431.0" cy="533.1" r="1.1"/>
<circle cx="431.3" cy="530.0" r="1.1"/>
<circle cx="431.6" cy="527.7" r="1.1"/>
<circle cx="431.9" cy="534.1" r="1.1"/>
<circle cx="432.1" cy="532.2" r="1.1"/>
<circle cx="432.4" cy="530.1" r="1.1"/>
<circle cx="432.7" cy="533.7" r="1.1"/>
<circle cx="433.0" cy="530.6" r="1.1"/>
<circle cx="433.3" cy="534.1" r="1.1"/>
<circle cx="433.5" cy="530.9" r="1.1"/>
<circle cx="433.8" cy="531.3" r="1.1"/>
<circle cx="434.1" cy="529.6" r="1.1"/>
<circle cx="434.4" cy="531.5" r="1.1"/>
<circle cx="434.7" cy="535.2" r="1.1"/>
<circle cx="434.9" cy="530.9" r="1.1"/>
<circle cx="435.2" cy="535.0" r="1.1"/>
<circle cx="435.5" cy="530.7" r="1.1"/>
<circle cx="435.8" cy="529.0" r="1.1"/>
<circle cx="436.1" cy="531.1" r="1.1"/>
<circle cx="436.3" cy="533.8" r="1.1"/>
<circle cx="436.6" cy="529.8" r="1.1"/>
<circle cx="436.9" cy="532.2" r="1.1"/>
<circle cx="437.2" cy="535.5" r="1.1"/>
<circle cx="437.5" cy="533.5" r="1.1"/>
<circle cx="437.8" cy="529.3" r="1.1"/>
<circle cx="438.0" cy="533.4" r="1.1"/>
<circle cx="438.3" cy="532.4" r="1.1"/>
<circle cx="438.6" cy="533.5" r="1.1"/>
<circle cx="438.9" cy="536.7" r="1.1"/>
<circle cx="439.2" cy="534.0" r="1.1"/>
<circle cx="439.4" cy="532.0" r="1.1"/>
<circle cx="439.7" cy="532.3" r="1.1"/>
<circle cx="440.0" cy="533.3" r="1.1"/>
<circle cx="440.3" cy="537.9" r="1.1"/>
<circle cx="440.6" cy="530.0" r="1.1"/>
<circle cx="440.8" cy="531.2" r="1.1"/>
<circle cx="441.1" cy="530.5" r="1.1"/>
<circle cx="441.4" cy="529.9" r="1.1"/>
<circle cx="441.7" cy="534.0" r="1.1"/>
<circle cx="442.0" cy="534.4" r="1.1"/>
<circle cx="442.2" cy="532.3" r="1.1"/>
<circle cx="442.5" cy="529.0" r="1.1"/>
<circle cx="442.8" cy="537.1" r="1.1"/>
<circle cx="443.1" cy="533.6" r="1.1"/>
<circle cx="443.4" cy="534.8" r="1.1"/>
<circle cx="443.7" cy="531.8" r="1.1"/>
<circle cx="443.9" cy="529.6" r="1.1"/>
<circle cx="444.2" cy="533.9" r="1.1"/>
<circle cx="444.5" cy="536.2" r="1.1"/>
<circle cx="444.8" cy="533.1" r="1.1"/>
</g>
<rect x="257.6" y="467.4" width="187.2" height="68" fill="none" stroke="#333" stroke-width="1.1"/>
<line x1="257.6" y1="472.5" x2="260.6" y2="472.5" stroke="#333" stroke-width="0.9"/>
<line x1="257.6" y1="495.9" x2="260.6" y2="495.9" stroke="#333" stroke-width="0.9"/>
<line x1="257.6" y1="519.3" x2="260.6" y2="519.3" stroke="#333" stroke-width="0.9"/>
<line x1="257.6" y1="488.86" x2="259.2" y2="488.86" stroke="#333" stroke-width="0.7"/>
<line x1="257.6" y1="484.74" x2="259.2" y2="484.74" stroke="#333" stroke-width="0.7"/>
<line x1="257.6" y1="481.81" x2="259.2" y2="481.81" stroke="#333" stroke-width="0.7"/>
<line x1="257.6" y1="479.54" x2="259.2" y2="479.54" stroke="#333" stroke-width="0.7"/>
<line x1="257.6" y1="477.69" x2="259.2" y2="477.69" stroke="#333" stroke-width="0.7"/>
<line x1="257.6" y1="476.12" x2="259.2" y2="476.12" stroke="#333" stroke-width="0.7"/>
<line x1="257.6" y1="474.77" x2="259.2" y2="474.77" stroke="#333" stroke-width="0.7"/>
<line x1="257.6" y1="473.57" x2="259.2" y2="473.57" stroke="#333" stroke-width="0.7"/>
<line x1="257.6" y1="512.26" x2="259.2" y2="512.26" stroke="#333" stroke-width="0.7"/>
<line x1="257.6" y1="508.14" x2="259.2" y2="508.14" stroke="#333" stroke-width="0.7"/>
<line x1="257.6" y1="505.21" x2="259.2" y2="505.21" stroke="#333" stroke-width="0.7"/>
<line x1="257.6" y1="502.94" x2="259.2" y2="502.94" stroke="#333" stroke-width="0.7"/>
<line x1="257.6" y1="501.09" x2="259.2" y2="501.09" stroke="#333" stroke-width="0.7"/>
<line x1="257.6" y1="499.52" x2="259.2" y2="499.52" stroke="#333" stroke-width="0.7"/>
<line x1="257.6" y1="498.17" x2="259.2" y2="498.17" stroke="#333" stroke-width="0.7"/>
<line x1="257.6" y1="496.97" x2="259.2" y2="496.97" stroke="#333" stroke-width="0.7"/>
<line x1="257.6" y1="531.54" x2="259.2" y2="531.54" stroke="#333" stroke-width="0.7"/>
<line x1="257.6" y1="528.61" x2="259.2" y2="528.61" stroke="#333" stroke-width="0.7"/>
<line x1="257.6" y1="526.34" x2="259.2" y2="526.34" stroke="#333" stroke-width="0.7"/>
<line x1="257.6" y1="524.49" x2="259.2" y2="524.49" stroke="#333" stroke-width="0.7"/>
<line x1="257.6" y1="522.92" x2="259.2" y2="522.92" stroke="#333" stroke-width="0.7"/>
<line x1="257.6" y1="521.57" x2="259.2" y2="521.57" stroke="#333" stroke-width="0.7"/>
<line x1="257.6" y1="520.37" x2="259.2" y2="520.37" stroke="#333" stroke-width="0.7"/>
<line x1="295.04" y1="535.4" x2="295.04" y2="532.4" stroke="#333" stroke-width="0.9"/>
<line x1="332.48" y1="535.4" x2="332.48" y2="532.4" stroke="#333" stroke-width="0.9"/>
<line x1="369.92" y1="535.4" x2="369.92" y2="532.4" stroke="#333" stroke-width="0.9"/>
<line x1="407.36" y1="535.4" x2="407.36" y2="532.4" stroke="#333" stroke-width="0.9"/>
<line x1="276.32" y1="535.4" x2="276.32" y2="533.7" stroke="#333" stroke-width="0.9"/>
<line x1="313.76" y1="535.4" x2="313.76" y2="533.7" stroke="#333" stroke-width="0.9"/>
<line x1="351.2" y1="535.4" x2="351.2" y2="533.7" stroke="#333" stroke-width="0.9"/>
<line x1="388.64" y1="535.4" x2="388.64" y2="533.7" stroke="#333" stroke-width="0.9"/>
<line x1="426.08" y1="535.4" x2="426.08" y2="533.7" stroke="#333" stroke-width="0.9"/>
<text x="252.2" y="476.2" font-size="10.6" text-anchor="end" fill="#1a1a1a">10<tspan font-size="7.5" dy="-4.4">0</tspan></text>
<text x="252.2" y="499.6" font-size="10.6" text-anchor="end" fill="#1a1a1a">10<tspan font-size="7.5" dy="-4.4">−1</tspan></text>
<text x="252.2" y="523" font-size="10.6" text-anchor="end" fill="#1a1a1a">10<tspan font-size="7.5" dy="-4.4">−2</tspan></text>
<clipPath id="cf22"><rect x="257.6" y="540.2" width="187.2" height="67.8"/></clipPath>
<g clip-path="url(#cf22)" fill="none" stroke="#4cba4a" stroke-width="0.55">
<circle cx="257.6" cy="544.2" r="1.1"/>
<circle cx="257.8" cy="544.9" r="1.1"/>
<circle cx="257.9" cy="544.3" r="1.1"/>
<circle cx="258.1" cy="545.4" r="1.1"/>
<circle cx="258.3" cy="545.9" r="1.1"/>
<circle cx="258.4" cy="546.1" r="1.1"/>
<circle cx="258.6" cy="546.9" r="1.1"/>
<circle cx="258.8" cy="547.3" r="1.1"/>
<circle cx="258.9" cy="547.1" r="1.1"/>
<circle cx="259.1" cy="547.9" r="1.1"/>
<circle cx="259.3" cy="547.6" r="1.1"/>
<circle cx="259.5" cy="548.4" r="1.1"/>
<circle cx="259.6" cy="549.4" r="1.1"/>
<circle cx="259.8" cy="549.5" r="1.1"/>
<circle cx="260.0" cy="549.5" r="1.1"/>
<circle cx="260.1" cy="550.3" r="1.1"/>
<circle cx="260.3" cy="549.7" r="1.1"/>
<circle cx="260.5" cy="550.1" r="1.1"/>
<circle cx="260.6" cy="549.8" r="1.1"/>
<circle cx="260.8" cy="550.8" r="1.1"/>
<circle cx="261.0" cy="550.8" r="1.1"/>
<circle cx="261.1" cy="550.6" r="1.1"/>
<circle cx="261.3" cy="550.8" r="1.1"/>
<circle cx="261.5" cy="551.8" r="1.1"/>
<circle cx="261.6" cy="550.9" r="1.1"/>
<circle cx="261.8" cy="552.0" r="1.1"/>
<circle cx="262.0" cy="551.4" r="1.1"/>
<circle cx="262.1" cy="552.3" r="1.1"/>
<circle cx="262.3" cy="552.5" r="1.1"/>
<circle cx="262.5" cy="553.1" r="1.1"/>
<circle cx="262.7" cy="552.8" r="1.1"/>
<circle cx="262.8" cy="551.9" r="1.1"/>
<circle cx="263.0" cy="553.3" r="1.1"/>
<circle cx="263.2" cy="552.5" r="1.1"/>
<circle cx="263.3" cy="552.7" r="1.1"/>
<circle cx="263.5" cy="553.7" r="1.1"/>
<circle cx="263.7" cy="553.1" r="1.1"/>
<circle cx="263.8" cy="553.2" r="1.1"/>
<circle cx="264.0" cy="554.1" r="1.1"/>
<circle cx="264.2" cy="554.4" r="1.1"/>
<circle cx="264.3" cy="553.7" r="1.1"/>
<circle cx="264.5" cy="554.2" r="1.1"/>
<circle cx="264.7" cy="553.5" r="1.1"/>
<circle cx="264.8" cy="554.4" r="1.1"/>
<circle cx="265.0" cy="555.4" r="1.1"/>
<circle cx="265.2" cy="554.9" r="1.1"/>
<circle cx="265.4" cy="555.6" r="1.1"/>
<circle cx="265.5" cy="554.8" r="1.1"/>
<circle cx="265.7" cy="554.9" r="1.1"/>
<circle cx="265.9" cy="555.6" r="1.1"/>
<circle cx="266.0" cy="556.0" r="1.1"/>
<circle cx="266.2" cy="555.2" r="1.1"/>
<circle cx="266.4" cy="556.0" r="1.1"/>
<circle cx="266.5" cy="555.3" r="1.1"/>
<circle cx="266.7" cy="556.5" r="1.1"/>
<circle cx="266.9" cy="556.2" r="1.1"/>
<circle cx="267.0" cy="556.5" r="1.1"/>
<circle cx="267.2" cy="556.8" r="1.1"/>
<circle cx="267.4" cy="555.4" r="1.1"/>
<circle cx="267.5" cy="555.7" r="1.1"/>
<circle cx="267.7" cy="557.0" r="1.1"/>
<circle cx="267.9" cy="556.3" r="1.1"/>
<circle cx="268.0" cy="557.8" r="1.1"/>
<circle cx="268.2" cy="556.3" r="1.1"/>
<circle cx="268.4" cy="556.5" r="1.1"/>
<circle cx="268.6" cy="557.3" r="1.1"/>
<circle cx="268.7" cy="557.4" r="1.1"/>
<circle cx="268.9" cy="557.2" r="1.1"/>
<circle cx="269.1" cy="557.3" r="1.1"/>
<circle cx="269.4" cy="557.8" r="1.1"/>
<circle cx="269.6" cy="558.2" r="1.1"/>
<circle cx="269.8" cy="558.0" r="1.1"/>
<circle cx="270.0" cy="558.2" r="1.1"/>
<circle cx="270.3" cy="557.7" r="1.1"/>
<circle cx="270.5" cy="558.2" r="1.1"/>
<circle cx="270.7" cy="558.3" r="1.1"/>
<circle cx="271.0" cy="559.4" r="1.1"/>
<circle cx="271.2" cy="558.9" r="1.1"/>
<circle cx="271.4" cy="559.0" r="1.1"/>
<circle cx="271.7" cy="559.2" r="1.1"/>
<circle cx="271.9" cy="559.1" r="1.1"/>
<circle cx="272.1" cy="559.3" r="1.1"/>
<circle cx="272.4" cy="560.1" r="1.1"/>
<circle cx="272.6" cy="558.9" r="1.1"/>
<circle cx="272.8" cy="559.1" r="1.1"/>
<circle cx="273.1" cy="560.0" r="1.1"/>
<circle cx="273.3" cy="559.5" r="1.1"/>
<circle cx="273.5" cy="560.4" r="1.1"/>
<circle cx="273.8" cy="560.7" r="1.1"/>
<circle cx="274.0" cy="560.3" r="1.1"/>
<circle cx="274.2" cy="559.4" r="1.1"/>
<circle cx="274.5" cy="560.5" r="1.1"/>
<circle cx="274.7" cy="561.4" r="1.1"/>
<circle cx="274.9" cy="560.5" r="1.1"/>
<circle cx="275.2" cy="561.1" r="1.1"/>
<circle cx="275.4" cy="561.3" r="1.1"/>
<circle cx="275.6" cy="560.8" r="1.1"/>
<circle cx="275.9" cy="562.1" r="1.1"/>
<circle cx="276.1" cy="562.2" r="1.1"/>
<circle cx="276.3" cy="562.2" r="1.1"/>
<circle cx="276.5" cy="560.9" r="1.1"/>
<circle cx="276.8" cy="561.5" r="1.1"/>
<circle cx="277.0" cy="562.1" r="1.1"/>
<circle cx="277.2" cy="562.2" r="1.1"/>
<circle cx="277.5" cy="561.6" r="1.1"/>
<circle cx="277.7" cy="561.3" r="1.1"/>
<circle cx="277.9" cy="562.6" r="1.1"/>
<circle cx="278.2" cy="562.1" r="1.1"/>
<circle cx="278.4" cy="561.2" r="1.1"/>
<circle cx="278.6" cy="562.2" r="1.1"/>
<circle cx="278.9" cy="562.8" r="1.1"/>
<circle cx="279.1" cy="562.6" r="1.1"/>
<circle cx="279.3" cy="562.8" r="1.1"/>
<circle cx="279.6" cy="562.6" r="1.1"/>
<circle cx="279.8" cy="562.9" r="1.1"/>
<circle cx="280.0" cy="563.5" r="1.1"/>
<circle cx="280.3" cy="563.4" r="1.1"/>
<circle cx="280.5" cy="563.2" r="1.1"/>
<circle cx="280.7" cy="564.0" r="1.1"/>
<circle cx="281.0" cy="563.6" r="1.1"/>
<circle cx="281.2" cy="564.3" r="1.1"/>
<circle cx="281.4" cy="563.1" r="1.1"/>
<circle cx="281.7" cy="563.1" r="1.1"/>
<circle cx="281.9" cy="564.6" r="1.1"/>
<circle cx="282.1" cy="563.7" r="1.1"/>
<circle cx="282.4" cy="564.2" r="1.1"/>
<circle cx="282.6" cy="564.4" r="1.1"/>
<circle cx="282.8" cy="564.7" r="1.1"/>
<circle cx="283.0" cy="564.5" r="1.1"/>
<circle cx="283.3" cy="564.2" r="1.1"/>
<circle cx="283.5" cy="565.6" r="1.1"/>
<circle cx="283.7" cy="564.4" r="1.1"/>
<circle cx="284.0" cy="565.3" r="1.1"/>
<circle cx="284.2" cy="565.9" r="1.1"/>
<circle cx="284.4" cy="565.4" r="1.1"/>
<circle cx="284.7" cy="565.0" r="1.1"/>
<circle cx="284.9" cy="565.6" r="1.1"/>
<circle cx="285.1" cy="565.5" r="1.1"/>
<circle cx="285.4" cy="566.0" r="1.1"/>
<circle cx="285.6" cy="566.2" r="1.1"/>
<circle cx="285.8" cy="565.3" r="1.1"/>
<circle cx="286.1" cy="566.7" r="1.1"/>
<circle cx="286.3" cy="565.6" r="1.1"/>
<circle cx="286.5" cy="566.1" r="1.1"/>
<circle cx="286.8" cy="566.6" r="1.1"/>
<circle cx="287.0" cy="566.6" r="1.1"/>
<circle cx="287.2" cy="566.8" r="1.1"/>
<circle cx="287.5" cy="566.7" r="1.1"/>
<circle cx="287.7" cy="566.8" r="1.1"/>
<circle cx="287.9" cy="567.0" r="1.1"/>
<circle cx="288.2" cy="568.3" r="1.1"/>
<circle cx="288.4" cy="568.5" r="1.1"/>
<circle cx="288.6" cy="567.0" r="1.1"/>
<circle cx="288.9" cy="567.7" r="1.1"/>
<circle cx="289.1" cy="567.8" r="1.1"/>
<circle cx="289.3" cy="567.7" r="1.1"/>
<circle cx="289.5" cy="568.4" r="1.1"/>
<circle cx="289.8" cy="566.7" r="1.1"/>
<circle cx="290.0" cy="567.9" r="1.1"/>
<circle cx="290.2" cy="568.1" r="1.1"/>
<circle cx="290.5" cy="568.7" r="1.1"/>
<circle cx="290.7" cy="567.6" r="1.1"/>
<circle cx="290.9" cy="567.8" r="1.1"/>
<circle cx="291.2" cy="567.4" r="1.1"/>
<circle cx="291.4" cy="567.9" r="1.1"/>
<circle cx="291.6" cy="569.1" r="1.1"/>
<circle cx="291.9" cy="569.5" r="1.1"/>
<circle cx="292.1" cy="567.8" r="1.1"/>
<circle cx="292.3" cy="569.3" r="1.1"/>
<circle cx="292.6" cy="569.0" r="1.1"/>
<circle cx="292.8" cy="569.2" r="1.1"/>
<circle cx="293.0" cy="568.8" r="1.1"/>
<circle cx="293.3" cy="568.9" r="1.1"/>
<circle cx="293.5" cy="570.0" r="1.1"/>
<circle cx="293.7" cy="569.9" r="1.1"/>
<circle cx="294.0" cy="570.7" r="1.1"/>
<circle cx="294.2" cy="569.3" r="1.1"/>
<circle cx="294.4" cy="569.8" r="1.1"/>
<circle cx="294.7" cy="571.0" r="1.1"/>
<circle cx="294.9" cy="569.2" r="1.1"/>
<circle cx="295.1" cy="570.0" r="1.1"/>
<circle cx="295.4" cy="570.8" r="1.1"/>
<circle cx="295.6" cy="570.5" r="1.1"/>
<circle cx="295.8" cy="570.7" r="1.1"/>
<circle cx="296.0" cy="570.3" r="1.1"/>
<circle cx="296.3" cy="570.3" r="1.1"/>
<circle cx="296.5" cy="571.0" r="1.1"/>
<circle cx="296.7" cy="570.4" r="1.1"/>
<circle cx="297.0" cy="572.3" r="1.1"/>
<circle cx="297.2" cy="571.1" r="1.1"/>
<circle cx="297.4" cy="570.5" r="1.1"/>
<circle cx="297.7" cy="570.4" r="1.1"/>
<circle cx="297.9" cy="570.6" r="1.1"/>
<circle cx="298.1" cy="572.0" r="1.1"/>
<circle cx="298.4" cy="572.5" r="1.1"/>
<circle cx="298.6" cy="571.6" r="1.1"/>
<circle cx="298.8" cy="570.0" r="1.1"/>
<circle cx="299.1" cy="571.4" r="1.1"/>
<circle cx="299.3" cy="572.2" r="1.1"/>
<circle cx="299.5" cy="573.0" r="1.1"/>
<circle cx="299.8" cy="571.7" r="1.1"/>
<circle cx="300.0" cy="572.3" r="1.1"/>
<circle cx="300.2" cy="571.7" r="1.1"/>
<circle cx="300.5" cy="572.0" r="1.1"/>
<circle cx="300.7" cy="573.8" r="1.1"/>
<circle cx="300.9" cy="572.4" r="1.1"/>
<circle cx="301.2" cy="571.8" r="1.1"/>
<circle cx="301.4" cy="572.9" r="1.1"/>
<circle cx="301.6" cy="573.4" r="1.1"/>
<circle cx="301.9" cy="573.5" r="1.1"/>
<circle cx="302.1" cy="573.7" r="1.1"/>
<circle cx="302.3" cy="571.3" r="1.1"/>
<circle cx="302.5" cy="571.9" r="1.1"/>
<circle cx="302.8" cy="573.4" r="1.1"/>
<circle cx="303.0" cy="572.0" r="1.1"/>
<circle cx="303.2" cy="573.9" r="1.1"/>
<circle cx="303.5" cy="573.6" r="1.1"/>
<circle cx="303.7" cy="573.9" r="1.1"/>
<circle cx="303.9" cy="573.5" r="1.1"/>
<circle cx="304.2" cy="573.0" r="1.1"/>
<circle cx="304.4" cy="572.0" r="1.1"/>
<circle cx="304.6" cy="573.1" r="1.1"/>
<circle cx="304.9" cy="573.8" r="1.1"/>
<circle cx="305.1" cy="573.7" r="1.1"/>
<circle cx="305.3" cy="574.1" r="1.1"/>
<circle cx="305.6" cy="573.7" r="1.1"/>
<circle cx="305.8" cy="574.7" r="1.1"/>
<circle cx="306.0" cy="573.9" r="1.1"/>
<circle cx="306.3" cy="573.9" r="1.1"/>
<circle cx="306.5" cy="573.6" r="1.1"/>
<circle cx="306.7" cy="575.0" r="1.1"/>
<circle cx="307.0" cy="574.1" r="1.1"/>
<circle cx="307.2" cy="574.3" r="1.1"/>
<circle cx="307.4" cy="575.2" r="1.1"/>
<circle cx="307.7" cy="576.2" r="1.1"/>
<circle cx="307.9" cy="575.2" r="1.1"/>
<circle cx="308.1" cy="574.1" r="1.1"/>
<circle cx="308.3" cy="575.1" r="1.1"/>
<circle cx="308.6" cy="573.3" r="1.1"/>
<circle cx="308.8" cy="574.6" r="1.1"/>
<circle cx="309.0" cy="575.7" r="1.1"/>
<circle cx="309.3" cy="575.3" r="1.1"/>
<circle cx="309.5" cy="574.9" r="1.1"/>
<circle cx="309.7" cy="575.0" r="1.1"/>
<circle cx="310.0" cy="575.6" r="1.1"/>
<circle cx="310.2" cy="575.1" r="1.1"/>
<circle cx="310.4" cy="573.9" r="1.1"/>
<circle cx="310.7" cy="574.9" r="1.1"/>
<circle cx="310.9" cy="575.6" r="1.1"/>
<circle cx="311.1" cy="576.2" r="1.1"/>
<circle cx="311.4" cy="577.3" r="1.1"/>
<circle cx="311.6" cy="575.8" r="1.1"/>
<circle cx="311.8" cy="576.3" r="1.1"/>
<circle cx="312.1" cy="576.1" r="1.1"/>
<circle cx="312.3" cy="576.6" r="1.1"/>
<circle cx="312.5" cy="575.6" r="1.1"/>
<circle cx="312.8" cy="575.4" r="1.1"/>
<circle cx="313.0" cy="576.9" r="1.1"/>
<circle cx="313.2" cy="577.6" r="1.1"/>
<circle cx="313.5" cy="576.2" r="1.1"/>
<circle cx="313.7" cy="575.4" r="1.1"/>
<circle cx="313.9" cy="576.3" r="1.1"/>
<circle cx="314.2" cy="576.3" r="1.1"/>
<circle cx="314.5" cy="578.0" r="1.1"/>
<circle cx="314.8" cy="577.3" r="1.1"/>
<circle cx="315.0" cy="576.5" r="1.1"/>
<circle cx="315.3" cy="576.7" r="1.1"/>
<circle cx="315.6" cy="577.1" r="1.1"/>
<circle cx="315.9" cy="576.7" r="1.1"/>
<circle cx="316.2" cy="576.6" r="1.1"/>
<circle cx="316.4" cy="577.3" r="1.1"/>
<circle cx="316.7" cy="578.0" r="1.1"/>
<circle cx="317.0" cy="578.7" r="1.1"/>
<circle cx="317.3" cy="577.4" r="1.1"/>
<circle cx="317.6" cy="577.8" r="1.1"/>
<circle cx="317.9" cy="577.9" r="1.1"/>
<circle cx="318.1" cy="576.9" r="1.1"/>
<circle cx="318.4" cy="578.5" r="1.1"/>
<circle cx="318.7" cy="578.2" r="1.1"/>
<circle cx="319.0" cy="577.5" r="1.1"/>
<circle cx="319.3" cy="578.9" r="1.1"/>
<circle cx="319.5" cy="580.0" r="1.1"/>
<circle cx="319.8" cy="578.7" r="1.1"/>
<circle cx="320.1" cy="577.6" r="1.1"/>
<circle cx="320.4" cy="578.9" r="1.1"/>
<circle cx="320.7" cy="578.7" r="1.1"/>
<circle cx="320.9" cy="580.2" r="1.1"/>
<circle cx="321.2" cy="577.6" r="1.1"/>
<circle cx="321.5" cy="580.2" r="1.1"/>
<circle cx="321.8" cy="579.4" r="1.1"/>
<circle cx="322.1" cy="579.0" r="1.1"/>
<circle cx="322.3" cy="577.2" r="1.1"/>
<circle cx="322.6" cy="578.9" r="1.1"/>
<circle cx="322.9" cy="579.7" r="1.1"/>
<circle cx="323.2" cy="580.4" r="1.1"/>
<circle cx="323.5" cy="579.5" r="1.1"/>
<circle cx="323.7" cy="580.4" r="1.1"/>
<circle cx="324.0" cy="579.9" r="1.1"/>
<circle cx="324.3" cy="579.4" r="1.1"/>
<circle cx="324.6" cy="578.4" r="1.1"/>
<circle cx="324.9" cy="580.5" r="1.1"/>
<circle cx="325.2" cy="578.4" r="1.1"/>
<circle cx="325.4" cy="581.4" r="1.1"/>
<circle cx="325.7" cy="578.0" r="1.1"/>
<circle cx="326.0" cy="580.4" r="1.1"/>
<circle cx="326.3" cy="580.2" r="1.1"/>
<circle cx="326.6" cy="580.4" r="1.1"/>
<circle cx="326.8" cy="579.8" r="1.1"/>
<circle cx="327.1" cy="580.1" r="1.1"/>
<circle cx="327.4" cy="580.4" r="1.1"/>
<circle cx="327.7" cy="580.8" r="1.1"/>
<circle cx="328.0" cy="580.7" r="1.1"/>
<circle cx="328.2" cy="580.2" r="1.1"/>
<circle cx="328.5" cy="580.9" r="1.1"/>
<circle cx="328.8" cy="581.1" r="1.1"/>
<circle cx="329.1" cy="581.8" r="1.1"/>
<circle cx="329.4" cy="580.5" r="1.1"/>
<circle cx="329.6" cy="580.1" r="1.1"/>
<circle cx="329.9" cy="581.6" r="1.1"/>
<circle cx="330.2" cy="579.8" r="1.1"/>
<circle cx="330.5" cy="580.8" r="1.1"/>
<circle cx="330.8" cy="580.7" r="1.1"/>
<circle cx="331.0" cy="582.5" r="1.1"/>
<circle cx="331.3" cy="580.4" r="1.1"/>
<circle cx="331.6" cy="579.8" r="1.1"/>
<circle cx="331.9" cy="579.3" r="1.1"/>
<circle cx="332.2" cy="581.7" r="1.1"/>
<circle cx="332.5" cy="581.2" r="1.1"/>
<circle cx="332.7" cy="580.5" r="1.1"/>
<circle cx="333.0" cy="580.8" r="1.1"/>
<circle cx="333.3" cy="582.0" r="1.1"/>
<circle cx="333.6" cy="581.4" r="1.1"/>
<circle cx="333.9" cy="580.5" r="1.1"/>
<circle cx="334.1" cy="581.0" r="1.1"/>
<circle cx="334.4" cy="581.6" r="1.1"/>
<circle cx="334.7" cy="580.6" r="1.1"/>
<circle cx="335.0" cy="583.1" r="1.1"/>
<circle cx="335.3" cy="581.3" r="1.1"/>
<circle cx="335.5" cy="582.4" r="1.1"/>
<circle cx="335.8" cy="582.2" r="1.1"/>
<circle cx="336.1" cy="581.1" r="1.1"/>
<circle cx="336.4" cy="580.3" r="1.1"/>
<circle cx="336.7" cy="581.6" r="1.1"/>
<circle cx="336.9" cy="581.9" r="1.1"/>
<circle cx="337.2" cy="580.5" r="1.1"/>
<circle cx="337.5" cy="581.4" r="1.1"/>
<circle cx="337.8" cy="584.4" r="1.1"/>
<circle cx="338.1" cy="582.9" r="1.1"/>
<circle cx="338.4" cy="583.0" r="1.1"/>
<circle cx="338.6" cy="583.0" r="1.1"/>
<circle cx="338.9" cy="583.9" r="1.1"/>
<circle cx="339.2" cy="581.8" r="1.1"/>
<circle cx="339.5" cy="582.3" r="1.1"/>
<circle cx="339.8" cy="580.9" r="1.1"/>
<circle cx="340.0" cy="582.9" r="1.1"/>
<circle cx="340.3" cy="582.5" r="1.1"/>
<circle cx="340.6" cy="583.5" r="1.1"/>
<circle cx="340.9" cy="581.8" r="1.1"/>
<circle cx="341.2" cy="581.6" r="1.1"/>
<circle cx="341.4" cy="581.2" r="1.1"/>
<circle cx="341.7" cy="581.9" r="1.1"/>
<circle cx="342.0" cy="583.5" r="1.1"/>
<circle cx="342.3" cy="581.8" r="1.1"/>
<circle cx="342.6" cy="584.0" r="1.1"/>
<circle cx="342.8" cy="583.7" r="1.1"/>
<circle cx="343.1" cy="583.3" r="1.1"/>
<circle cx="343.4" cy="581.1" r="1.1"/>
<circle cx="343.7" cy="583.9" r="1.1"/>
<circle cx="344.0" cy="584.3" r="1.1"/>
<circle cx="344.2" cy="583.1" r="1.1"/>
<circle cx="344.5" cy="582.2" r="1.1"/>
<circle cx="344.8" cy="582.8" r="1.1"/>
<circle cx="345.1" cy="582.9" r="1.1"/>
<circle cx="345.4" cy="584.4" r="1.1"/>
<circle cx="345.7" cy="583.9" r="1.1"/>
<circle cx="345.9" cy="582.3" r="1.1"/>
<circle cx="346.2" cy="583.5" r="1.1"/>
<circle cx="346.5" cy="584.3" r="1.1"/>
<circle cx="346.8" cy="584.1" r="1.1"/>
<circle cx="347.1" cy="582.4" r="1.1"/>
<circle cx="347.3" cy="582.1" r="1.1"/>
<circle cx="347.6" cy="583.4" r="1.1"/>
<circle cx="347.9" cy="584.7" r="1.1"/>
<circle cx="348.2" cy="582.2" r="1.1"/>
<circle cx="348.5" cy="584.6" r="1.1"/>
<circle cx="348.7" cy="583.9" r="1.1"/>
<circle cx="349.0" cy="583.6" r="1.1"/>
<circle cx="349.3" cy="584.1" r="1.1"/>
<circle cx="349.6" cy="584.3" r="1.1"/>
<circle cx="349.9" cy="582.5" r="1.1"/>
<circle cx="350.1" cy="583.9" r="1.1"/>
<circle cx="350.4" cy="585.8" r="1.1"/>
<circle cx="350.7" cy="584.9" r="1.1"/>
<circle cx="351.0" cy="583.0" r="1.1"/>
<circle cx="351.3" cy="584.6" r="1.1"/>
<circle cx="351.5" cy="585.5" r="1.1"/>
<circle cx="351.8" cy="583.5" r="1.1"/>
<circle cx="352.1" cy="584.0" r="1.1"/>
<circle cx="352.4" cy="584.5" r="1.1"/>
<circle cx="352.7" cy="584.0" r="1.1"/>
<circle cx="353.0" cy="585.1" r="1.1"/>
<circle cx="353.2" cy="584.5" r="1.1"/>
<circle cx="353.5" cy="584.1" r="1.1"/>
<circle cx="353.8" cy="585.4" r="1.1"/>
<circle cx="354.1" cy="583.5" r="1.1"/>
<circle cx="354.4" cy="586.0" r="1.1"/>
<circle cx="354.6" cy="582.7" r="1.1"/>
<circle cx="354.9" cy="584.9" r="1.1"/>
<circle cx="355.2" cy="584.6" r="1.1"/>
<circle cx="355.5" cy="586.3" r="1.1"/>
<circle cx="355.8" cy="584.2" r="1.1"/>
<circle cx="356.0" cy="586.0" r="1.1"/>
<circle cx="356.3" cy="584.6" r="1.1"/>
<circle cx="356.6" cy="585.2" r="1.1"/>
<circle cx="356.9" cy="586.1" r="1.1"/>
<circle cx="357.2" cy="583.4" r="1.1"/>
<circle cx="357.4" cy="585.1" r="1.1"/>
<circle cx="357.7" cy="585.9" r="1.1"/>
<circle cx="358.0" cy="585.8" r="1.1"/>
<circle cx="358.3" cy="585.1" r="1.1"/>
<circle cx="358.6" cy="585.4" r="1.1"/>
<circle cx="358.8" cy="584.6" r="1.1"/>
<circle cx="359.1" cy="586.1" r="1.1"/>
<circle cx="359.4" cy="585.3" r="1.1"/>
<circle cx="359.7" cy="586.1" r="1.1"/>
<circle cx="360.0" cy="586.4" r="1.1"/>
<circle cx="360.3" cy="584.8" r="1.1"/>
<circle cx="360.5" cy="586.6" r="1.1"/>
<circle cx="360.8" cy="587.5" r="1.1"/>
<circle cx="361.1" cy="585.1" r="1.1"/>
<circle cx="361.4" cy="586.4" r="1.1"/>
<circle cx="361.7" cy="585.2" r="1.1"/>
<circle cx="361.9" cy="585.3" r="1.1"/>
<circle cx="362.2" cy="585.4" r="1.1"/>
<circle cx="362.5" cy="585.9" r="1.1"/>
<circle cx="362.8" cy="584.3" r="1.1"/>
<circle cx="363.1" cy="587.2" r="1.1"/>
<circle cx="363.3" cy="584.8" r="1.1"/>
<circle cx="363.6" cy="586.3" r="1.1"/>
<circle cx="363.9" cy="585.8" r="1.1"/>
<circle cx="364.2" cy="586.7" r="1.1"/>
<circle cx="364.5" cy="585.3" r="1.1"/>
<circle cx="364.7" cy="585.7" r="1.1"/>
<circle cx="365.0" cy="586.8" r="1.1"/>
<circle cx="365.3" cy="586.3" r="1.1"/>
<circle cx="365.6" cy="585.8" r="1.1"/>
<circle cx="365.9" cy="586.6" r="1.1"/>
<circle cx="366.1" cy="584.1" r="1.1"/>
<circle cx="366.4" cy="585.8" r="1.1"/>
<circle cx="366.7" cy="586.9" r="1.1"/>
<circle cx="367.0" cy="585.4" r="1.1"/>
<circle cx="367.3" cy="586.3" r="1.1"/>
<circle cx="367.6" cy="587.2" r="1.1"/>
<circle cx="367.8" cy="587.0" r="1.1"/>
<circle cx="368.1" cy="588.5" r="1.1"/>
<circle cx="368.4" cy="585.9" r="1.1"/>
<circle cx="368.7" cy="585.0" r="1.1"/>
<circle cx="369.0" cy="586.9" r="1.1"/>
<circle cx="369.2" cy="587.7" r="1.1"/>
<circle cx="369.5" cy="588.8" r="1.1"/>
<circle cx="369.8" cy="588.3" r="1.1"/>
<circle cx="370.1" cy="586.9" r="1.1"/>
<circle cx="370.4" cy="587.7" r="1.1"/>
<circle cx="370.6" cy="587.2" r="1.1"/>
<circle cx="370.9" cy="588.0" r="1.1"/>
<circle cx="371.2" cy="587.2" r="1.1"/>
<circle cx="371.5" cy="587.4" r="1.1"/>
<circle cx="371.8" cy="586.9" r="1.1"/>
<circle cx="372.0" cy="587.1" r="1.1"/>
<circle cx="372.3" cy="587.0" r="1.1"/>
<circle cx="372.6" cy="588.2" r="1.1"/>
<circle cx="372.9" cy="587.6" r="1.1"/>
<circle cx="373.2" cy="588.7" r="1.1"/>
<circle cx="373.5" cy="587.9" r="1.1"/>
<circle cx="373.7" cy="587.4" r="1.1"/>
<circle cx="374.0" cy="586.9" r="1.1"/>
<circle cx="374.3" cy="589.0" r="1.1"/>
<circle cx="374.6" cy="588.6" r="1.1"/>
<circle cx="374.9" cy="588.1" r="1.1"/>
<circle cx="375.1" cy="588.9" r="1.1"/>
<circle cx="375.4" cy="587.9" r="1.1"/>
<circle cx="375.7" cy="587.8" r="1.1"/>
<circle cx="376.0" cy="588.5" r="1.1"/>
<circle cx="376.3" cy="585.8" r="1.1"/>
<circle cx="376.5" cy="588.2" r="1.1"/>
<circle cx="376.8" cy="587.5" r="1.1"/>
<circle cx="377.1" cy="589.9" r="1.1"/>
<circle cx="377.4" cy="586.9" r="1.1"/>
<circle cx="377.7" cy="587.5" r="1.1"/>
<circle cx="377.9" cy="587.7" r="1.1"/>
<circle cx="378.2" cy="590.4" r="1.1"/>
<circle cx="378.5" cy="588.0" r="1.1"/>
<circle cx="378.8" cy="588.8" r="1.1"/>
<circle cx="379.1" cy="587.6" r="1.1"/>
<circle cx="379.3" cy="588.1" r="1.1"/>
<circle cx="379.6" cy="588.7" r="1.1"/>
<circle cx="379.9" cy="588.7" r="1.1"/>
<circle cx="380.2" cy="586.7" r="1.1"/>
<circle cx="380.5" cy="586.9" r="1.1"/>
<circle cx="380.8" cy="590.3" r="1.1"/>
<circle cx="381.0" cy="588.8" r="1.1"/>
<circle cx="381.3" cy="587.5" r="1.1"/>
<circle cx="381.6" cy="588.8" r="1.1"/>
<circle cx="381.9" cy="588.0" r="1.1"/>
<circle cx="382.2" cy="588.8" r="1.1"/>
<circle cx="382.4" cy="586.5" r="1.1"/>
<circle cx="382.7" cy="587.6" r="1.1"/>
<circle cx="383.0" cy="588.7" r="1.1"/>
<circle cx="383.3" cy="586.8" r="1.1"/>
<circle cx="383.6" cy="587.8" r="1.1"/>
<circle cx="383.8" cy="586.6" r="1.1"/>
<circle cx="384.1" cy="589.2" r="1.1"/>
<circle cx="384.4" cy="590.5" r="1.1"/>
<circle cx="384.7" cy="587.7" r="1.1"/>
<circle cx="385.0" cy="588.7" r="1.1"/>
<circle cx="385.2" cy="590.9" r="1.1"/>
<circle cx="385.5" cy="591.6" r="1.1"/>
<circle cx="385.8" cy="588.7" r="1.1"/>
<circle cx="386.1" cy="588.8" r="1.1"/>
<circle cx="386.4" cy="589.9" r="1.1"/>
<circle cx="386.6" cy="589.5" r="1.1"/>
<circle cx="386.9" cy="588.8" r="1.1"/>
<circle cx="387.2" cy="590.7" r="1.1"/>
<circle cx="387.5" cy="587.5" r="1.1"/>
<circle cx="387.8" cy="590.6" r="1.1"/>
<circle cx="388.1" cy="589.0" r="1.1"/>
<circle cx="388.3" cy="589.1" r="1.1"/>
<circle cx="388.6" cy="589.8" r="1.1"/>
<circle cx="388.9" cy="590.1" r="1.1"/>
<circle cx="389.2" cy="588.2" r="1.1"/>
<circle cx="389.5" cy="591.2" r="1.1"/>
<circle cx="389.7" cy="589.3" r="1.1"/>
<circle cx="390.0" cy="587.3" r="1.1"/>
<circle cx="390.3" cy="590.3" r="1.1"/>
<circle cx="390.6" cy="591.3" r="1.1"/>
<circle cx="390.9" cy="590.0" r="1.1"/>
<circle cx="391.1" cy="592.3" r="1.1"/>
<circle cx="391.4" cy="590.4" r="1.1"/>
<circle cx="391.7" cy="591.0" r="1.1"/>
<circle cx="392.0" cy="590.6" r="1.1"/>
<circle cx="392.3" cy="590.7" r="1.1"/>
<circle cx="392.5" cy="588.9" r="1.1"/>
<circle cx="392.8" cy="589.6" r="1.1"/>
<circle cx="393.1" cy="591.0" r="1.1"/>
<circle cx="393.4" cy="588.1" r="1.1"/>
<circle cx="393.7" cy="591.0" r="1.1"/>
<circle cx="393.9" cy="587.9" r="1.1"/>
<circle cx="394.2" cy="590.4" r="1.1"/>
<circle cx="394.5" cy="591.0" r="1.1"/>
<circle cx="394.8" cy="590.4" r="1.1"/>
<circle cx="395.1" cy="588.1" r="1.1"/>
<circle cx="395.4" cy="589.8" r="1.1"/>
<circle cx="395.6" cy="590.0" r="1.1"/>
<circle cx="395.9" cy="592.1" r="1.1"/>
<circle cx="396.2" cy="590.1" r="1.1"/>
<circle cx="396.5" cy="590.5" r="1.1"/>
<circle cx="396.8" cy="590.6" r="1.1"/>
<circle cx="397.0" cy="591.1" r="1.1"/>
<circle cx="397.3" cy="592.2" r="1.1"/>
<circle cx="397.6" cy="588.6" r="1.1"/>
<circle cx="397.9" cy="591.5" r="1.1"/>
<circle cx="398.2" cy="589.5" r="1.1"/>
<circle cx="398.4" cy="589.6" r="1.1"/>
<circle cx="398.7" cy="590.1" r="1.1"/>
<circle cx="399.0" cy="590.2" r="1.1"/>
<circle cx="399.3" cy="589.6" r="1.1"/>
<circle cx="399.6" cy="590.9" r="1.1"/>
<circle cx="399.8" cy="590.6" r="1.1"/>
<circle cx="400.1" cy="590.1" r="1.1"/>
<circle cx="400.4" cy="590.3" r="1.1"/>
<circle cx="400.7" cy="590.9" r="1.1"/>
<circle cx="401.0" cy="593.5" r="1.1"/>
<circle cx="401.2" cy="590.6" r="1.1"/>
<circle cx="401.5" cy="592.3" r="1.1"/>
<circle cx="401.8" cy="589.1" r="1.1"/>
<circle cx="402.1" cy="589.1" r="1.1"/>
<circle cx="402.4" cy="590.4" r="1.1"/>
<circle cx="402.7" cy="590.4" r="1.1"/>
<circle cx="402.9" cy="593.4" r="1.1"/>
<circle cx="403.2" cy="591.1" r="1.1"/>
<circle cx="403.5" cy="591.9" r="1.1"/>
<circle cx="403.8" cy="588.5" r="1.1"/>
<circle cx="404.1" cy="592.7" r="1.1"/>
<circle cx="404.3" cy="588.1" r="1.1"/>
<circle cx="404.6" cy="591.2" r="1.1"/>
<circle cx="404.9" cy="593.7" r="1.1"/>
<circle cx="405.2" cy="588.6" r="1.1"/>
<circle cx="405.5" cy="591.4" r="1.1"/>
<circle cx="405.7" cy="590.6" r="1.1"/>
<circle cx="406.0" cy="589.7" r="1.1"/>
<circle cx="406.3" cy="593.3" r="1.1"/>
<circle cx="406.6" cy="591.8" r="1.1"/>
<circle cx="406.9" cy="591.0" r="1.1"/>
<circle cx="407.1" cy="589.6" r="1.1"/>
<circle cx="407.4" cy="591.5" r="1.1"/>
<circle cx="407.7" cy="590.5" r="1.1"/>
<circle cx="408.0" cy="593.7" r="1.1"/>
<circle cx="408.3" cy="590.7" r="1.1"/>
<circle cx="408.6" cy="592.6" r="1.1"/>
<circle cx="408.8" cy="591.9" r="1.1"/>
<circle cx="409.1" cy="591.3" r="1.1"/>
<circle cx="409.4" cy="590.3" r="1.1"/>
<circle cx="409.7" cy="592.4" r="1.1"/>
<circle cx="410.0" cy="591.0" r="1.1"/>
<circle cx="410.2" cy="592.0" r="1.1"/>
<circle cx="410.5" cy="590.8" r="1.1"/>
<circle cx="410.8" cy="592.3" r="1.1"/>
<circle cx="411.1" cy="589.8" r="1.1"/>
<circle cx="411.4" cy="593.1" r="1.1"/>
<circle cx="411.6" cy="593.1" r="1.1"/>
<circle cx="411.9" cy="590.0" r="1.1"/>
<circle cx="412.2" cy="592.8" r="1.1"/>
<circle cx="412.5" cy="590.9" r="1.1"/>
<circle cx="412.8" cy="590.9" r="1.1"/>
<circle cx="413.0" cy="594.2" r="1.1"/>
<circle cx="413.3" cy="592.3" r="1.1"/>
<circle cx="413.6" cy="592.6" r="1.1"/>
<circle cx="413.9" cy="592.2" r="1.1"/>
<circle cx="414.2" cy="594.1" r="1.1"/>
<circle cx="414.4" cy="591.8" r="1.1"/>
<circle cx="414.7" cy="591.8" r="1.1"/>
<circle cx="415.0" cy="593.6" r="1.1"/>
<circle cx="415.3" cy="592.1" r="1.1"/>
<circle cx="415.6" cy="591.9" r="1.1"/>
<circle cx="415.9" cy="594.6" r="1.1"/>
<circle cx="416.1" cy="592.3" r="1.1"/>
<circle cx="416.4" cy="591.0" r="1.1"/>
<circle cx="416.7" cy="591.3" r="1.1"/>
<circle cx="417.0" cy="593.8" r="1.1"/>
<circle cx="417.3" cy="593.4" r="1.1"/>
<circle cx="417.5" cy="592.4" r="1.1"/>
<circle cx="417.8" cy="591.9" r="1.1"/>
<circle cx="418.1" cy="591.3" r="1.1"/>
<circle cx="418.4" cy="592.4" r="1.1"/>
<circle cx="418.7" cy="591.4" r="1.1"/>
<circle cx="418.9" cy="593.5" r="1.1"/>
<circle cx="419.2" cy="590.0" r="1.1"/>
<circle cx="419.5" cy="592.9" r="1.1"/>
<circle cx="419.8" cy="594.0" r="1.1"/>
<circle cx="420.1" cy="593.5" r="1.1"/>
<circle cx="420.3" cy="595.2" r="1.1"/>
<circle cx="420.6" cy="593.8" r="1.1"/>
<circle cx="420.9" cy="593.2" r="1.1"/>
<circle cx="421.2" cy="592.1" r="1.1"/>
<circle cx="421.5" cy="591.2" r="1.1"/>
<circle cx="421.7" cy="594.1" r="1.1"/>
<circle cx="422.0" cy="594.0" r="1.1"/>
<circle cx="422.3" cy="592.0" r="1.1"/>
<circle cx="422.6" cy="591.5" r="1.1"/>
<circle cx="422.9" cy="591.9" r="1.1"/>
<circle cx="423.2" cy="592.7" r="1.1"/>
<circle cx="423.4" cy="594.7" r="1.1"/>
<circle cx="423.7" cy="593.9" r="1.1"/>
<circle cx="424.0" cy="595.4" r="1.1"/>
<circle cx="424.3" cy="594.2" r="1.1"/>
<circle cx="424.6" cy="591.4" r="1.1"/>
<circle cx="424.8" cy="591.0" r="1.1"/>
<circle cx="425.1" cy="593.7" r="1.1"/>
<circle cx="425.4" cy="592.4" r="1.1"/>
<circle cx="425.7" cy="591.4" r="1.1"/>
<circle cx="426.0" cy="594.9" r="1.1"/>
<circle cx="426.2" cy="595.4" r="1.1"/>
<circle cx="426.5" cy="594.4" r="1.1"/>
<circle cx="426.8" cy="596.5" r="1.1"/>
<circle cx="427.1" cy="592.5" r="1.1"/>
<circle cx="427.4" cy="593.6" r="1.1"/>
<circle cx="427.6" cy="594.0" r="1.1"/>
<circle cx="427.9" cy="593.5" r="1.1"/>
<circle cx="428.2" cy="592.9" r="1.1"/>
<circle cx="428.5" cy="593.7" r="1.1"/>
<circle cx="428.8" cy="595.5" r="1.1"/>
<circle cx="429.0" cy="592.8" r="1.1"/>
<circle cx="429.3" cy="594.5" r="1.1"/>
<circle cx="429.6" cy="593.4" r="1.1"/>
<circle cx="429.9" cy="594.8" r="1.1"/>
<circle cx="430.2" cy="593.8" r="1.1"/>
<circle cx="430.5" cy="596.2" r="1.1"/>
<circle cx="430.7" cy="593.7" r="1.1"/>
<circle cx="431.0" cy="594.4" r="1.1"/>
<circle cx="431.3" cy="592.4" r="1.1"/>
<circle cx="431.6" cy="595.2" r="1.1"/>
<circle cx="431.9" cy="595.3" r="1.1"/>
<circle cx="432.1" cy="593.0" r="1.1"/>
<circle cx="432.4" cy="597.0" r="1.1"/>
<circle cx="432.7" cy="593.2" r="1.1"/>
<circle cx="433.0" cy="594.3" r="1.1"/>
<circle cx="433.3" cy="594.9" r="1.1"/>
<circle cx="433.5" cy="594.1" r="1.1"/>
<circle cx="433.8" cy="594.7" r="1.1"/>
<circle cx="434.1" cy="595.6" r="1.1"/>
<circle cx="434.4" cy="593.2" r="1.1"/>
<circle cx="434.7" cy="595.7" r="1.1"/>
<circle cx="434.9" cy="594.2" r="1.1"/>
<circle cx="435.2" cy="594.7" r="1.1"/>
<circle cx="435.5" cy="595.6" r="1.1"/>
<circle cx="435.8" cy="595.4" r="1.1"/>
<circle cx="436.1" cy="594.1" r="1.1"/>
<circle cx="436.3" cy="595.1" r="1.1"/>
<circle cx="436.6" cy="592.5" r="1.1"/>
<circle cx="436.9" cy="593.3" r="1.1"/>
<circle cx="437.2" cy="595.3" r="1.1"/>
<circle cx="437.5" cy="593.1" r="1.1"/>
<circle cx="437.8" cy="598.0" r="1.1"/>
<circle cx="438.0" cy="592.1" r="1.1"/>
<circle cx="438.3" cy="596.7" r="1.1"/>
<circle cx="438.6" cy="596.7" r="1.1"/>
<circle cx="438.9" cy="593.1" r="1.1"/>
<circle cx="439.2" cy="597.3" r="1.1"/>
<circle cx="439.4" cy="596.0" r="1.1"/>
<circle cx="439.7" cy="594.4" r="1.1"/>
<circle cx="440.0" cy="598.1" r="1.1"/>
<circle cx="440.3" cy="595.2" r="1.1"/>
<circle cx="440.6" cy="593.6" r="1.1"/>
<circle cx="440.8" cy="596.1" r="1.1"/>
<circle cx="441.1" cy="592.8" r="1.1"/>
<circle cx="441.4" cy="596.5" r="1.1"/>
<circle cx="441.7" cy="592.9" r="1.1"/>
<circle cx="442.0" cy="594.5" r="1.1"/>
<circle cx="442.2" cy="595.0" r="1.1"/>
<circle cx="442.5" cy="595.6" r="1.1"/>
<circle cx="442.8" cy="596.8" r="1.1"/>
<circle cx="443.1" cy="593.6" r="1.1"/>
<circle cx="443.4" cy="597.1" r="1.1"/>
<circle cx="443.7" cy="595.3" r="1.1"/>
<circle cx="443.9" cy="594.3" r="1.1"/>
<circle cx="444.2" cy="594.7" r="1.1"/>
<circle cx="444.5" cy="594.4" r="1.1"/>
<circle cx="444.8" cy="596.4" r="1.1"/>
</g>
<rect x="257.6" y="540.2" width="187.2" height="67.8" fill="none" stroke="#333" stroke-width="1.1"/>
<line x1="257.6" y1="544.4" x2="260.6" y2="544.4" stroke="#333" stroke-width="0.9"/>
<line x1="257.6" y1="568.2" x2="260.6" y2="568.2" stroke="#333" stroke-width="0.9"/>
<line x1="257.6" y1="592" x2="260.6" y2="592" stroke="#333" stroke-width="0.9"/>
<line x1="257.6" y1="561.04" x2="259.2" y2="561.04" stroke="#333" stroke-width="0.7"/>
<line x1="257.6" y1="556.84" x2="259.2" y2="556.84" stroke="#333" stroke-width="0.7"/>
<line x1="257.6" y1="553.87" x2="259.2" y2="553.87" stroke="#333" stroke-width="0.7"/>
<line x1="257.6" y1="551.56" x2="259.2" y2="551.56" stroke="#333" stroke-width="0.7"/>
<line x1="257.6" y1="549.68" x2="259.2" y2="549.68" stroke="#333" stroke-width="0.7"/>
<line x1="257.6" y1="548.09" x2="259.2" y2="548.09" stroke="#333" stroke-width="0.7"/>
<line x1="257.6" y1="546.71" x2="259.2" y2="546.71" stroke="#333" stroke-width="0.7"/>
<line x1="257.6" y1="545.49" x2="259.2" y2="545.49" stroke="#333" stroke-width="0.7"/>
<line x1="257.6" y1="584.84" x2="259.2" y2="584.84" stroke="#333" stroke-width="0.7"/>
<line x1="257.6" y1="580.64" x2="259.2" y2="580.64" stroke="#333" stroke-width="0.7"/>
<line x1="257.6" y1="577.67" x2="259.2" y2="577.67" stroke="#333" stroke-width="0.7"/>
<line x1="257.6" y1="575.36" x2="259.2" y2="575.36" stroke="#333" stroke-width="0.7"/>
<line x1="257.6" y1="573.48" x2="259.2" y2="573.48" stroke="#333" stroke-width="0.7"/>
<line x1="257.6" y1="571.89" x2="259.2" y2="571.89" stroke="#333" stroke-width="0.7"/>
<line x1="257.6" y1="570.51" x2="259.2" y2="570.51" stroke="#333" stroke-width="0.7"/>
<line x1="257.6" y1="569.29" x2="259.2" y2="569.29" stroke="#333" stroke-width="0.7"/>
<line x1="257.6" y1="604.44" x2="259.2" y2="604.44" stroke="#333" stroke-width="0.7"/>
<line x1="257.6" y1="601.47" x2="259.2" y2="601.47" stroke="#333" stroke-width="0.7"/>
<line x1="257.6" y1="599.16" x2="259.2" y2="599.16" stroke="#333" stroke-width="0.7"/>
<line x1="257.6" y1="597.28" x2="259.2" y2="597.28" stroke="#333" stroke-width="0.7"/>
<line x1="257.6" y1="595.69" x2="259.2" y2="595.69" stroke="#333" stroke-width="0.7"/>
<line x1="257.6" y1="594.31" x2="259.2" y2="594.31" stroke="#333" stroke-width="0.7"/>
<line x1="257.6" y1="593.09" x2="259.2" y2="593.09" stroke="#333" stroke-width="0.7"/>
<line x1="295.04" y1="608" x2="295.04" y2="605" stroke="#333" stroke-width="0.9"/>
<line x1="332.48" y1="608" x2="332.48" y2="605" stroke="#333" stroke-width="0.9"/>
<line x1="369.92" y1="608" x2="369.92" y2="605" stroke="#333" stroke-width="0.9"/>
<line x1="407.36" y1="608" x2="407.36" y2="605" stroke="#333" stroke-width="0.9"/>
<line x1="276.32" y1="608" x2="276.32" y2="606.3" stroke="#333" stroke-width="0.9"/>
<line x1="313.76" y1="608" x2="313.76" y2="606.3" stroke="#333" stroke-width="0.9"/>
<line x1="351.2" y1="608" x2="351.2" y2="606.3" stroke="#333" stroke-width="0.9"/>
<line x1="388.64" y1="608" x2="388.64" y2="606.3" stroke="#333" stroke-width="0.9"/>
<line x1="426.08" y1="608" x2="426.08" y2="606.3" stroke="#333" stroke-width="0.9"/>
<text x="252.2" y="548.1" font-size="10.6" text-anchor="end" fill="#1a1a1a">10<tspan font-size="7.5" dy="-4.4">0</tspan></text>
<text x="252.2" y="571.9" font-size="10.6" text-anchor="end" fill="#1a1a1a">10<tspan font-size="7.5" dy="-4.4">−1</tspan></text>
<text x="252.2" y="595.7" font-size="10.6" text-anchor="end" fill="#1a1a1a">10<tspan font-size="7.5" dy="-4.4">−2</tspan></text>
<circle cx="403.8" cy="475.6" r="1.3" fill="none" stroke="#2c7a4c" stroke-width="0.7"/>
<text x="410.5" y="478.8" font-size="7.7" fill="#1a1a1a">Pristine</text>
<circle cx="403.8" cy="548.7" r="1.3" fill="none" stroke="#4cba4a" stroke-width="0.7"/>
<text x="409" y="551.6" font-size="7.7" fill="#1a1a1a">Target</text>
<text x="319.3" y="502.4" font-size="7.8" fill="#1a1a1a"><tspan font-style="italic">T</tspan><tspan font-size="4.6" dy="1.5" font-style="italic">avg</tspan><tspan dy="-1.5"> = 37.0 ns</tspan></text>
<text x="324.4" y="568.1" font-size="7.8" fill="#1a1a1a"><tspan font-style="italic">T</tspan><tspan font-size="4.6" dy="1.5" font-style="italic">avg</tspan><tspan dy="-1.5"> = 49.2 ns</tspan></text>
<text x="257.6" y="621.3" font-size="10.6" text-anchor="middle" fill="#1a1a1a">0</text>
<text x="295.04" y="621.3" font-size="10.6" text-anchor="middle" fill="#1a1a1a">100</text>
<text x="332.48" y="621.3" font-size="10.6" text-anchor="middle" fill="#1a1a1a">200</text>
<text x="369.92" y="621.3" font-size="10.6" text-anchor="middle" fill="#1a1a1a">300</text>
<text x="407.36" y="621.3" font-size="10.6" text-anchor="middle" fill="#1a1a1a">400</text>
<text x="444.8" y="621.3" font-size="10.6" text-anchor="middle" fill="#1a1a1a">500</text>
<text x="351.2" y="636.7" font-size="10.9" text-anchor="middle" fill="#1a1a1a">Time (ns)</text>
<text transform="translate(226,538.2) rotate(-90)" font-size="10.9" text-anchor="middle" fill="#1a1a1a">Norm. PL intensity</text>
<text x="215.8" y="468.1" font-size="15" font-weight="bold" fill="#000">f</text>
<defs>
<linearGradient id="cuvA" x1="0" y1="0" x2="0" y2="1"><stop offset="0" stop-color="#1c4a2a"/><stop offset="0.2" stop-color="#1c5a2c"/><stop offset="0.26" stop-color="#0e7a22"/><stop offset="0.36" stop-color="#14c02c"/><stop offset="0.46" stop-color="#22ee44"/><stop offset="0.58" stop-color="#30f0e4"/><stop offset="0.72" stop-color="#70f6f2"/><stop offset="0.9" stop-color="#c0fcf8"/><stop offset="1" stop-color="#d8fff8"/></linearGradient>
<linearGradient id="cuvB" x1="0" y1="0" x2="0" y2="1"><stop offset="0" stop-color="#1c4a2a"/><stop offset="0.25" stop-color="#0c6a1e"/><stop offset="0.4" stop-color="#14b02a"/><stop offset="0.6" stop-color="#18e848"/><stop offset="1" stop-color="#22f060"/></linearGradient>
<linearGradient id="cuvC" x1="0" y1="0" x2="0" y2="1"><stop offset="0" stop-color="#2a6a3a"/><stop offset="0.3" stop-color="#30d838"/><stop offset="1" stop-color="#38ee30"/></linearGradient>
<linearGradient id="cuvD" x1="0" y1="0" x2="0" y2="1"><stop offset="0" stop-color="#2a5a34"/><stop offset="0.3" stop-color="#1ca834"/><stop offset="1" stop-color="#22d048"/></linearGradient>
<filter id="phb" x="-5%" y="-5%" width="110%" height="110%"><feGaussianBlur stdDeviation="0.45"/></filter>
<linearGradient id="phL" x1="0" y1="0" x2="0" y2="1"><stop offset="0" stop-color="#2e3630"/><stop offset="0.45" stop-color="#1a6a2c"/><stop offset="1" stop-color="#12c040"/></linearGradient>
<linearGradient id="phR" x1="0" y1="0" x2="0" y2="1"><stop offset="0" stop-color="#333833"/><stop offset="0.5" stop-color="#225a30"/><stop offset="1" stop-color="#18a83a"/></linearGradient>
</defs>
<rect x="499.7" y="487.8" width="33.3" height="38.4" fill="#2a3a2c"/>
<g filter="url(#phb)">
<rect x="499.7" y="487.8" width="16.65" height="38.4" fill="url(#phL)"/>
<rect x="516.35" y="487.8" width="16.65" height="38.4" fill="url(#phR)"/>
<rect x="502.53" y="490.1" width="10.99" height="33.79" rx="0.8" fill="url(#cuvA)"/>
<rect x="503.13" y="490.49" width="9.79" height="6.91" rx="0.6" fill="none" stroke="#3cf04c" stroke-width="0.8"/>
<rect x="519.18" y="490.1" width="10.99" height="33.79" rx="0.8" fill="url(#cuvB)"/>
<rect x="519.78" y="490.49" width="9.79" height="6.91" rx="0.6" fill="#24402c" stroke="#3cf04c" stroke-width="0.8"/>
</g>
<rect x="572.6" y="528.9" width="33.4" height="37.9" fill="#2a3a2c"/>
<g filter="url(#phb)">
<rect x="572.6" y="528.9" width="16.7" height="37.9" fill="url(#phL)"/>
<rect x="589.3" y="528.9" width="16.7" height="37.9" fill="#86867f"/>
<rect x="575.44" y="531.17" width="11.02" height="33.35" rx="0.8" fill="url(#cuvA)"/>
<rect x="576.04" y="531.55" width="9.82" height="6.82" rx="0.6" fill="none" stroke="#3cf04c" stroke-width="0.8"/>
<rect x="592.14" y="531.17" width="11.02" height="33.35" rx="0.8" fill="url(#cuvC)"/>
<rect x="592.74" y="531.55" width="9.82" height="6.82" rx="0.6" fill="#7c8a7c" stroke="#3cf04c" stroke-width="0.8"/>
</g>
<rect x="647.3" y="559.8" width="33.2" height="38.4" fill="#2a3a2c"/>
<g filter="url(#phb)">
<rect x="647.3" y="559.8" width="16.6" height="38.4" fill="url(#phL)"/>
<rect x="663.9" y="559.8" width="16.6" height="38.4" fill="#6a6262"/>
<rect x="650.12" y="562.1" width="10.96" height="33.79" rx="0.8" fill="url(#cuvA)"/>
<rect x="650.72" y="562.49" width="9.76" height="6.91" rx="0.6" fill="none" stroke="#3cf04c" stroke-width="0.8"/>
<rect x="666.72" y="562.1" width="10.96" height="33.79" rx="0.8" fill="url(#cuvD)"/>
<rect x="667.32" y="562.49" width="9.76" height="6.91" rx="0.6" fill="#5a6a5a" stroke="#3cf04c" stroke-width="0.8"/>
</g>
<rect x="495.7" y="467.8" width="188.4" height="140.3" fill="none" stroke="#333" stroke-width="1.1"/>
<line x1="495.7" y1="596.3" x2="498.7" y2="596.3" stroke="#333" stroke-width="0.9"/>
<line x1="495.7" y1="573.03" x2="498.7" y2="573.03" stroke="#333" stroke-width="0.9"/>
<line x1="495.7" y1="549.76" x2="498.7" y2="549.76" stroke="#333" stroke-width="0.9"/>
<line x1="495.7" y1="526.49" x2="498.7" y2="526.49" stroke="#333" stroke-width="0.9"/>
<line x1="495.7" y1="503.22" x2="498.7" y2="503.22" stroke="#333" stroke-width="0.9"/>
<line x1="495.7" y1="479.95" x2="498.7" y2="479.95" stroke="#333" stroke-width="0.9"/>
<line x1="495.7" y1="584.66" x2="497.4" y2="584.66" stroke="#333" stroke-width="0.9"/>
<line x1="495.7" y1="561.39" x2="497.4" y2="561.39" stroke="#333" stroke-width="0.9"/>
<line x1="495.7" y1="538.12" x2="497.4" y2="538.12" stroke="#333" stroke-width="0.9"/>
<line x1="495.7" y1="514.86" x2="497.4" y2="514.86" stroke="#333" stroke-width="0.9"/>
<line x1="495.7" y1="491.58" x2="497.4" y2="491.58" stroke="#333" stroke-width="0.9"/>
<line x1="509" y1="608.1" x2="509" y2="605.1" stroke="#333" stroke-width="0.9"/>
<line x1="549.3" y1="608.1" x2="549.3" y2="605.1" stroke="#333" stroke-width="0.9"/>
<line x1="589.6" y1="608.1" x2="589.6" y2="605.1" stroke="#333" stroke-width="0.9"/>
<line x1="629.9" y1="608.1" x2="629.9" y2="605.1" stroke="#333" stroke-width="0.9"/>
<line x1="670.2" y1="608.1" x2="670.2" y2="605.1" stroke="#333" stroke-width="0.9"/>
<line x1="529.15" y1="608.1" x2="529.15" y2="606.4" stroke="#333" stroke-width="0.9"/>
<line x1="569.45" y1="608.1" x2="569.45" y2="606.4" stroke="#333" stroke-width="0.9"/>
<line x1="609.75" y1="608.1" x2="609.75" y2="606.4" stroke="#333" stroke-width="0.9"/>
<line x1="650.05" y1="608.1" x2="650.05" y2="606.4" stroke="#333" stroke-width="0.9"/>
<polyline points="509,479.95 549.3,480.07 589.6,481.58 629.9,481.11 670.2,482.51" fill="none" stroke="#5cc25a" stroke-width="1.2" stroke-linejoin="round"/>
<polyline points="509,479.95 549.3,486.58 589.6,514.27 629.9,538.71 670.2,551.04" fill="none" stroke="#2c7a4c" stroke-width="1.2" stroke-linejoin="round"/>
<polygon points="509,477.45 511.5,479.95 509,482.45 506.5,479.95" fill="#fff" stroke="#2c7a4c" stroke-width="1.35" stroke-linejoin="round"/>
<polygon points="549.3,484.08 551.8,486.58 549.3,489.08 546.8,486.58" fill="#fff" stroke="#2c7a4c" stroke-width="1.35" stroke-linejoin="round"/>
<polygon points="589.6,511.77 592.1,514.27 589.6,516.77 587.1,514.27" fill="#fff" stroke="#2c7a4c" stroke-width="1.35" stroke-linejoin="round"/>
<polygon points="629.9,536.21 632.4,538.71 629.9,541.21 627.4,538.71" fill="#fff" stroke="#2c7a4c" stroke-width="1.35" stroke-linejoin="round"/>
<polygon points="670.2,548.54 672.7,551.04 670.2,553.54 667.7,551.04" fill="#fff" stroke="#2c7a4c" stroke-width="1.35" stroke-linejoin="round"/>
<circle cx="509" cy="479.95" r="2.0" fill="#fff" stroke="#5cc25a" stroke-width="1.3"/>
<circle cx="549.3" cy="480.07" r="2.0" fill="#fff" stroke="#5cc25a" stroke-width="1.3"/>
<circle cx="589.6" cy="481.58" r="2.0" fill="#fff" stroke="#5cc25a" stroke-width="1.3"/>
<circle cx="629.9" cy="481.11" r="2.0" fill="#fff" stroke="#5cc25a" stroke-width="1.3"/>
<circle cx="670.2" cy="482.51" r="2.0" fill="#fff" stroke="#5cc25a" stroke-width="1.3"/>
<line x1="502.3" y1="584.7" x2="522.4" y2="584.7" stroke="#5a9a74" stroke-width="1.5"/>
<polygon points="512.4,582.3 514.8,584.7 512.4,587.1 510,584.7" fill="#fff" stroke="#2c7a4c" stroke-width="1.2" stroke-linejoin="round"/>
<text x="526" y="587.6" font-size="7.7" fill="#1a1a1a">Pristine</text>
<line x1="502.3" y1="596.1" x2="522.4" y2="596.1" stroke="#8fd48d" stroke-width="1.6"/>
<circle cx="512.4" cy="596.1" r="1.9" fill="#fff" stroke="#5cc25a" stroke-width="1.2"/>
<text x="526" y="599" font-size="7.7" fill="#1a1a1a">Target</text>
<text x="490.2" y="599.9" font-size="10.6" text-anchor="end" fill="#1a1a1a">0.0</text>
<text x="490.2" y="576.63" font-size="10.6" text-anchor="end" fill="#1a1a1a">0.2</text>
<text x="490.2" y="553.36" font-size="10.6" text-anchor="end" fill="#1a1a1a">0.4</text>
<text x="490.2" y="530.09" font-size="10.6" text-anchor="end" fill="#1a1a1a">0.6</text>
<text x="490.2" y="506.82" font-size="10.6" text-anchor="end" fill="#1a1a1a">0.8</text>
<text x="490.2" y="483.55" font-size="10.6" text-anchor="end" fill="#1a1a1a">1.0</text>
<text x="509" y="621.3" font-size="10.6" text-anchor="middle" fill="#1a1a1a">0</text>
<text x="549.3" y="621.3" font-size="10.6" text-anchor="middle" fill="#1a1a1a">15</text>
<text x="589.6" y="621.3" font-size="10.6" text-anchor="middle" fill="#1a1a1a">30</text>
<text x="629.9" y="621.3" font-size="10.6" text-anchor="middle" fill="#1a1a1a">45</text>
<text x="670.2" y="621.3" font-size="10.6" text-anchor="middle" fill="#1a1a1a">60</text>
<text x="590" y="636.7" font-size="10.9" text-anchor="middle" fill="#1a1a1a">Time (min)</text>
<text transform="translate(466,537.5) rotate(-90)" font-size="10.9" text-anchor="middle" fill="#1a1a1a">Norm. PL intensity</text>
<text x="455.3" y="468.2" font-size="17" font-weight="bold" fill="#000">g</text>
</svg></body></html>
